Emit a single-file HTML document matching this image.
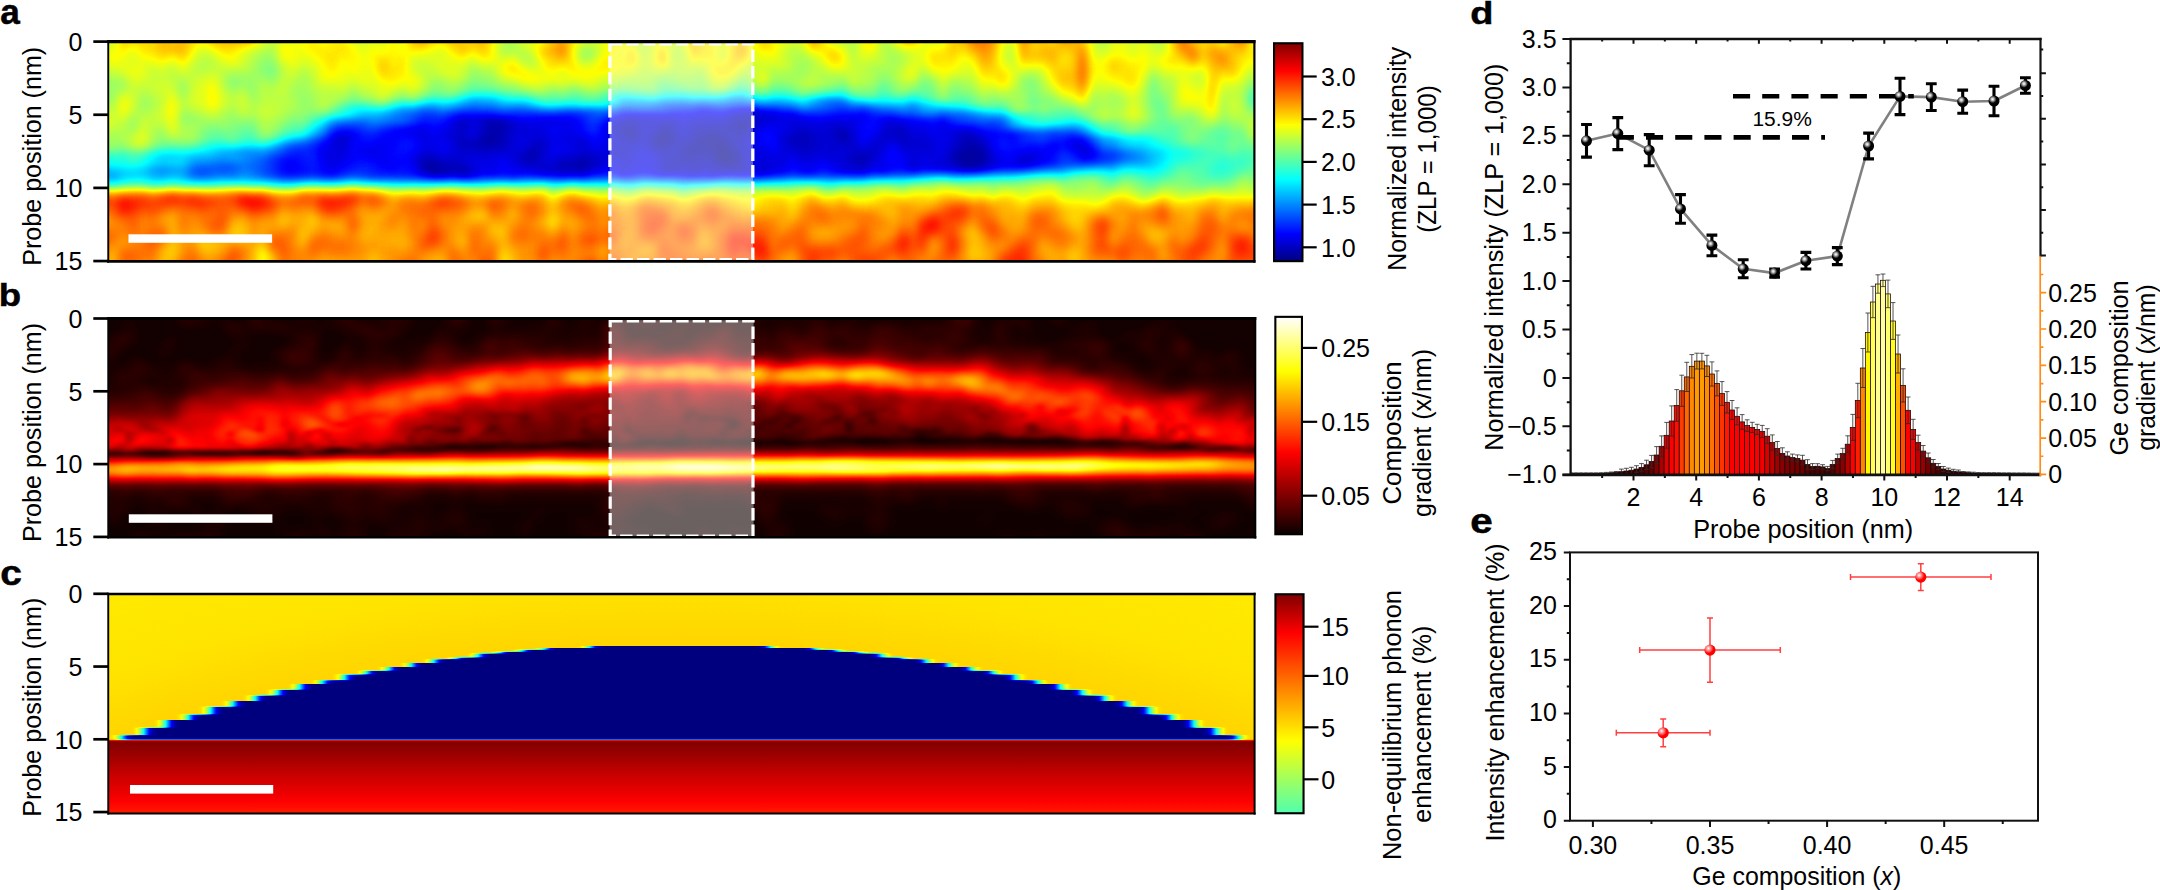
<!DOCTYPE html>
<html lang="en"><head><meta charset="utf-8"><title>Figure</title>
<style>html,body{margin:0;padding:0;background:#fff}svg{display:block}text{font-family:"Liberation Sans", sans-serif;fill:#000}</style></head><body>
<svg width="2160" height="890" viewBox="0 0 2160 890">
<defs>
<filter id="jet" x="0" y="0" width="100%" height="100%" filterUnits="objectBoundingBox" color-interpolation-filters="sRGB"><feComponentTransfer><feFuncR type="table" tableValues="0 0 0 0 .5 1 1 1 .5"/><feFuncG type="table" tableValues="0 0 .5 1 1 1 .5 0 0"/><feFuncB type="table" tableValues=".5 1 1 1 .5 0 0 0 0"/></feComponentTransfer></filter>
<filter id="hot" x="0" y="0" width="100%" height="100%" filterUnits="objectBoundingBox" color-interpolation-filters="sRGB"><feComponentTransfer><feFuncR type="table" tableValues="0.04 .333 .667 1 1 1 1 1 1"/><feFuncG type="table" tableValues="0 0 0 0 .333 .667 1 1 1"/><feFuncB type="table" tableValues="0 0 0 0 0 0 0 .5 1"/></feComponentTransfer></filter>
<filter id="blA" x="-5%" y="-20%" width="110%" height="140%" color-interpolation-filters="sRGB"><feGaussianBlur stdDeviation="5 3.2"/></filter>
<filter id="blB" x="-5%" y="-20%" width="110%" height="140%" color-interpolation-filters="sRGB"><feGaussianBlur stdDeviation="3.2 1.9"/></filter>
<filter id="bl1" x="-5%" y="-50%" width="110%" height="200%" color-interpolation-filters="sRGB"><feGaussianBlur stdDeviation="0.9"/></filter>
<linearGradient id="gJet" x1="0" y1="1" x2="0" y2="0"><stop offset="0" stop-color="#000080"/><stop offset=".125" stop-color="#0000ff"/><stop offset=".375" stop-color="#00ffff"/><stop offset=".625" stop-color="#ffff00"/><stop offset=".875" stop-color="#ff0000"/><stop offset="1" stop-color="#800000"/></linearGradient>
<linearGradient id="gHot" x1="0" y1="1" x2="0" y2="0"><stop offset="0" stop-color="#0a0000"/><stop offset=".375" stop-color="#ff0000"/><stop offset=".75" stop-color="#ffff00"/><stop offset="1" stop-color="#ffffff"/></linearGradient>
<linearGradient id="gJetC" x1="0" y1="1" x2="0" y2="0"><stop offset="0" stop-color="#52ffad"/><stop offset="0.094" stop-color="#80ff80"/><stop offset="0.33" stop-color="#ffff00"/><stop offset="0.822" stop-color="#ff0000"/><stop offset="1.0" stop-color="#800000"/></linearGradient>
<linearGradient id="gCtop" x1="0" y1="0" x2="0" y2="1"><stop offset="0" stop-color="#ffec00"/><stop offset=".45" stop-color="#ffe000"/><stop offset="1" stop-color="#ffd800"/></linearGradient>
<linearGradient id="gCbot" x1="0" y1="0" x2="0" y2="1"><stop offset="0" stop-color="#800000"/><stop offset=".82" stop-color="#fa0000"/><stop offset="1" stop-color="#ff1c00"/></linearGradient>
<radialGradient id="sphK" cx=".37" cy=".34" r=".36"><stop offset="0" stop-color="#fff"/><stop offset=".3" stop-color="#ccc"/><stop offset="1" stop-color="#000"/></radialGradient>
<radialGradient id="sphR" cx=".36" cy=".34" r=".45"><stop offset="0" stop-color="#fff"/><stop offset=".3" stop-color="#ffb0b0"/><stop offset="1" stop-color="#ff0000"/></radialGradient>
<radialGradient id="gCtopV" gradientUnits="userSpaceOnUse" cx="680" cy="2415.8" r="1930"><stop offset=".917" stop-color="#aaaaaa"/><stop offset=".95" stop-color="#a6a6a6"/><stop offset="1" stop-color="#a4a4a4"/></radialGradient>
<linearGradient id="gCbotV" gradientUnits="userSpaceOnUse" x1="0" y1="740.6" x2="0" y2="813"><stop offset="0" stop-color="#ffffff"/><stop offset="1" stop-color="#d9d9d9"/></linearGradient>
<filter id="blC" x="-2%" y="-10%" width="104%" height="120%" color-interpolation-filters="sRGB"><feGaussianBlur stdDeviation="5.5 0.5"/></filter>
<clipPath id="cpA"><rect x="108.2" y="41.6" width="1146.2" height="219.7"/></clipPath>
<clipPath id="cpB"><rect x="108.2" y="318.5" width="1147.8" height="218.6"/></clipPath>
<clipPath id="cpC"><rect x="108.2" y="594.2" width="1146.4" height="219.2"/></clipPath>
<clipPath id="cpD"><rect x="1570.6" y="39" width="470" height="435.8"/></clipPath>
</defs>
<g id="panelA">
<g clip-path="url(#cpA)"><g filter="url(#jet)">
<rect x="100" y="30" width="1165" height="245" fill="#808080"/>
<g filter="url(#blA)"><g transform="translate(78.0,28.5) scale(10.0,5.0)" fill="none" stroke-width="1.06"><path stroke="#020202" d="M64 25h1"/><path stroke="#030303" d="M64 26h1"/><path stroke="#040404" d="M64 24h1"/><path stroke="#060606" d="M58 22h1M64 23h1"/><path stroke="#070707" d="M58 21h1M58 23h1M63 23h1M65 26h1M88 26h1M64 27h1"/><path stroke="#080808" d="M66 20h1M63 22h1M65 25h1M89 25h1M65 27h1M35 28h1"/><path stroke="#090909" d="M66 19h1M55 21h1M64 22h1M62 23h1M61 24h1M63 24h1M89 24h1M88 25h1M89 26h1M89 27h1"/><path stroke="#0a0a0a" d="M41 22h1M62 22h1M62 24h1M61 25h1M90 25h1M90 26h1M35 27h1M50 27h1M88 27h1"/><path stroke="#0b0b0b" d="M41 19h1M41 21h1M63 21h1M66 21h1M76 21h1M40 23h2M61 23h1M45 25h1M63 25h1M89 28h1M35 29h1"/><path stroke="#0c0c0c" d="M41 20h1M54 20h2M58 20h1M62 21h1M40 22h1M55 22h1M76 22h1M89 23h1M58 24h1M65 24h1M78 26h1M90 27h1M36 29h1M38 29h1"/><path stroke="#0d0d0d" d="M42 19h1M65 19h1M42 20h1M65 20h1M54 21h1M59 21h1M64 21h1M59 22h1M88 24h1M90 24h1M60 25h1M62 25h1M45 26h1M50 26h1M60 26h2M63 26h1M34 27h1M36 28h1M50 28h1M88 28h1"/><path stroke="#0e0e0e" d="M66 18h1M42 21h1M61 22h1M72 22h1M57 23h1M59 23h1M45 24h1M60 24h1M48 27h1M59 27h1M61 27h1M78 27h1M38 28h1M65 28h1"/><path stroke="#0f0f0f" d="M38 19h1M59 20h1M62 20h2M40 21h1M72 21h1M42 22h1M57 22h1M88 22h2M38 23h1M42 23h1M65 23h1M88 23h1M40 24h1M87 25h1M35 26h1M62 26h1M87 26h1M49 27h1M66 27h1M34 28h1M37 28h1M48 28h1M59 28h1M64 28h1"/><path stroke="#101010" d="M41 18h1M54 19h2M64 20h1M76 20h1M61 21h1M65 21h1M82 21h1M66 22h1M72 23h1M41 24h1M66 25h1M78 25h1M34 26h1M44 26h1M59 26h1M66 26h1M36 27h2M60 27h1M63 27h1M49 28h1M61 28h1M66 28h1"/><path stroke="#111111" d="M67 17h1M65 18h1M67 18h1M67 19h1M38 20h1M61 20h1M88 21h1M38 22h1M54 22h1M65 22h1M71 22h1M82 22h1M39 23h1M60 23h1M71 23h1M76 23h1M38 24h1M59 24h1M66 24h1M72 24h1M54 25h1M58 25h1M51 26h1M77 26h1M45 27h1M51 27h1M62 27h1"/><path stroke="#121212" d="M66 17h1M55 18h1M40 19h1M58 19h2M81 20h1M57 21h1M81 21h1M73 22h1M46 23h1M55 23h1M66 23h1M73 23h1M90 23h1M39 24h1M42 24h1M46 24h1M54 24h1M57 24h1M77 25h1M79 25h1M48 26h1M38 27h1M44 27h1M58 27h1M58 28h1M90 28h1M37 29h1M50 29h1M61 29h1"/><path stroke="#131313" d="M40 18h1M63 19h2M40 20h1M53 20h1M72 20h1M82 20h1M38 21h1M75 21h1M89 21h1M26 22h1M80 22h1M45 23h1M54 23h1M82 23h1M73 24h1M77 24h1M87 24h1M44 25h1M50 25h1M59 25h1M72 25h1M49 26h1M54 26h1M58 26h1M77 27h1M87 27h1M94 27h1M63 28h1M78 28h1M48 29h1M63 29h1"/><path stroke="#141414" d="M38 18h1M56 18h2M43 19h1M61 19h2M43 20h1M67 20h1M75 20h1M71 21h1M73 21h1M46 22h1M60 22h1M75 22h1M77 22h1M26 23h1M77 23h1M80 23h1M83 23h2M71 24h1M79 24h1M40 25h1M46 25h1M37 26h1M79 26h1M46 28h1M60 28h1M62 28h1M34 29h1M39 29h1M49 29h1"/><path stroke="#151515" d="M42 18h1M59 18h1M53 19h1M56 19h2M56 20h2M56 21h1M80 21h1M39 22h1M56 22h1M81 22h1M84 22h1M50 23h1M75 23h1M50 24h1M53 24h1M75 24h1M83 24h2M100 24h1M38 25h1M53 25h1M73 25h1M36 26h1M52 26h1M94 26h1M46 27h1M83 27h1M91 27h1M47 28h1M51 28h1M68 28h1M83 28h1M58 29h1M65 29h2"/><path stroke="#161616" d="M68 17h1M54 18h1M63 18h1M68 18h1M75 19h1M81 19h1M37 21h1M43 21h1M53 21h1M60 21h1M74 21h1M77 21h1M37 22h1M43 22h1M70 22h1M74 22h1M83 22h1M56 23h1M70 23h1M74 23h1M79 23h1M87 23h1M26 24h1M55 24h1M74 24h1M76 24h1M82 24h1M85 24h1M34 25h2M39 25h1M41 25h1M51 25h1M75 25h1M38 26h1M46 26h1M72 26h1M47 27h1M52 27h1M54 27h1M68 27h1M76 27h1M86 27h1M77 28h1M87 28h1M46 29h2M54 29h1M59 29h1M64 29h1M68 29h1"/><path stroke="#171717" d="M69 17h1M64 18h1M69 18h1M71 18h1M76 19h1M82 19h1M37 20h1M44 20h1M71 20h1M73 20h2M80 20h1M44 21h1M46 21h1M84 21h1M45 22h1M50 22h1M87 22h1M90 22h1M37 23h1M43 23h1M53 23h1M85 23h1M43 24h1M80 24h1M26 25h1M42 25h2M55 25h1M57 25h1M68 25h1M74 25h1M83 25h1M68 26h1M75 26h2M83 26h1M91 26h1M95 26h1M95 27h1M39 28h1M45 28h1M54 28h1M76 28h1M86 28h1M60 29h1M62 29h1M67 29h1"/><path stroke="#181818" d="M65 17h1M39 18h1M58 18h1M62 18h1M68 19h1M71 19h2M45 20h1M60 20h1M77 20h1M45 21h1M67 21h1M70 21h1M83 21h1M25 22h1M53 22h1M100 23h1M44 24h1M70 24h1M78 24h1M37 25h1M52 25h1M71 25h1M76 25h1M84 25h2M100 25h1M25 26h1M40 26h1M43 26h1M55 26h1M70 26h1M73 26h1M86 26h1M69 27h1M79 27h1M85 27h1M67 28h1"/><path stroke="#191919" d="M61 18h1M37 19h1M39 19h1M44 19h1M60 19h1M73 19h2M34 20h1M46 20h1M26 21h1M34 21h1M87 21h1M34 22h1M49 22h1M25 23h1M49 23h1M37 24h1M56 24h1M67 24h1M25 25h1M48 25h2M70 25h1M91 25h1M26 26h1M39 26h1M41 26h1M53 26h1M69 26h1M85 26h1M25 27h1M39 27h1M55 27h1M70 27h1M44 28h1M85 28h1"/><path stroke="#1a1a1a" d="M70 18h1M81 18h1M45 19h2M69 19h1M77 19h1M86 19h1M84 20h1M86 20h1M88 20h1M39 21h1M44 22h1M48 22h1M79 22h1M85 22h1M34 23h1M67 23h1M99 23h1M25 24h1M34 24h2M68 24h1M67 25h1M80 25h1M82 25h1M95 25h1M47 26h1M74 26h1M84 26h1M72 27h1M75 27h1M84 27h1M41 28h1M52 28h1M69 28h1M80 28h1"/><path stroke="#1b1b1b" d="M62 17h1M43 18h1M47 18h1M60 18h1M72 18h1M75 18h1M77 18h1M48 19h2M70 19h1M80 19h1M33 20h1M39 20h1M70 20h1M83 20h1M36 21h1M48 21h2M86 21h1M90 21h1M35 22h2M67 22h1M35 23h1M44 23h1M81 23h1M49 24h1M51 24h2M24 25h1M86 25h1M94 25h1M101 25h1M33 26h1M57 26h1M40 27h2M43 27h1M56 27h1M67 27h1M73 27h1M93 27h1M25 28h1M55 28h1M70 28h1M91 28h1M41 29h1M78 29h1"/><path stroke="#1c1c1c" d="M46 18h1M76 18h1M78 18h1M47 19h1M48 20h2M87 20h1M27 21h1M33 21h1M27 22h1M47 22h1M86 22h1M47 23h2M86 23h1M24 24h1M29 24h1M86 24h1M91 24h1M97 24h1M99 24h1M29 25h1M36 25h1M56 25h1M69 25h1M24 26h1M30 26h1M42 26h1M56 26h1M67 26h1M71 26h1M80 26h1M57 27h1M80 27h1M92 27h1M40 28h1M56 28h2M79 28h1M84 28h1M40 29h1M51 29h1M55 29h1M57 29h1M69 29h1"/><path stroke="#1d1d1d" d="M63 17h1M70 17h2M48 18h1M80 18h1M83 19h2M32 20h1M36 20h1M68 20h1M89 20h1M85 21h1M30 23h1M51 23h2M28 24h1M30 24h1M48 24h1M28 25h1M30 25h1M47 25h1M100 26h1M26 27h1M30 27h1M33 27h1M53 27h1M43 28h1M72 28h2M25 29h1M43 29h1M45 29h1M77 29h1"/><path stroke="#1e1e1e" d="M66 16h2M59 17h1M37 18h1M45 18h1M73 18h1M47 20h1M69 20h1M35 21h1M47 21h1M50 21h1M52 21h1M91 21h1M52 22h1M36 23h1M68 23h1M78 23h1M91 23h1M47 24h1M95 24h1M29 26h1M82 26h1M92 26h2M96 26h1M21 27h1M24 27h1M31 27h1M21 28h1M75 28h1M44 29h1M76 29h1"/><path stroke="#1f1f1f" d="M55 17h1M61 17h1M78 17h1M53 18h1M74 18h1M78 19h1M52 20h1M85 20h1M31 21h2M79 21h1M92 21h2M31 22h1M91 22h1M93 22h1M99 22h1M27 23h1M29 23h1M31 23h1M97 23h1M36 24h1M33 25h1M96 25h2M101 26h1M42 27h1M74 27h1M82 27h1M96 27h1M31 28h1M81 28h1M42 29h1M70 29h1M72 29h2"/><path stroke="#202020" d="M57 17h1M60 17h1M64 17h1M44 18h1M49 18h1M82 18h1M85 19h1M35 20h1M78 20h1M69 21h1M30 22h1M33 22h1M78 22h1M100 22h1M24 23h1M27 24h1M31 24h1M69 24h1M101 24h1M27 25h1M92 25h2M27 26h2M31 26h1M71 27h1M81 27h1M24 28h1M42 28h1M53 28h1M82 28h1M21 29h1M24 29h1M52 29h1M56 29h1M38 30h1"/><path stroke="#212121" d="M54 17h1M76 17h1M34 19h1M30 21h1M68 21h1M78 21h1M51 22h1M28 23h1M93 23h1M81 24h1M96 24h1M31 25h1M21 26h1M32 26h1M97 26h1M20 27h1M32 27h1M20 28h1M30 28h1M33 28h1M92 28h3M20 29h1M53 29h1M36 30h1"/><path stroke="#222222" d="M65 16h1M56 17h1M77 17h1M79 18h1M36 19h1M50 19h1M52 19h1M31 20h1M50 20h1M79 20h1M25 21h1M32 22h1M68 22h2M69 23h1M98 23h1M93 24h2M81 26h1M27 27h1M29 27h1M22 28h1M26 28h1M22 29h1M33 29h1M75 29h1M80 29h1M35 30h1"/><path stroke="#232323" d="M62 16h1M38 17h1M58 17h1M83 18h1M33 24h1M32 25h1M81 25h1M20 26h1M22 27h1M97 27h1M32 28h1M71 28h1M31 29h1M39 30h1"/><path stroke="#242424" d="M86 18h1M35 19h1M79 19h1M87 19h1M28 22h2M92 22h1M32 23h2M95 23h1M32 24h1M92 24h1M98 24h1M99 25h1M74 28h1M30 29h1M32 29h1"/><path stroke="#252525" d="M39 17h1M75 17h1M22 26h1M28 27h1M26 29h1M79 29h1"/><path stroke="#262626" d="M40 17h1M48 17h2M84 18h1M26 20h1M28 21h1M94 23h1M23 28h1M27 28h1M29 28h1M23 29h1M29 29h1M71 29h1"/><path stroke="#272727" d="M63 16h1M41 17h1M50 18h1M90 20h1M51 21h1M98 22h1M92 23h1M96 23h1M23 24h1M21 25h3M23 27h1M83 29h1M37 30h1M61 30h1M63 30h1"/><path stroke="#282828" d="M72 17h1M34 18h1M27 20h1M91 20h1M29 21h1M94 21h1M23 26h1M95 28h1M74 29h1"/><path stroke="#292929" d="M64 16h1M68 16h1M37 17h1M43 17h1M45 17h1M73 17h2M79 17h1M35 18h2M97 22h1M99 26h1M28 28h1M81 29h1M34 30h1M48 30h1M60 30h1"/><path stroke="#2a2a2a" d="M69 16h1M44 17h1M46 17h1M50 17h1M85 18h1M33 19h1M88 19h1M30 20h1M102 26h1M100 27h1M50 30h1M54 30h1M62 30h1"/><path stroke="#2b2b2b" d="M61 16h1M47 17h1M89 19h1M99 21h1M94 22h1M22 24h1M98 25h1M19 27h1M27 29h2M82 29h1M88 29h2M43 30h1"/><path stroke="#2c2c2c" d="M78 16h1M42 17h1M53 17h1M80 17h1M51 20h1M97 21h1M24 22h1M101 23h1M21 24h1M102 25h1M103 26h1M19 28h1M19 29h1M40 30h1M47 30h1"/><path stroke="#2d2d2d" d="M60 16h1M76 16h1M52 18h1M51 19h1M91 19h1M25 20h1M23 23h1M19 26h1M25 30h1M41 30h1M49 30h1M55 30h1M58 30h1"/><path stroke="#2e2e2e" d="M34 17h1M81 17h1M28 20h1M92 20h1M95 21h1M95 22h1M103 25h1M98 26h1M101 27h1M87 29h1M21 30h1M33 30h1M66 30h2"/><path stroke="#2f2f2f" d="M59 16h1M35 17h1M98 21h1M20 25h1M98 27h2M20 30h1M24 30h1M32 30h1M42 30h1M46 30h1M59 30h1M64 30h1M68 30h1"/><path stroke="#303030" d="M70 16h1M87 18h1M90 19h1M30 30h1M65 30h1"/><path stroke="#313131" d="M96 28h1M12 29h1M84 29h1M22 30h1M29 30h1M44 30h1M57 30h1"/><path stroke="#323232" d="M75 16h1M51 17h1M51 18h1M96 21h1M96 22h1M90 29h1M31 30h1M45 30h1M51 30h1"/><path stroke="#333333" d="M71 16h1M77 16h1M36 17h1M33 18h1M27 19h1M32 19h1M92 19h1M29 20h1M102 27h1M14 28h1M18 29h1M85 29h2"/><path stroke="#343434" d="M39 16h1M54 16h1M58 16h1M52 17h1M28 19h1M12 28h1M18 28h1"/><path stroke="#353535" d="M76 15h1M40 16h1M79 16h1M86 17h1M88 18h1M26 19h1M31 19h1M101 22h1M18 27h1M23 30h1M52 30h2M56 30h1"/><path stroke="#363636" d="M41 16h1M82 17h2M100 21h1M22 23h1M15 28h1M97 28h1M26 30h1M69 30h1"/><path stroke="#373737" d="M55 16h1M74 16h1M33 17h1M20 24h1M102 24h1M104 26h1M103 27h1M13 28h1M11 29h1M28 30h1"/><path stroke="#383838" d="M62 15h1M66 15h1M75 15h1M38 16h1M89 18h1M104 25h1M11 28h1M13 29h2M19 30h1"/><path stroke="#393939" d="M60 15h1M44 16h1M57 16h1M87 17h2M19 25h1M18 26h1M14 27h1M15 29h1M70 30h1"/><path stroke="#3a3a3a" d="M59 15h1M43 16h1M30 19h1M21 23h1M103 24h1M17 27h1"/><path stroke="#3b3b3b" d="M56 16h1M73 16h1M80 16h1M32 17h1M32 18h1M91 18h1M93 20h1M23 22h1M15 27h1M17 28h1M98 28h1M91 29h1M75 30h1"/><path stroke="#3c3c3c" d="M61 15h1M65 15h1M42 16h1M81 16h1M92 18h1M29 19h1M72 30h1M77 30h2"/><path stroke="#3d3d3d" d="M58 15h1M34 16h2M83 16h1M90 18h1M17 29h1M27 30h1M73 30h1"/><path stroke="#3e3e3e" d="M67 15h1M31 18h1M25 19h1M99 20h1M105 26h1M13 27h1M16 27h1M16 28h1M76 30h1"/><path stroke="#3f3f3f" d="M74 15h1M37 16h1M45 16h1M84 17h1M24 21h1M17 26h1M92 29h1M12 30h1M18 30h1M71 30h1M74 30h1"/><path stroke="#404040" d="M63 15h1M49 16h1M53 16h1M72 16h1M85 17h1M89 17h1M105 25h1M12 27h1M93 29h1"/><path stroke="#414141" d="M17 25h1"/><path stroke="#424242" d="M39 15h1M64 15h1M28 18h1M97 20h2M18 25h1M16 29h1M11 30h1"/><path stroke="#434343" d="M75 14h1M69 15h1M48 16h1M50 16h2M82 16h1M31 17h1M94 20h1M102 23h1M16 25h1M99 28h1M13 30h1"/><path stroke="#444444" d="M30 18h1M8 28h1"/><path stroke="#454545" d="M40 15h1M57 15h1M70 15h1M77 15h2M19 24h1M106 26h1M11 27h1M104 27h1M15 30h1"/><path stroke="#464646" d="M41 15h1M36 16h1M46 16h1M104 24h1M14 26h1M100 28h1M8 29h1M94 29h1M17 30h1"/><path stroke="#474747" d="M66 14h1M56 15h1M68 15h1M52 16h1M29 18h1M103 23h1M15 25h1M16 26h1M14 30h1M79 30h2"/><path stroke="#484848" d="M76 14h1M73 15h1M84 16h1M27 18h1M95 20h1M102 22h1M20 23h1M106 25h1M9 28h1"/><path stroke="#494949" d="M65 14h1M74 14h1M38 15h1M55 15h1M71 15h1M83 15h1M32 16h2M47 16h1M24 20h1M96 20h1M14 25h1M105 27h1"/><path stroke="#4a4a4a" d="M54 15h1M90 17h1M13 26h1M15 26h1M106 27h1M7 28h1M2 29h1M7 29h1M10 29h1M3 30h1M16 30h1"/><path stroke="#4b4b4b" d="M100 20h1M103 22h1M12 26h1M10 28h1M3 29h1M9 29h1"/><path stroke="#4c4c4c" d="M17 24h1M105 24h1M11 26h1M101 28h1M103 28h1M81 30h2"/><path stroke="#4d4d4d" d="M44 15h1M30 17h1M26 18h1M93 19h1M22 22h1M102 28h1M60 31h1"/><path stroke="#4e4e4e" d="M85 16h2M101 21h1M16 24h1M95 29h1M2 30h1"/><path stroke="#4f4f4f" d="M39 14h1M42 15h2M18 24h1M8 30h1"/><path stroke="#505050" d="M40 14h1M79 15h1M91 17h1M106 24h1M107 26h1M1 29h1M10 30h1"/><path stroke="#515151" d="M35 15h1M23 21h1M13 25h1M107 25h1M7 30h1M83 30h1"/><path stroke="#525252" d="M29 17h1M92 17h1M20 31h1M55 31h1M61 31h2"/><path stroke="#535353" d="M41 14h1M64 14h1M80 15h1M28 17h1M107 27h1M4 29h1M6 29h1M21 31h1M32 31h1M38 31h2M54 31h1"/><path stroke="#545454" d="M54 14h1M37 15h1M87 16h1M25 18h1M8 26h1M8 27h1M2 28h1M0 29h1M96 29h1M35 31h1"/><path stroke="#555555" d="M73 14h1M72 15h1M81 15h1M31 16h1M21 22h1M104 23h1M12 25h1M9 26h1M3 28h1M5 29h1M97 29h2M1 30h1M4 30h1M34 31h1M36 31h1M47 31h1"/><path stroke="#565656" d="M60 14h1M67 14h1M69 14h1M82 15h1M84 15h1M88 16h1M99 19h1M104 22h1M15 24h1M108 25h1M10 26h1M10 27h1M6 28h1M9 30h1M31 31h1M33 31h1M40 31h1M48 31h1"/><path stroke="#575757" d="M55 14h1M59 14h1M70 14h1M34 15h1M93 18h1M14 24h1M11 25h1M9 27h1M0 30h1M50 31h1M63 31h1"/><path stroke="#585858" d="M7 27h1M106 28h1M84 30h1M19 31h1M30 31h1M37 31h1M43 31h1M59 31h1M66 31h1"/><path stroke="#595959" d="M58 14h1M62 14h2M36 15h1M45 15h1M107 24h1M8 25h2M108 26h1M4 28h1M104 28h1M87 30h2M52 31h1M58 31h1M67 31h1"/><path stroke="#5a5a5a" d="M24 19h1M106 23h1M1 28h1M107 28h1M5 30h2M25 31h1M41 31h1M51 31h1"/><path stroke="#5b5b5b" d="M23 20h1M7 26h1M5 28h1M105 28h1M22 31h1M24 31h1M29 31h1M65 31h1"/><path stroke="#5c5c5c" d="M38 14h1M56 14h1M100 19h1M105 22h2M105 23h1M10 25h1M108 27h1M89 30h1M44 31h1M57 31h1M68 31h1"/><path stroke="#5d5d5d" d="M61 14h1M71 14h1M19 23h1M13 24h1M108 24h1M42 31h1M45 31h1M53 31h1M75 31h1"/><path stroke="#5e5e5e" d="M28 16h1M94 19h1M103 29h1M3 31h1M49 31h1M64 31h1"/><path stroke="#5f5f5f" d="M66 13h1M42 14h1M68 14h1M53 15h1M98 19h1M1 26h1M85 30h1M11 31h3M56 31h1M69 31h1"/><path stroke="#606060" d="M83 14h1M85 15h1M27 16h1M27 17h1M1 27h1M0 28h1M90 30h1M17 31h2M26 31h1M28 31h1"/><path stroke="#616161" d="M101 20h1M2 27h1M108 28h1M23 31h1M46 31h1M70 31h1M74 31h1"/><path stroke="#626262" d="M107 23h1M7 25h1M0 26h1M99 29h1M86 30h1M2 31h1"/><path stroke="#636363" d="M77 14h1M29 16h1M89 16h1M102 21h1M109 25h2M0 27h1M6 27h1M120 28h1M107 29h1M91 30h1M7 31h1"/><path stroke="#646464" d="M44 14h1M57 14h1M32 15h1M49 15h1M30 16h1M94 18h1M97 19h1M20 22h1M107 22h1M2 26h1M3 27h1M120 29h1M8 31h1M15 31h1"/><path stroke="#656565" d="M65 13h1M17 23h1M12 24h1M109 26h1M4 27h1M10 31h1M14 31h1M16 31h1"/><path stroke="#666666" d="M43 14h1M72 14h1M80 14h1M48 15h1M110 26h1M106 29h1M92 30h2M71 31h1"/><path stroke="#676767" d="M53 14h1M33 15h1M95 19h1M109 24h1M4 26h1M109 27h1M100 29h1M102 29h1M76 31h2"/><path stroke="#686868" d="M46 15h1M24 18h1M13 23h2M16 23h1M1 25h1M3 26h1M120 27h1M114 28h1M4 31h1M27 31h1M72 31h1M78 31h1"/><path stroke="#696969" d="M39 13h1M60 13h1M86 15h1M95 18h1M103 21h1M108 23h1M110 24h1M0 25h1M111 25h1M5 27h1M114 27h1M108 29h1M0 31h2M73 31h1"/><path stroke="#6a6a6a" d="M40 13h2M59 13h1M76 13h1M47 15h1M50 15h3M99 18h1M22 21h1M6 26h1M101 29h1M120 30h1"/><path stroke="#6b6b6b" d="M58 13h1M35 14h1M81 14h1M87 15h1M26 17h1M23 19h1M96 19h1M111 26h1M113 28h1M105 29h1M114 29h1M9 31h1"/><path stroke="#6c6c6c" d="M54 13h1M37 14h1M78 14h1M82 14h1M26 16h1M18 23h1M114 26h1M116 27h1M104 29h1M113 29h1M103 30h1M107 30h1"/><path stroke="#6d6d6d" d="M45 14h1M117 14h1M88 15h1M90 16h1M98 18h1M21 21h1M4 25h1M112 25h1M116 26h1M110 27h1M115 27h1M118 27h1M109 28h1M115 28h1M94 30h1M6 31h1"/><path stroke="#6e6e6e" d="M70 13h1M75 13h1M93 17h1M108 22h1M9 24h1M11 24h1M118 26h1M120 26h1M113 27h1M118 28h1M5 31h1M60 32h1"/><path stroke="#6f6f6f" d="M62 13h1M80 13h1M36 14h1M79 14h1M84 14h1M97 18h1M101 19h1M15 23h1M109 23h1M111 24h1M111 27h1M119 28h1M98 30h1M82 31h1"/><path stroke="#707070" d="M61 13h1M69 13h1M117 13h1M49 14h1M91 16h2M17 22h1M118 25h1M120 25h1M5 26h1M112 26h1M115 26h1M119 27h1M115 29h1"/><path stroke="#717171" d="M66 12h1M31 15h1M117 15h1M96 18h1M109 22h1M12 23h1M8 24h1M10 24h1M112 24h1M2 25h1M6 25h1M114 25h1M116 25h1M113 26h1M116 28h1M114 30h1M79 31h1"/><path stroke="#727272" d="M42 13h1M22 20h1M109 21h1M16 22h1M3 25h1M113 25h1M112 27h1M119 29h1M106 30h1M113 30h1M81 31h1"/><path stroke="#737373" d="M76 12h1M53 13h1M52 14h1M27 15h1M25 17h1M95 17h1M100 18h1M102 20h2M106 21h1M117 26h1M119 26h1M111 28h2M109 29h1M95 30h1M108 30h1"/><path stroke="#747474" d="M55 13h1M64 13h1M67 13h1M83 13h1M47 14h1M98 17h2M23 18h1M21 20h1M20 21h1M107 21h1M114 21h1M114 22h1M118 29h1M80 31h1"/><path stroke="#757575" d="M80 12h1M38 13h1M71 13h1M74 13h1M50 14h1M109 20h1M16 21h2M114 23h1M1 24h1M113 24h2M118 24h1M120 24h1M5 25h1M117 25h1M119 25h1M117 27h1M112 29h1M107 31h1M120 31h1M55 32h1"/><path stroke="#767676" d="M84 13h1M48 14h1M88 14h1M28 15h1M97 17h1M104 21h1M108 21h1M110 23h1M116 24h1M110 28h1M111 29h1M96 30h2M102 30h1M112 30h1"/><path stroke="#777777" d="M39 12h1M43 13h1M56 13h1M63 13h1M46 14h1M94 17h1M108 19h1M108 20h1M13 21h1M13 22h2M112 23h1M115 25h1M115 30h1M103 31h1M54 32h1"/><path stroke="#787878" d="M69 12h2M117 12h1M34 14h1M89 15h1M107 20h1M114 20h1M113 21h1M19 22h1M113 22h1M113 23h1M0 24h1M117 28h1M105 30h1"/><path stroke="#797979" d="M40 12h1M58 12h1M35 13h1M85 13h1M51 14h1M85 14h1M87 14h1M118 14h1M95 15h1M108 16h1M108 17h1M108 18h1M103 19h1M0 20h1M14 21h1M116 23h1M120 23h1M119 24h1M109 30h1M111 30h1M119 30h1M83 31h1M112 31h1M47 32h1M61 32h1"/><path stroke="#7a7a7a" d="M75 12h1M44 13h1M49 13h1M52 13h1M81 13h1M89 14h1M92 15h1M118 15h1M96 17h1M0 19h1M21 19h1M109 19h1M116 22h1M7 24h1M117 24h1M116 29h1M99 30h1M106 31h1M75 32h1"/><path stroke="#7b7b7b" d="M66 11h1M80 11h1M41 12h1M107 12h1M57 13h1M73 13h1M87 13h1M29 15h1M108 15h1M117 16h1M16 20h2M0 21h1M105 21h1M112 22h1M118 23h2M104 30h1M84 31h1M91 31h1M113 31h2M62 32h1"/><path stroke="#7c7c7c" d="M84 11h1M59 12h1M84 12h1M107 13h1M95 14h1M107 14h1M91 15h1M107 15h1M102 19h1M107 19h1M106 20h1M110 21h1M112 21h1M115 21h2M15 22h1M110 22h1M0 23h1M111 23h1M110 29h1M117 29h1M100 30h1M52 32h1M59 32h1M74 32h1"/><path stroke="#7d7d7d" d="M39 11h1M58 11h1M107 11h1M71 12h1M47 13h1M68 13h1M118 13h1M32 14h1M25 16h1M98 16h1M22 19h1M20 20h1M15 21h1M0 22h1M115 22h1M1 23h1M8 23h1M115 24h1M88 31h1M111 31h1"/><path stroke="#7e7e7e" d="M19 8h1M19 9h1M65 12h1M36 13h1M77 13h1M79 13h1M95 13h1M26 15h1M99 16h1M107 16h1M118 16h1M0 18h1M114 19h1M104 20h1M110 20h1M113 20h1M12 21h1M18 22h1M119 22h1M9 23h1M11 23h1M115 23h1M93 31h1M102 31h1M66 32h1M107 32h1"/><path stroke="#7f7f7f" d="M95 11h1M60 12h1M74 12h1M85 12h1M95 12h1M50 13h1M88 13h1M27 14h1M108 14h1M97 16h1M23 17h1M17 19h1M110 19h1M13 20h1M12 22h1M120 22h1M4 24h1M101 30h1M110 30h1M118 30h1M87 31h1M89 31h1M92 31h1M108 31h1M31 32h1M58 32h1"/><path stroke="#808080" d="M40 11h1M67 12h1M87 12h1M78 13h1M82 13h1M97 15h1M95 16h1M24 17h1M100 17h1M16 19h1M111 19h1M115 20h1M111 21h1M10 23h1M117 23h1M85 31h1M98 31h1M20 32h1M32 32h1M34 32h1M65 32h1M67 32h1M106 32h1"/><path stroke="#818181" d="M80 10h1M107 10h1M15 11h1M59 11h1M85 11h1M117 11h1M38 12h1M54 12h1M81 12h1M37 13h1M90 15h1M96 15h1M107 17h1M21 18h1M107 18h1M111 18h1M15 20h1M116 20h1M1 22h1M118 22h1M117 30h1M90 31h1M109 31h2M115 31h1M21 32h1M40 32h1M50 32h2M70 32h1"/><path stroke="#828282" d="M19 7h1M18 8h1M19 10h1M39 10h1M76 11h1M35 12h1M42 12h1M62 12h1M78 12h2M45 13h1M72 13h1M96 14h1M30 15h1M118 17h1M22 18h1M15 19h1M104 19h1M14 20h1M111 20h1M1 21h1M19 21h1M2 24h2M94 31h1M105 31h1M119 31h1M68 32h2M112 32h1"/><path stroke="#838383" d="M18 7h1M120 9h1M15 10h1M84 10h1M95 10h1M41 11h1M62 11h1M69 11h2M81 11h1M43 12h1M49 12h1M55 12h1M83 12h1M48 13h1M51 13h1M89 13h1M91 14h1M101 18h1M109 18h2M118 18h1M20 19h1M112 20h1M119 21h1M8 22h1M111 22h1M19 32h1M48 32h1M53 32h1M57 32h1"/><path stroke="#848484" d="M120 8h1M18 9h1M35 11h1M94 11h1M10 12h1M17 12h1M36 12h1M73 12h1M77 12h1M22 14h1M97 14h1M22 15h1M93 15h1M0 17h1M10 18h1M114 18h1M118 19h1M1 20h1M12 20h1M105 20h1M118 20h1M118 21h1M99 31h1M39 32h1M63 32h1M71 32h1M77 32h1M82 32h1M111 32h1M60 33h1"/><path stroke="#858585" d="M39 9h1M40 10h1M58 10h1M66 10h1M120 10h1M17 11h1M36 11h1M60 11h1M87 11h1M15 12h1M56 12h1M61 12h1M88 12h1M118 12h1M17 13h1M27 13h1M34 13h1M46 13h1M108 13h1M28 14h1M119 14h1M94 15h1M101 16h1M22 17h1M117 17h1M15 18h1M5 19h1M13 19h1M106 19h1M120 21h1M7 23h1M116 30h1M100 31h1M3 32h1M33 32h1M35 32h1M44 32h1M56 32h1M78 32h1M102 32h2M110 32h1"/><path stroke="#868686" d="M50 5h1M18 6h2M80 9h1M17 10h1M38 11h1M3 12h1M53 12h1M57 12h1M94 12h1M3 13h1M10 13h1M22 13h1M31 14h1M86 14h1M6 15h1M119 15h1M22 16h2M96 16h1M21 17h1M11 18h1M17 18h1M12 19h1M14 19h1M115 19h1M8 21h1M4 23h1M86 31h1M95 31h1M117 31h1M7 32h1M38 32h1M64 32h1M76 32h1M91 32h1M114 32h1M120 32h1"/><path stroke="#878787" d="M43 0h1M76 0h1M72 7h1M72 8h1M72 9h1M16 10h1M41 10h1M62 10h1M94 10h1M2 11h2M10 11h1M16 11h1M61 11h1M2 12h1M68 12h1M72 12h1M2 13h1M94 13h1M96 13h1M3 14h1M17 14h1M33 14h1M90 14h1M23 15h1M98 15h1M101 15h1M10 17h1M15 17h1M114 17h1M10 19h1M116 19h1M5 20h1M18 21h1M3 23h1M104 31h1M106 33h1"/><path stroke="#888888" d="M19 5h1M81 6h1M17 9h1M84 9h1M18 10h1M59 10h1M76 10h1M81 10h1M117 10h1M4 11h1M19 11h1M22 11h1M57 11h1M71 11h1M120 11h1M22 12h1M47 12h1M89 12h1M32 13h1M91 13h1M2 14h1M6 14h1M23 14h1M92 14h1M101 14h1M103 14h1M103 15h1M6 16h1M93 16h1M114 16h1M101 17h1M111 17h1M5 18h1M1 19h1M11 19h1M112 19h1M2 23h1M30 32h1M41 32h1M43 32h1M45 32h1M99 32h1"/><path stroke="#898989" d="M80 2h1M51 5h1M81 5h1M50 6h1M81 7h1M39 8h1M15 9h1M71 9h1M107 9h1M2 10h1M22 10h1M69 10h3M54 11h2M65 11h1M75 11h1M88 11h1M120 12h1M21 13h1M86 13h1M93 13h1M119 13h2M10 14h1M26 14h1M3 15h1M114 15h1M100 16h1M109 17h1M16 18h1M20 18h1M103 18h1M113 19h1M19 20h1M3 22h1M10 22h1M5 24h1M96 31h1M72 32h1M79 32h1M81 32h1M100 32h1M109 32h1M113 32h1"/><path stroke="#8a8a8a" d="M43 1h1M43 3h1M77 3h1M80 3h1M77 4h1M72 6h1M120 7h1M80 8h2M40 9h1M69 9h1M81 9h1M3 10h1M72 10h1M74 10h2M85 10h1M67 11h1M79 11h1M4 12h1M21 12h1M27 12h1M37 12h1M44 12h1M52 12h1M82 12h1M96 12h1M108 12h1M23 13h1M29 14h1M94 14h1M120 14h1M17 15h1M25 15h1M0 16h1M103 16h1M11 17h1M110 17h1M12 18h1M14 18h1M19 19h1M105 19h1M10 20h1M119 20h1M3 21h1M10 21h1M2 22h1M4 22h1M7 22h1M117 22h1M101 31h1M2 32h1M12 32h2M98 32h1M105 32h1M115 32h1"/><path stroke="#8b8b8b" d="M80 1h1M43 2h1M77 2h1M19 4h1M42 4h2M50 4h2M18 5h1M17 8h1M16 9h1M22 9h1M41 9h1M62 9h1M95 9h1M35 10h1M61 10h1M79 10h1M42 11h1M56 11h1M16 12h1M50 12h1M6 13h1M15 13h1M21 14h1M93 14h1M114 14h1M7 15h1M104 15h1M10 16h1M15 16h1M21 16h1M17 17h1M8 20h1M7 21h1M11 21h1M9 22h1M11 22h1M6 24h1M8 32h1M36 32h2M108 32h1M117 32h1M107 33h1"/><path stroke="#8c8c8c" d="M76 1h1M102 3h1M80 4h1M44 5h1M77 5h1M44 6h1M17 7h1M73 7h1M71 8h1M79 8h1M0 9h1M59 9h1M70 9h1M74 9h1M79 9h1M57 10h1M60 10h1M37 11h1M43 11h1M74 11h1M83 11h1M108 11h1M19 12h1M23 12h1M109 12h1M101 13h1M103 13h1M109 13h1M109 14h1M116 14h1M10 15h1M109 15h1M3 16h1M7 16h1M17 16h1M24 16h1M94 16h1M104 16h1M109 16h1M119 16h1M6 17h1M14 17h1M104 18h1M115 18h2M11 20h1M120 20h1M4 21h1M97 31h1M118 31h1M49 32h1M93 32h2M110 33h1"/><path stroke="#8d8d8d" d="M77 0h1M80 0h1M77 1h1M102 2h1M42 3h1M56 4h1M81 4h1M42 5h1M71 5h1M71 6h1M82 6h1M12 7h1M71 7h1M12 8h1M2 9h1M61 9h1M0 10h1M4 10h1M10 10h1M78 10h1M18 11h1M21 11h1M78 11h1M82 11h1M89 11h1M96 11h1M109 11h1M48 12h1M28 13h1M97 13h1M116 13h1M7 14h1M104 14h1M106 14h1M2 15h1M21 15h1M99 15h1M102 15h1M116 15h1M120 15h1M102 16h1M5 17h1M20 17h1M103 17h1M1 18h1M13 18h1M18 19h1M7 20h1M18 20h1M5 21h1M0 32h2M4 32h1M10 32h2M42 32h1M46 32h1M73 32h1M89 32h1M54 33h2M99 33h1M102 33h1"/><path stroke="#8e8e8e" d="M19 3h1M56 3h1M108 3h1M120 3h1M56 5h1M72 5h1M80 5h1M12 6h1M17 6h1M51 6h1M77 6h1M45 7h1M80 7h1M82 7h1M73 8h1M66 9h1M117 9h1M14 10h1M36 10h1M55 10h2M23 11h1M53 11h1M118 11h1M19 13h1M25 13h1M92 13h1M15 14h1M25 14h1M102 14h1M15 15h1M20 15h1M106 15h1M20 16h1M116 16h1M116 17h1M19 18h1M102 18h1M106 18h1M112 18h1M4 20h1M2 21h1M116 31h1M17 32h1M25 32h1M80 32h1M101 32h1M100 33h1"/><path stroke="#8f8f8f" d="M71 4h1M102 4h1M120 4h1M59 5h1M93 5h1M45 6h1M93 6h1M120 6h1M13 7h1M39 7h1M79 7h1M9 9h1M14 9h1M35 9h1M58 9h1M60 9h1M73 9h1M78 9h1M9 10h1M67 10h1M87 10h2M108 10h1M14 11h1M52 11h1M72 11h1M6 12h1M18 12h1M63 12h1M116 12h1M18 13h1M24 13h1M26 13h1M90 13h1M106 13h1M114 13h1M18 14h2M24 14h1M18 15h1M106 16h1M3 17h1M7 17h1M12 17h1M104 17h1M117 18h1M7 19h1M3 20h1M14 32h1M83 32h1M85 32h1M88 32h1M90 32h1M92 32h1M119 32h1M47 33h1M74 33h2"/><path stroke="#909090" d="M105 0h1M105 1h1M76 2h1M108 2h1M18 4h1M44 4h1M59 4h1M43 5h1M60 5h1M59 6h2M80 6h1M77 7h1M0 8h1M9 8h1M11 8h1M13 8h1M16 8h1M22 8h1M34 8h1M40 8h2M59 8h1M67 8h1M69 8h1M78 8h1M84 8h1M3 9h1M11 9h2M20 9h1M56 9h2M67 9h1M75 9h1M94 9h1M23 10h1M38 10h1M54 10h1M73 10h1M96 10h1M109 10h1M49 11h1M64 12h1M119 12h1M7 13h1M102 13h1M20 14h1M0 15h1M16 17h1M6 18h1M8 19h1M18 32h1M22 32h1M24 32h1M84 32h1M61 33h1M91 33h1M101 33h1M111 33h2"/><path stroke="#919191" d="M27 0h1M27 1h1M55 1h1M120 2h1M93 4h1M108 4h1M17 5h1M82 5h1M120 5h1M13 6h1M56 6h1M73 6h1M59 7h1M20 8h1M56 8h1M62 8h1M74 8h1M82 8h1M107 8h1M7 9h1M34 9h1M76 9h1M7 10h1M20 10h2M89 10h1M0 11h1M14 12h1M25 12h1M32 12h1M34 12h1M45 12h2M93 12h1M16 13h1M20 13h1M29 13h1M31 13h1M33 13h1M98 14h1M19 15h1M24 15h1M11 16h1M14 16h1M120 16h1M19 17h1M106 17h1M115 17h1M7 18h1M18 18h1M4 19h1M117 21h1M5 23h1M6 32h1M29 32h1M95 32h1M104 32h1M78 33h1M98 33h1M106 34h1"/><path stroke="#929292" d="M3 0h1M45 0h2M55 0h1M114 0h1M19 2h1M75 2h1M105 2h1M107 2h1M51 3h1M107 3h1M60 4h1M72 4h1M12 5h1M34 7h1M44 7h1M50 7h1M56 7h1M60 7h1M93 7h1M2 8h1M14 8h2M35 8h1M60 8h1M70 8h1M77 8h1M23 9h1M11 10h1M77 10h1M112 10h1M1 11h1M7 11h1M9 11h1M20 11h1M27 11h1M73 11h1M77 11h1M116 11h1M1 12h1M7 12h1M51 12h1M86 12h1M91 12h1M4 13h1M104 13h1M115 13h1M8 14h1M8 15h1M18 16h2M110 16h2M1 17h1M102 17h1M3 18h1M3 19h1M119 19h2M5 22h1M5 32h1M77 33h1"/><path stroke="#939393" d="M3 1h1M28 1h1M75 1h1M102 1h1M108 1h1M114 1h1M3 2h1M28 2h1M42 2h1M55 2h2M59 3h1M81 3h1M105 3h1M107 4h1M11 7h1M78 7h1M7 8h1M61 8h1M38 9h1M77 9h1M1 10h1M8 10h1M6 11h1M11 11h1M34 11h1M47 11h1M63 11h1M112 11h1M5 12h1M20 12h1M24 12h1M28 12h1M101 12h1M103 12h1M106 12h1M114 12h2M1 13h1M14 13h1M115 14h1M5 16h1M18 17h1M119 17h1M117 19h1M9 32h1M23 32h1M26 32h1M116 32h1M52 33h1M66 33h1M94 33h1M105 33h1M109 33h1M115 33h1M117 33h1"/><path stroke="#949494" d="M28 0h1M45 1h2M107 1h1M3 3h1M28 3h1M50 3h1M71 3h1M76 3h1M93 3h1M105 4h1M42 6h1M79 6h1M16 7h1M22 7h1M33 7h1M67 7h1M45 8h1M4 9h1M8 9h1M10 9h1M13 9h1M36 9h1M82 9h1M96 9h1M108 9h1M119 9h1M12 10h1M34 10h1M42 10h1M53 10h1M82 10h1M111 10h1M8 11h1M86 11h1M119 11h1M0 12h1M11 12h1M29 12h1M5 13h1M8 13h1M0 14h1M16 14h1M30 14h1M8 16h1M12 16h1M16 16h1M115 16h1M112 17h1M8 18h1M6 19h1M15 32h1M28 32h1M96 32h1M59 33h1M67 33h1M71 33h1M79 33h1M82 33h1M114 33h1M101 34h1"/><path stroke="#959595" d="M26 0h1M44 0h1M108 0h1M27 2h1M64 4h1M45 5h1M64 5h1M70 5h1M102 5h1M70 6h1M9 7h1M20 7h1M35 7h1M70 7h1M23 8h1M33 8h1M38 8h1M57 8h1M117 8h1M21 9h1M55 9h1M85 9h1M88 9h2M112 9h1M37 10h1M65 10h1M119 10h1M8 12h2M26 12h1M97 12h1M102 12h1M0 13h1M1 14h1M5 14h1M14 14h1M5 15h1M14 15h1M16 15h1M115 15h1M1 16h2M8 17h1M13 17h1M120 17h1M117 20h1M9 21h1M16 32h1M87 32h1M103 33h1"/><path stroke="#969696" d="M38 0h1M47 0h1M54 0h1M107 0h1M44 3h1M72 3h1M75 3h1M101 3h1M70 4h1M107 5h1M16 6h1M34 6h1M39 6h1M83 6h1M14 7h1M69 7h1M74 7h1M84 7h1M3 8h1M66 8h1M68 8h1M93 8h1M95 8h1M119 8h1M48 9h1M109 9h1M52 10h1M118 10h1M5 11h1M44 11h1M46 11h1M50 11h1M64 11h1M68 11h1M93 11h1M106 11h1M111 11h1M90 12h1M11 13h1M1 15h1M11 15h1M4 18h1M105 18h1M113 18h1M119 18h2M2 20h1M6 20h1M58 33h1M65 33h1M70 33h1M102 34h1"/><path stroke="#979797" d="M19 1h1M106 1h1M120 1h1M45 2h1M93 2h1M101 2h1M18 3h1M64 3h1M12 4h1M28 4h1M101 4h1M13 5h1M36 5h1M83 5h1M92 5h1M105 5h1M108 5h1M5 6h1M11 6h1M33 6h1M35 6h1M64 6h1M67 6h1M78 6h1M92 6h1M0 7h1M2 7h1M41 7h1M51 7h1M68 7h1M107 7h1M8 8h1M37 9h1M111 9h1M6 10h1M27 10h1M116 10h1M12 11h1M25 11h1M29 11h1M48 11h1M112 12h1M11 14h2M12 15h1M6 23h1M86 32h1M62 33h1M89 33h1M99 34h1M110 34h1"/><path stroke="#989898" d="M106 0h1M21 1h1M24 1h1M42 1h1M44 1h1M86 1h1M101 1h1M59 2h1M86 2h1M114 2h1M2 3h1M30 3h1M55 3h1M60 3h1M2 4h2M17 4h1M67 4h1M2 5h1M5 5h1M67 5h1M22 6h1M36 6h1M7 7h1M23 7h1M36 7h2M57 7h1M62 7h1M4 8h1M36 8h2M88 8h2M1 9h1M54 9h1M29 10h1M43 10h1M24 11h1M51 11h1M114 11h1M12 12h1M9 13h1M12 13h1M99 14h1M105 14h1M105 15h1M6 21h1M68 33h1M108 33h1M113 33h1M116 33h1M60 34h1M100 34h1"/><path stroke="#999999" d="M9 0h1M24 0h1M75 0h1M86 0h1M20 1h1M29 1h1M85 1h1M2 2h1M21 2h1M29 2h2M46 2h1M64 2h1M71 2h2M85 2h1M106 2h1M57 3h1M67 3h1M103 3h1M45 4h1M57 4h1M76 4h1M82 4h1M92 4h1M16 5h1M35 5h1M57 5h1M101 5h1M2 6h1M57 6h1M68 6h1M84 6h1M107 6h1M5 7h1M38 7h1M40 7h1M83 7h1M21 8h1M6 9h1M33 9h1M68 9h1M87 9h1M93 9h1M5 10h1M13 10h1M83 10h1M93 10h1M26 11h1M28 11h1M101 11h2M115 11h1M31 12h1M104 12h1M112 16h1M97 32h1M51 33h1M53 33h1M69 33h1M98 34h1"/><path stroke="#9a9a9a" d="M21 0h1M29 0h1M97 0h1M101 0h1M113 0h1M118 0h1M26 1h1M58 1h1M104 1h1M118 1h1M20 2h1M24 2h1M44 2h1M57 2h1M81 2h1M84 2h1M104 2h1M32 3h1M45 3h1M52 3h1M70 3h1M84 3h3M30 4h1M36 4h1M52 4h1M84 4h1M103 4h1M28 5h1M73 5h1M79 5h1M84 5h1M43 6h1M102 6h1M4 7h1M6 7h1M15 7h1M61 7h1M88 7h1M92 7h1M119 7h1M6 8h1M76 8h1M96 8h1M29 9h1M46 9h1M63 10h1M86 10h1M106 10h1M32 11h1M45 11h1M91 11h1M103 11h1M30 12h1M111 12h1M30 13h1M112 13h1M110 15h1M105 16h1M118 32h1M64 33h1M81 33h1M90 33h1M93 33h1M95 33h1M78 34h1M107 34h1M18 46h1"/><path stroke="#9b9b9b" d="M22 0h1M30 0h1M48 0h1M58 0h1M62 0h1M69 0h1M78 0h1M84 0h2M87 0h1M30 1h1M38 1h1M54 1h1M56 1h1M84 1h1M52 2h1M58 2h1M67 2h1M103 2h1M21 3h1M27 3h1M29 3h1M32 4h1M22 5h1M54 5h1M78 5h1M37 6h1M69 6h1M42 7h1M117 7h1M5 8h1M10 8h1M28 8h1M75 8h1M94 8h1M108 8h1M112 8h1M28 9h1M45 9h1M53 9h1M110 9h1M116 9h1M26 10h1M28 10h1M48 10h2M90 11h1M33 12h1M105 13h1M4 14h1M100 15h1M111 15h1M9 20h1M6 22h1M56 33h2M72 33h1M76 33h1M85 33h1M104 33h1M120 33h1M77 34h1M94 34h1"/><path stroke="#9c9c9c" d="M12 0h1M20 0h1M39 0h1M42 0h1M72 0h1M102 0h1M22 1h1M47 1h1M62 1h1M64 1h1M69 1h1M72 1h1M1 2h1M18 2h1M32 2h1M51 2h1M92 3h1M104 3h1M106 3h1M5 4h1M83 4h1M34 5h1M4 6h1M14 6h1M20 6h1M23 6h1M28 6h1M74 6h1M88 6h1M101 6h1M105 6h1M21 7h1M28 7h1M26 8h1M29 8h1M50 8h1M58 8h1M5 9h1M26 9h2M42 9h1M47 9h1M83 9h1M118 9h1M24 10h1M68 10h1M101 10h2M110 10h1M92 12h1M112 15h1M2 17h1M4 17h1M105 17h1M27 32h1M50 33h1M54 34h1M101 35h1M18 45h1M18 47h1"/><path stroke="#9d9d9d" d="M23 0h1M66 0h1M81 0h1M0 1h1M2 1h1M9 1h1M57 1h1M97 1h1M0 2h1M50 2h1M118 2h1M12 3h1M58 3h1M117 3h1M21 4h2M54 4h1M78 4h1M106 4h1M11 5h1M103 5h1M6 6h1M9 6h1M54 6h1M3 7h1M26 7h1M64 7h1M89 7h1M44 8h1M46 8h1M55 8h1M83 8h1M110 8h1M25 10h1M51 10h1M30 11h1M97 11h1M98 13h1M9 14h1M112 14h1M13 16h1M9 19h1M80 33h1M83 33h1M88 33h1M92 33h1M67 34h1M109 34h1"/><path stroke="#9e9e9e" d="M19 0h1M25 0h1M49 0h1M104 0h1M120 0h1M52 1h1M59 1h1M63 1h1M78 1h1M81 1h1M93 1h1M22 2h1M54 2h1M63 2h1M70 2h1M1 3h1M20 3h1M22 3h1M24 3h1M29 4h1M35 4h1M85 4h1M104 4h1M117 4h1M21 5h1M33 5h1M39 5h1M52 5h1M104 5h1M21 6h1M41 6h1M8 7h1M29 7h1M102 7h1M1 8h1M24 8h1M48 8h1M51 8h1M54 8h1M109 8h1M24 9h1M86 9h1M102 9h1M106 9h1M33 10h1M46 10h2M50 10h1M64 10h1M13 11h1M33 11h1M110 11h1M110 14h1M2 19h1M44 33h1M63 33h1M84 33h1M96 33h1M55 34h1M66 34h1M71 34h1M79 34h1M111 34h1"/><path stroke="#9f9f9f" d="M0 0h1M17 0h2M63 0h1M65 0h1M1 1h1M23 1h1M66 1h1M103 1h1M113 1h1M26 2h1M60 2h1M62 2h1M69 2h1M119 2h1M54 3h1M78 3h1M13 4h1M27 4h1M41 4h1M3 5h1M32 5h1M53 5h1M68 5h1M76 5h1M106 5h1M7 6h1M15 6h1M53 6h1M62 6h1M108 6h1M46 7h1M54 7h1M101 7h1M42 8h1M53 8h1M85 8h1M102 8h1M116 8h1M52 9h1M63 9h1M65 9h1M101 9h1M114 10h1M111 13h1M9 18h1M31 33h1M119 33h1M47 34h1M105 34h1M112 34h1M117 34h1M102 35h1"/><path stroke="#a0a0a0" d="M57 0h1M64 0h1M115 0h1M18 1h1M25 1h1M49 1h1M65 1h1M67 1h1M87 1h1M119 1h1M78 2h1M92 2h1M117 2h1M41 3h1M16 4h1M86 4h1M4 5h1M23 5h1M29 5h2M41 5h1M49 5h1M69 5h1M117 5h1M3 6h1M29 6h1M38 6h1M117 6h1M119 6h1M24 7h1M53 7h1M66 7h1M76 7h1M108 7h1M27 8h1M87 8h1M101 8h1M111 8h1M49 9h3M32 10h1M31 11h1M104 11h1M110 12h1M110 13h1M111 14h1M4 15h1M4 16h1M113 17h1M2 18h1M34 33h1M40 33h1M48 33h1M61 34h1M91 34h1M115 34h1M119 42h1"/><path stroke="#a1a1a1" d="M2 0h1M11 0h1M36 0h1M59 0h1M70 0h1M32 1h1M39 1h1M70 1h2M97 2h1M0 3h1M63 3h1M114 3h1M119 3h1M20 4h1M49 4h1M55 4h1M79 4h1M20 5h1M31 5h1M37 5h1M74 5h1M26 6h1M31 6h1M63 6h1M106 6h1M10 7h1M27 7h1M63 7h1M105 7h1M63 8h1M86 8h1M92 8h1M106 8h1M25 9h1M44 10h2M90 10h2M103 10h1M13 12h1M105 12h1M99 13h1M9 15h1M97 33h1M75 34h1M106 35h1"/><path stroke="#a2a2a2" d="M52 0h1M119 0h1M12 1h1M12 2h1M23 2h1M25 2h1M65 2h1M36 3h1M46 3h1M69 3h1M11 4h1M24 4h1M31 4h1M53 4h1M75 4h1M6 5h1M14 5h1M27 5h1M63 5h1M88 5h1M27 6h1M40 6h1M49 6h1M52 6h1M61 6h1M76 6h1M104 6h1M31 7h1M95 7h1M106 7h1M110 7h1M112 7h1M116 7h1M118 8h1M43 9h2M115 10h1M13 15h1M9 17h1M39 33h1M73 33h1M74 34h1M116 34h1M67 35h1M99 35h1M18 48h1"/><path stroke="#a3a3a3" d="M1 0h1M9 2h1M49 2h1M5 3h1M25 3h1M31 3h1M62 3h1M118 3h1M25 4h1M63 4h1M69 4h1M74 4h1M15 5h1M24 6h1M89 6h1M43 7h1M86 7h2M64 8h1M32 9h1M30 10h1M97 10h1M13 13h1M9 16h1M32 33h1M87 33h1M52 34h1M65 34h1M114 34h1M71 35h1M100 35h1"/><path stroke="#a4a4a4" d="M13 0h2M53 0h1M96 0h1M48 1h1M92 1h1M31 2h1M23 3h1M26 3h1M49 3h1M74 3h1M79 3h1M23 4h1M119 4h1M26 5h1M62 5h1M119 5h1M0 6h1M32 6h1M1 7h1M75 7h1M96 7h1M109 7h1M25 8h1M31 8h1M52 8h1M65 8h1M105 8h1M31 10h1M104 10h1M13 14h1M86 33h1M68 34h1M103 34h1M94 35h1M98 35h1M18 44h1"/><path stroke="#a5a5a5" d="M7 0h1M71 0h1M93 0h1M11 1h1M31 1h1M60 1h1M38 2h1M66 2h1M74 2h1M17 3h1M35 3h1M53 3h1M65 3h1M1 4h1M4 4h1M58 4h1M62 4h1M7 5h1M24 5h2M85 5h2M8 6h1M46 6h1M86 6h1M98 6h1M103 6h1M116 6h1M49 7h1M52 7h1M55 7h1M85 7h1M94 7h1M104 7h1M32 8h1M47 8h1M49 8h1M31 9h1M64 9h1M92 11h1M43 33h1M45 33h1M59 34h1M70 34h1M82 34h1M93 34h1M95 34h1M66 35h1M78 35h1M110 35h1M119 41h1M42 46h1M42 47h1"/><path stroke="#a6a6a6" d="M31 0h1M67 0h2M103 0h1M109 0h1M7 1h1M50 1h1M100 1h1M41 2h1M11 3h1M6 4h1M34 4h1M68 4h1M109 5h1M109 6h1M25 7h1M32 7h1M98 7h1M91 9h1M104 9h2M105 11h1M98 12h1M100 14h1M113 16h1M33 33h1M58 34h1M85 34h1M104 34h1M47 38h1M47 39h1M119 43h1"/><path stroke="#a7a7a7" d="M60 0h1M53 1h1M115 1h1M7 2h1M11 2h1M47 2h1M53 2h1M113 2h1M82 3h1M15 4h1M26 4h1M33 4h1M37 4h1M39 4h1M65 4h1M88 4h1M65 5h1M98 5h1M25 6h1M30 6h1M65 6h1M87 6h1M48 7h1M65 7h1M43 8h1M104 8h1M90 9h1M92 9h1M97 9h1M103 9h1M114 9h1M99 12h1M38 33h1M41 33h1M46 33h1M64 34h1M89 34h1M96 34h1M60 35h1M77 35h1M67 36h1M71 36h1M101 36h1M43 49h1M43 50h1"/><path stroke="#a8a8a8" d="M4 0h1M35 0h1M56 0h1M61 0h1M100 0h1M96 1h1M39 2h1M7 3h1M95 3h1M97 3h1M112 3h1M7 4h1M95 4h1M109 4h1M55 5h1M61 5h1M85 6h1M112 6h1M47 7h1M58 7h1M105 10h1M113 15h1M49 33h1M53 34h1M69 34h1M72 34h1M80 34h1M83 34h2M97 34h1M108 34h1M54 35h1M79 35h1M109 35h1M99 36h2M99 38h1"/><path stroke="#a9a9a9" d="M50 0h1M73 0h1M51 1h1M68 1h1M74 1h1M117 1h1M36 2h1M87 2h1M112 2h1M6 3h1M83 3h1M0 4h1M14 4h1M73 4h1M112 4h1M9 5h1M1 6h1M10 6h1M55 6h1M92 10h1M35 33h1M118 33h1M81 34h1M113 34h1M47 35h1M68 35h1M111 35h1M99 37h1M42 45h1M43 48h1M3 49h1M3 50h1"/><path stroke="#aaaaaa" d="M37 0h1M92 0h1M14 1h1M36 1h1M109 1h1M111 1h1M5 2h2M79 2h1M100 2h1M111 2h1M4 3h1M13 3h1M46 4h1M1 5h1M38 5h1M40 5h1M112 5h1M116 5h1M66 6h1M99 6h1M110 6h1M99 7h1M118 7h1M91 8h1M97 8h2M30 9h1M115 9h1M113 14h1M20 33h1M51 34h1M76 34h1M90 34h1M92 34h1M102 36h1M9 44h1M89 45h1M99 46h1M17 48h1M42 48h1M17 49h1M70 50h1"/><path stroke="#ababab" d="M6 0h1M8 0h1M98 0h1M111 0h1M4 1h1M35 2h1M96 2h1M16 3h1M39 3h1M88 3h1M109 3h1M0 5h1M46 5h1M75 5h1M87 5h1M75 6h1M95 6h1M103 7h1M99 8h1M103 8h1M99 11h1M21 33h1M42 33h1M62 34h1M61 35h1M65 35h1M105 35h1M94 36h1M47 37h1M71 37h1M100 37h1M99 39h1M15 41h1M12 43h1M89 44h1M9 45h1M18 49h1"/><path stroke="#acacac" d="M82 0h1M6 1h1M17 1h1M35 1h1M112 1h1M4 2h1M68 2h1M109 2h1M33 3h1M68 3h1M61 4h1M8 5h1M89 5h1M95 5h1M99 5h1M47 6h1M96 6h1M90 8h1M113 13h1M56 34h2M107 35h1M112 35h1M66 36h1M98 36h1M23 38h1M23 39h1M47 40h1M89 41h1M22 42h1M89 42h1M9 43h1M18 43h1M89 43h1M99 45h1M3 48h1M36 48h1"/><path stroke="#adadad" d="M32 0h1M74 0h1M13 1h1M9 3h1M37 3h2M96 3h1M87 4h1M98 4h1M114 4h1M58 5h1M30 7h1M91 7h1M99 9h1M99 10h1M98 11h1M30 33h1M55 35h1M69 35h1M93 35h1M114 35h2M117 35h1M47 36h1M68 36h1M100 38h1M15 40h1M16 41h1M22 41h1M42 41h1M12 44h1M42 44h1M89 46h1M29 47h1M43 47h1M17 50h1"/><path stroke="#aeaeae" d="M99 0h1M41 1h1M61 1h1M79 1h1M17 2h1M33 2h1M88 2h1M95 2h1M14 3h2M66 3h1M87 3h1M113 3h1M40 4h1M118 4h1M115 5h1M58 6h1M94 6h1M115 6h1M97 7h1M111 7h1M30 8h1M98 9h1M113 9h1M113 10h1M113 11h1M113 12h1M88 34h1M120 34h1M52 35h1M70 35h1M75 35h1M80 35h1M84 35h1M95 35h1M60 36h1M69 36h1M111 36h1M40 37h1M20 38h1M40 38h1M100 39h1M16 40h1M42 40h1M107 41h1M16 42h1M13 43h1M9 46h1M29 46h1M3 47h1M17 47h1M54 50h1"/><path stroke="#afafaf" d="M88 0h1M112 0h1M5 1h1M8 1h1M99 1h1M10 2h1M14 2h1M61 3h1M8 4h1M38 4h1M96 4h2M99 4h1M10 5h1M115 7h1M113 8h1M115 8h1M19 33h1M37 33h1M63 34h1M119 34h1M103 35h1M116 35h1M54 36h1M110 36h1M81 37h1M20 39h1M41 40h1M89 40h1M9 42h1M12 42h1M15 42h1M42 42h1M107 42h1M42 43h1M13 44h1M8 46h1M19 46h1M19 47h1M36 47h1M99 47h1M36 49h1M54 49h1M70 49h1M52 50h1M69 50h1M77 50h1"/><path stroke="#b0b0b0" d="M51 0h1M10 1h1M37 1h1M88 1h1M13 2h1M48 2h1M40 3h1M47 3h1M9 4h1M115 4h1M96 5h1M91 6h1M98 10h1M100 13h1M86 34h1M59 35h1M81 35h1M85 35h1M91 35h1M96 35h2M80 36h2M93 36h1M114 36h1M39 37h1M67 37h1M94 37h1M111 37h1M39 38h1M16 39h1M22 40h2M100 40h1M119 40h1M41 41h1M62 42h1M38 43h1M119 44h1M8 45h1M90 45h1M3 46h1M43 46h1M90 46h1M8 47h1M30 49h1M76 49h1M30 50h1M76 50h1M80 50h1"/><path stroke="#b1b1b1" d="M83 0h1M117 0h1M33 1h1M73 1h1M8 2h1M37 2h1M61 2h1M99 2h1M115 2h1M8 3h1M10 3h1M34 3h1M100 3h1M111 3h1M47 5h1M118 6h1M114 8h1M3 33h1M31 34h1M44 34h1M73 34h1M87 34h1M64 35h1M72 35h1M83 35h1M92 35h1M104 35h1M65 36h1M109 36h1M43 37h1M98 37h1M101 37h1M114 37h1M71 38h1M99 40h1M9 41h1M38 42h1M22 43h1M62 43h1M3 45h1M87 49h1M18 50h1M38 50h1M53 50h1M87 50h1"/><path stroke="#b2b2b2" d="M5 0h1M79 0h1M99 3h1M10 4h1M66 5h1M91 5h1M48 6h1M97 6h1M90 7h1M113 7h1M36 33h1M50 34h1M74 35h1M61 36h1M70 36h1M78 36h1M92 36h1M106 36h1M20 37h1M66 37h1M68 37h2M43 38h1M81 38h1M111 38h1M9 39h1M15 39h1M29 39h1M9 40h1M29 40h1M28 41h1M100 41h1M108 41h1M18 42h1M108 42h1M32 43h1M90 44h1M99 44h1M29 45h1M17 46h1M9 47h1M29 48h1M42 49h1M45 50h1M49 50h1"/><path stroke="#b3b3b3" d="M15 0h1M82 1h1M95 1h1M15 2h1M40 2h1M82 2h2M115 3h1M116 4h1M97 5h1M48 34h1M82 35h1M79 36h1M23 37h1M60 37h1M80 37h1M92 37h2M2 38h1M9 38h1M29 38h1M94 38h1M98 38h1M2 39h1M22 39h1M41 39h2M107 40h1M29 41h1M62 41h1M74 41h1M28 42h1M32 42h1M14 43h1M17 44h1M56 44h1M96 44h1M12 45h2M17 45h1M43 45h1M56 45h1M36 46h1M97 46h1M100 46h1M90 47h1M97 47h1M8 48h1M30 48h1M70 48h1M76 48h1M45 49h1M47 49h1M52 49h1M31 50h1M46 50h2M78 50h1"/><path stroke="#b4b4b4" d="M16 0h1M90 0h2M95 0h1M98 1h1M16 2h1M73 3h1M98 3h1M47 4h1M66 4h1M118 5h1M46 34h1M53 35h1M58 35h1M113 35h1M84 36h1M103 36h1M54 37h1M70 37h1M110 37h1M22 38h1M25 39h1M46 39h1M49 39h1M70 39h1M25 40h1M0 41h1M32 41h1M38 41h1M31 42h1M100 42h1M31 43h1M90 43h1M100 43h1M8 44h1M14 44h1M38 44h1M100 44h1M97 45h1M100 45h1M35 46h1M24 47h2M35 47h1M45 48h1M81 48h1M31 49h1M105 50h1"/><path stroke="#b5b5b5" d="M10 0h1M41 0h1M15 1h1M83 1h1M89 4h1M113 4h1M94 5h1M110 5h1M1 33h1M7 33h1M39 34h2M43 34h1M76 35h1M40 36h1M43 36h1M52 36h1M55 36h1M59 36h1M77 36h1M105 36h1M115 36h1M28 37h1M30 37h1M16 38h1M21 38h1M46 38h1M48 38h1M70 38h1M92 38h2M104 38h1M114 38h1M1 39h1M81 39h1M93 39h2M18 40h1M26 40h1M28 40h1M32 40h1M49 40h1M93 40h1M18 41h1M31 41h1M118 41h1M13 42h1M29 42h2M16 43h1M54 43h1M108 43h1M32 44h1M57 44h1M62 44h1M52 45h1M96 45h1M108 45h1M71 46h1M0 47h1M30 47h1M71 47h1M89 47h1M100 47h1M19 48h1M25 48h1M47 48h1M54 48h1M97 48h1M103 48h1M49 49h1M53 49h1M69 49h1M81 49h1M36 50h1M97 50h1M101 50h1"/><path stroke="#b6b6b6" d="M33 0h2M91 1h1M73 2h1M91 4h1M90 6h1M113 6h1M34 34h1M31 35h1M39 36h1M72 36h1M75 36h1M83 36h1M95 36h1M103 37h1M28 38h1M30 38h1M38 38h1M110 38h1M18 39h1M32 39h1M38 39h3M89 39h1M104 39h1M111 39h1M1 40h1M20 40h1M38 40h1M55 40h1M120 40h1M12 41h1M23 41h1M47 41h1M55 41h1M75 41h1M120 41h1M0 42h1M41 42h1M54 42h1M90 42h1M118 42h1M17 43h1M30 43h1M96 43h1M3 44h1M29 44h1M43 44h1M52 44h1M85 44h1M108 44h1M57 45h1M0 46h1M24 46h1M30 46h1M27 47h1M45 47h1M55 47h1M70 47h1M0 48h1M9 48h1M24 48h1M35 48h1M12 49h1M26 49h1M48 49h1M77 49h1M80 49h1M97 49h1M101 49h1M103 49h1"/><path stroke="#b7b7b7" d="M116 0h1M16 1h1M40 1h1M114 5h1M0 33h1M2 33h1M12 33h2M51 35h1M31 36h1M112 36h1M22 37h1M29 37h1M59 37h1M102 37h1M104 37h1M49 38h1M55 38h1M19 39h1M21 39h1M24 39h1M26 39h1M28 39h1M43 39h1M48 39h1M55 39h1M98 39h1M110 39h1M0 40h1M70 40h1M74 40h1M81 40h1M106 40h1M11 41h1M26 41h1M30 41h1M73 41h1M74 42h1M29 43h1M85 43h1M107 43h1M22 44h1M30 44h1M114 44h1M19 45h1M30 45h1M36 45h1M98 45h1M114 45h1M13 46h1M28 46h1M55 46h1M98 46h1M108 46h1M26 47h1M26 48h2M31 48h1M55 48h1M71 48h1M87 48h1M101 48h1M6 49h1M38 49h1M46 49h1M21 50h1M48 50h1M81 50h1"/><path stroke="#b8b8b8" d="M34 2h1M91 2h1M98 2h1M91 3h1M94 4h1M113 5h1M62 35h1M89 35h1M28 36h1M91 36h1M97 36h1M104 36h1M9 37h1M21 37h1M48 37h1M52 37h1M55 37h1M65 37h1M83 37h1M109 37h1M1 38h1M8 38h1M54 38h1M30 39h1M71 39h1M92 39h1M106 39h1M11 40h1M19 40h1M30 40h1M37 40h1M46 40h1M62 40h1M75 40h1M94 40h1M108 40h1M110 40h1M37 41h1M49 41h1M80 41h1M93 41h1M99 41h1M110 41h1M11 42h1M14 42h1M37 42h1M55 42h1M103 42h1M120 42h1M15 43h1M28 43h1M99 43h1M31 44h1M54 44h1M97 44h1M35 45h1M91 45h1M25 46h1M120 46h1M28 47h1M81 47h1M120 47h1M6 48h1M12 48h1M23 48h1M44 48h1M48 48h1M99 48h1M44 49h1M55 49h1M71 49h1M105 49h1M113 49h1M11 50h2M26 50h1M42 50h1M55 50h1M71 50h1"/><path stroke="#b9b9b9" d="M100 4h1M114 7h1M100 12h1M14 33h1M32 34h1M45 34h1M118 34h1M43 35h1M46 35h1M108 35h1M30 36h1M64 36h1M116 36h2M61 37h1M15 38h1M42 38h1M60 38h1M66 38h1M69 38h1M80 38h1M116 39h1M31 40h1M73 40h1M76 40h1M104 40h1M109 40h1M54 41h1M103 41h1M4 42h1M10 42h1M17 42h1M75 42h1M80 42h1M110 42h1M0 43h1M4 43h1M10 43h1M56 43h1M63 43h1M0 45h1M14 45h1M55 45h1M85 45h1M12 46h1M27 46h1M34 46h1M52 46h1M91 46h1M13 47h1M23 47h1M31 47h1M34 47h1M47 47h1M76 47h1M103 47h1M13 48h1M49 48h1M52 48h1M57 48h1M84 48h1M113 48h1M0 49h1M8 49h1M11 49h1M29 49h1M35 49h1M107 49h1M22 50h1M44 50h1M107 50h1"/><path stroke="#bababa" d="M34 1h1M48 3h1M90 5h1M23 33h1M25 33h1M28 33h2M33 34h1M49 34h1M39 35h1M57 35h1M86 35h1M90 35h1M20 36h1M82 36h1M85 36h1M96 36h1M107 36h1M113 36h1M72 37h1M19 38h1M32 38h1M41 38h1M52 38h1M59 38h1M83 38h1M103 38h1M109 38h1M8 39h1M11 39h1M54 39h1M76 39h2M107 39h1M109 39h1M2 40h1M17 40h1M24 40h1M111 40h1M116 40h1M118 40h1M25 41h1M81 41h1M88 41h1M106 41h1M63 42h1M73 42h1M11 43h1M33 43h1M37 43h1M55 43h1M114 43h1M120 43h1M10 44h1M91 44h1M28 45h1M31 45h2M38 45h1M71 45h1M119 45h2M2 46h1M26 46h1M31 46h1M45 46h1M56 46h2M70 46h1M96 46h1M114 46h1M2 47h1M44 47h1M84 47h1M91 47h1M101 47h1M2 48h1M7 48h1M16 48h1M69 48h1M100 48h1M107 48h1M7 49h1M13 49h1M22 49h1M25 49h1M27 49h1M0 50h1M27 50h1M96 50h1M104 50h1M114 50h1"/><path stroke="#bbbbbb" d="M40 0h1M94 3h1M116 3h1M111 4h1M48 5h1M4 33h1M56 35h1M73 35h1M120 35h1M2 37h1M31 37h1M38 37h1M46 37h1M82 37h1M18 38h1M24 38h1M36 38h1M67 38h2M82 38h1M37 39h1M52 39h1M114 39h1M119 39h2M21 40h1M54 40h1M77 40h1M80 40h1M1 41h1M17 41h1M109 41h1M49 42h1M99 42h1M57 43h1M92 43h1M0 44h1M28 44h1M44 44h1M55 44h1M63 44h1M120 44h1M44 45h1M88 45h1M44 46h1M88 46h1M1 47h1M12 47h1M39 47h1M49 47h1M57 47h1M98 47h1M102 47h1M113 47h1M22 48h1M46 48h1M90 48h1M105 48h1M2 49h1M9 49h1M23 49h2M57 49h1M78 49h1M84 49h1M2 50h1M6 50h1M39 50h1M103 50h1"/><path stroke="#bcbcbc" d="M90 1h1M114 6h1M5 33h1M22 33h1M40 35h1M48 35h1M63 35h1M119 35h1M46 36h1M48 36h1M76 36h1M75 37h1M79 37h1M91 37h1M97 37h1M105 37h2M115 37h1M11 38h1M26 38h1M76 38h1M89 38h1M101 38h1M106 38h1M17 39h1M36 39h1M75 39h1M12 40h1M43 40h1M48 40h1M10 41h1M63 41h1M76 41h1M90 41h1M104 41h1M26 42h1M33 42h1M96 42h1M3 43h1M8 43h1M43 43h1M49 43h1M33 44h1M36 44h1M45 44h1M49 44h1M98 44h1M10 45h1M22 45h1M24 45h1M45 45h1M49 45h1M54 45h1M62 45h1M47 46h1M49 46h1M7 47h1M16 47h1M22 47h1M48 47h1M52 47h1M54 47h1M88 47h1M1 48h1M39 48h1M58 48h1M102 48h1M19 49h1M37 49h1M39 49h1M100 49h1M118 49h1M14 50h1M24 50h1M35 50h1M37 50h1M79 50h1M100 50h1M106 50h1M108 50h1M113 50h1M118 50h1"/><path stroke="#bdbdbd" d="M89 3h1M90 4h1M111 6h1M8 33h1M10 33h1M24 33h1M41 34h2M22 36h2M74 36h1M42 37h1M49 37h1M78 37h1M84 37h1M25 38h1M37 38h1M72 38h1M77 38h1M97 38h1M0 39h1M3 39h1M34 39h1M45 39h1M50 39h1M64 39h1M73 39h1M80 39h1M83 39h1M34 40h1M39 40h2M52 40h1M88 40h1M98 40h1M103 40h1M4 41h1M70 41h1M94 41h1M111 41h1M47 42h1M88 42h1M93 42h1M114 42h1M5 43h1M21 43h1M41 43h1M45 43h1M52 43h1M97 43h1M103 43h1M16 44h1M92 44h1M2 45h1M27 45h1M1 46h1M22 46h1M39 46h1M113 46h1M6 47h1M108 47h1M28 48h1M91 48h1M106 48h1M120 48h1M16 49h1M96 49h1M106 49h1M114 49h1M19 50h1M74 50h2"/><path stroke="#bebebe" d="M116 1h1M48 4h1M110 4h1M100 5h1M6 33h1M20 34h1M44 35h1M51 36h1M53 36h1M62 36h1M32 37h1M76 37h2M61 38h1M75 38h1M6 39h1M31 39h1M59 39h1M62 39h1M69 39h1M82 39h1M103 39h1M4 40h1M6 40h1M45 40h1M50 40h1M64 40h1M79 40h1M92 40h1M19 41h1M21 41h1M24 41h1M33 41h1M40 41h1M46 41h1M79 41h1M5 42h1M21 42h1M40 42h1M91 43h1M110 43h1M4 44h1M11 44h1M61 44h1M88 44h1M61 45h1M23 46h1M32 46h1M38 46h1M54 46h1M84 46h2M101 46h1M119 46h1M96 47h1M105 47h2M114 47h1M34 48h1M38 48h1M53 48h1M80 48h1M88 48h2M1 49h1M21 49h1M75 49h1M86 49h1M104 49h1M7 50h1M68 50h1M86 50h1"/><path stroke="#bfbfbf" d="M116 2h1M11 33h1M15 33h1M26 33h1M38 34h1M28 35h1M29 36h1M58 36h1M1 37h1M8 37h1M16 37h1M36 37h1M44 37h1M95 37h1M112 37h1M116 37h1M31 38h1M44 38h1M65 38h1M105 38h1M107 38h1M115 38h2M120 38h1M12 39h1M66 39h1M74 39h1M79 39h1M97 39h1M115 39h1M3 40h1M10 40h1M63 40h1M71 40h1M114 40h1M117 40h1M6 41h1M14 41h1M20 41h1M23 42h1M25 42h1M27 42h1M45 42h1M79 42h1M106 42h1M27 43h1M40 43h1M44 43h1M88 43h1M21 44h1M27 44h1M25 45h1M33 45h2M50 45h1M63 45h1M10 46h1M21 46h1M102 46h1M21 47h1M58 47h1M69 47h1M107 47h1M11 48h1M37 48h1M75 48h1M77 48h1M96 48h1M98 48h1M114 48h1M118 48h1M4 49h1M14 49h1M88 49h1M108 49h1M1 50h1M4 50h1M13 50h1M23 50h1M25 50h1"/><path stroke="#c0c0c0" d="M110 0h1M94 2h1M100 11h1M17 33h2M30 34h1M20 35h1M21 36h1M73 36h1M15 37h1M37 37h1M64 37h1M107 37h1M113 37h1M117 37h1M3 38h1M6 38h1M50 38h1M64 38h1M73 38h1M79 38h1M4 39h1M44 39h1M117 39h2M33 40h1M36 40h1M59 40h1M69 40h1M83 40h1M115 40h1M13 41h1M43 41h1M45 41h1M52 41h1M59 41h1M69 41h1M114 41h1M6 42h1M43 42h1M59 42h1M69 42h1M85 42h1M92 42h1M109 42h1M74 43h1M79 43h2M118 43h1M5 44h1M37 44h1M40 44h1M53 44h1M60 44h1M71 44h1M21 45h1M26 45h1M47 45h1M51 45h1M70 45h1M113 45h1M7 46h1M16 46h1M48 46h1M81 46h1M103 46h1M109 46h1M38 47h1M64 47h1M87 47h1M109 47h1M119 47h1M21 48h1M108 48h1M5 49h1M28 49h1M58 49h1M98 49h1M5 50h1M9 50h1M28 50h2M57 50h1M88 50h1M98 50h1"/><path stroke="#c1c1c1" d="M90 2h1M90 3h1M111 5h1M21 34h1M35 34h1M30 35h1M32 35h1M34 35h1M87 35h1M32 36h1M42 36h1M44 36h1M89 36h1M11 37h1M41 37h1M62 37h1M89 37h1M0 38h1M33 38h2M45 38h1M53 38h1M119 38h1M7 39h1M33 39h1M53 39h1M61 39h1M68 39h1M105 39h1M8 40h1M27 41h1M34 41h1M77 41h1M96 41h1M1 42h1M46 42h1M52 42h1M56 42h1M76 42h1M81 42h1M104 42h1M111 42h1M6 43h1M36 43h1M59 43h1M61 43h1M69 43h1M73 43h1M75 43h1M98 43h1M24 44h1M50 44h1M107 44h1M1 45h1M16 45h1M60 45h1M6 46h1M14 46h1M61 46h1M76 46h1M105 46h2M85 47h1M112 47h1M4 48h1M61 48h1M86 48h1M104 48h1M109 48h1M61 49h1M79 49h1M102 49h1M16 50h1M84 50h2"/><path stroke="#c2c2c2" d="M100 6h1M33 35h1M88 35h1M38 36h1M90 36h1M120 36h1M10 37h1M19 37h1M33 37h1M51 37h1M53 37h1M73 37h1M120 37h1M10 38h1M12 38h1M17 38h1M62 38h1M78 38h1M91 38h1M117 38h1M10 39h1M72 39h1M97 40h1M39 41h1M58 41h1M64 41h1M92 41h1M98 41h1M117 41h1M3 42h1M58 42h1M97 42h1M25 43h2M47 43h1M93 43h1M2 44h1M6 44h1M15 44h1M19 44h1M35 44h1M41 44h1M51 44h1M59 44h1M6 45h1M39 45h1M53 45h1M33 46h1M50 46h1M64 46h1M46 47h1M56 47h1M5 48h1M64 48h1M82 48h1M85 48h1M112 48h1M82 49h1M85 49h1M99 49h1M115 49h1M50 50h1M72 50h1M82 50h1M111 50h1M115 50h1"/><path stroke="#c3c3c3" d="M110 3h1M45 35h1M50 35h1M9 36h1M33 36h1M49 36h1M57 36h1M86 36h1M119 36h1M27 37h1M96 37h1M7 38h1M51 39h1M67 39h1M78 39h1M101 39h1M108 39h1M7 40h1M44 40h1M51 40h1M90 40h1M105 40h1M2 41h2M5 41h1M48 41h1M50 41h1M24 42h1M98 42h1M60 43h1M106 43h1M25 44h1M47 44h1M69 44h1M79 44h1M113 44h1M7 45h1M11 45h1M23 45h1M40 45h1M101 45h1M106 45h1M109 45h1M62 46h1M32 47h1M61 47h1M75 47h1M119 48h1M68 49h1M74 49h1M91 49h1M109 49h2M8 50h1M20 50h1M109 50h1"/><path stroke="#c4c4c4" d="M110 1h1M89 2h1M42 35h1M49 35h1M0 37h1M13 37h1M74 37h1M119 37h1M51 38h1M112 38h1M60 39h1M63 39h1M65 39h1M61 40h1M36 41h1M95 41h1M101 41h1M105 41h1M116 41h1M8 42h1M36 42h1M39 42h1M44 42h1M57 42h1M61 42h1M70 42h1M101 42h1M46 43h1M101 43h1M1 44h1M26 44h1M103 44h1M41 45h1M48 45h1M84 45h1M105 45h1M63 46h1M107 46h1M112 46h1M5 47h1M10 47h1M37 47h1M82 47h1M50 49h1M58 50h1M62 50h1M92 50h1M102 50h1"/><path stroke="#c5c5c5" d="M110 2h1M100 7h1M100 10h1M9 33h1M16 33h1M27 33h1M28 34h1M23 35h1M34 36h1M56 36h1M3 37h1M6 37h1M26 37h1M34 37h1M45 37h1M90 37h1M13 38h1M74 38h1M95 38h1M113 38h1M88 39h1M53 40h1M68 40h1M72 40h1M82 40h1M95 40h2M101 40h1M8 41h1M44 41h1M71 41h1M83 41h1M97 41h1M20 42h1M94 42h2M1 43h1M24 43h1M39 43h1M53 43h1M71 43h1M76 43h1M86 43h1M109 43h1M39 44h1M95 44h1M101 44h1M106 44h1M110 44h1M4 45h2M37 45h1M59 45h1M64 45h1M92 45h1M95 45h1M107 45h1M20 46h1M41 46h1M51 46h1M60 46h1M69 46h1M95 46h1M4 47h1M11 47h1M20 47h1M80 47h1M86 47h1M14 48h1M74 48h1M110 48h1M15 49h1M72 49h1M83 49h1M90 49h1M15 50h1M61 50h1M110 50h1M119 50h1"/><path stroke="#c6c6c6" d="M94 1h1M100 8h1M37 34h1M21 35h2M118 35h1M15 36h1M27 36h1M37 36h1M45 36h1M63 36h1M108 36h1M12 37h1M18 37h1M24 37h1M35 37h1M50 37h1M35 38h1M102 38h1M118 38h1M112 39h1M27 40h1M58 40h1M7 41h1M51 41h1M61 41h1M115 41h1M19 42h1M34 42h1M64 42h1M91 42h1M105 42h1M23 43h1M58 43h1M95 43h1M104 43h2M113 43h1M7 44h1M34 44h1M64 44h1M70 44h1M86 44h1M105 44h1M109 44h1M69 45h1M103 45h1M5 46h1M11 46h1M37 46h1M40 46h1M58 46h2M83 46h1M14 47h1M33 47h1M41 47h1M50 47h1M53 47h1M66 47h1M77 47h1M83 47h1M104 47h1M50 48h1M68 48h1M78 48h1M83 48h1M115 48h1M117 48h1M34 49h1M119 49h2M51 50h1M73 50h1M83 50h1"/><path stroke="#c7c7c7" d="M100 9h1M3 34h1M19 34h1M23 34h1M38 35h1M2 36h1M10 36h1M85 37h1M4 38h1M27 38h1M56 38h1M90 38h1M95 39h1M5 40h1M14 40h1M66 40h2M78 40h1M56 41h1M72 41h1M71 42h2M86 42h1M113 42h1M117 42h1M50 43h1M64 43h1M23 44h1M78 44h1M80 44h1M76 45h1M83 45h1M86 45h1M102 45h1M4 46h1M53 46h1M66 46h1M86 46h1M63 47h1M67 47h1M74 47h1M15 48h1M32 48h1M41 48h1M56 48h1M65 48h3M72 48h1M62 49h1M64 49h1M111 49h2M56 50h1M95 50h1"/><path stroke="#c8c8c8" d="M89 0h1M13 36h1M35 36h1M41 36h1M56 37h1M58 37h1M96 38h1M5 39h1M13 39h1M35 39h1M56 39h1M90 39h1M96 39h1M13 40h1M112 40h1M113 41h1M50 42h1M77 42h1M2 43h1M19 43h2M46 44h1M48 44h1M76 44h1M20 45h1M79 45h1M81 45h1M59 47h2M62 47h1M72 47h1M95 47h1M110 47h1M117 47h2M79 48h1M116 48h1M41 49h1M65 49h1M67 49h1M92 49h1M32 50h1M41 50h1M67 50h1M99 50h1"/><path stroke="#c9c9c9" d="M89 1h1M7 34h1M14 34h1M29 35h1M41 35h1M3 36h1M8 36h1M14 36h1M36 36h1M50 36h1M7 37h1M14 37h1M57 37h1M84 38h1M27 39h1M91 39h1M113 39h1M56 40h1M65 40h1M53 41h1M2 42h1M7 42h1M48 42h1M60 42h1M7 43h1M34 43h1M51 43h1M70 43h1M78 43h1M81 43h1M111 43h1M20 44h1M58 44h1M83 44h1M110 45h1M46 46h1M72 46h1M80 46h1M82 46h1M87 46h1M65 47h1M10 48h1M20 48h1M60 48h1M62 48h1M20 49h1M56 49h1M89 49h1M95 49h1M117 49h1M91 50h1"/><path stroke="#cacaca" d="M22 34h1M14 35h1M35 35h1M0 36h1M11 36h1M25 37h1M118 37h1M5 38h1M63 38h1M108 38h1M113 40h1M68 41h1M78 41h1M53 42h1M83 42h1M72 43h1M74 44h2M93 44h1M15 45h1M58 45h1M66 45h1M78 45h1M75 46h1M77 46h1M110 46h1M15 47h1M116 47h1M95 48h1M111 48h1M32 49h1M60 49h1M66 49h1M60 50h1M64 50h1"/><path stroke="#cbcbcb" d="M29 34h1M36 34h1M15 35h1M37 35h1M1 36h1M19 36h1M86 37h1M14 38h1M14 39h1M67 41h1M86 41h1M112 41h1M51 42h1M78 42h1M48 43h1M77 43h1M83 43h1M117 43h1M73 44h1M77 44h1M72 45h1M77 45h1M80 45h1M112 45h1M74 46h1M104 46h1M40 47h1M68 47h1M115 47h1M59 48h1M51 49h1M116 49h1M65 50h1M93 50h1M120 50h1"/><path stroke="#cccccc" d="M94 0h1M0 34h2M13 34h1M3 35h1M118 36h1M17 37h1M63 37h1M108 37h1M58 39h1M87 39h1M35 40h1M87 40h1M57 41h1M91 41h1M72 44h1M81 44h1M84 44h1M104 44h1M46 45h1M15 46h1M67 46h1M117 46h1M111 47h1M63 48h1M10 49h1M112 50h1"/><path stroke="#cdcdcd" d="M15 34h1M13 35h1M6 36h1M16 36h1M57 38h2M88 38h1M60 40h1M115 42h1M35 43h1M94 43h1M117 44h2M79 46h1M51 47h1M33 48h1M92 48h1M73 49h1M63 50h1M66 50h1M117 50h1"/><path stroke="#cecece" d="M12 34h1M7 35h1M27 35h1M7 36h1M12 36h1M26 36h1M87 36h1M86 40h1M91 40h1M60 41h1M82 41h1M102 42h1M102 44h1M74 45h2M104 45h1M117 45h1M65 46h1M115 46h1M79 47h1M40 48h1M34 50h1"/><path stroke="#cfcfcf" d="M2 34h1M9 35h2M19 35h1M88 36h1M5 37h1M86 38h1M86 39h1M66 41h1M87 41h1M112 42h1M102 43h1M66 44h1M78 46h1M92 46h1M111 46h1M116 46h1M78 47h1M51 48h1M63 49h1M93 49h1M10 50h1"/><path stroke="#d0d0d0" d="M6 34h1M10 34h1M0 35h1M57 39h1M57 40h1M65 41h1M85 41h1M102 41h1M68 42h1M111 44h1M82 45h1M87 45h1M115 45h1M40 49h1M59 49h1M40 50h1M59 50h1M90 50h1M116 50h1"/><path stroke="#d1d1d1" d="M5 34h1M8 34h1M8 35h1M36 35h1M24 36h1M87 38h1M102 39h1M35 41h1M115 43h1M112 44h1M115 44h1M73 45h1M93 45h1M92 47h1"/><path stroke="#d2d2d2" d="M25 34h1M1 35h2M6 35h1M88 37h1M67 42h1M116 42h1M84 43h1M112 43h1M111 45h1M118 46h1M73 48h1M93 48h1M89 50h1"/><path stroke="#d3d3d3" d="M27 34h1M11 35h2M18 36h1M4 37h1M87 37h1M102 40h1M35 42h1M94 44h1M65 45h1M67 45h1M68 46h1M73 46h1M73 47h1"/><path stroke="#d4d4d4" d="M11 34h1M24 34h1M26 34h1M84 39h1M84 42h1M87 42h1M66 43h1M118 45h1M93 47h1M33 49h1"/><path stroke="#d5d5d5" d="M4 34h1M9 34h1M25 36h1M66 42h1M68 43h1M94 45h1M116 45h1M93 46h2"/><path stroke="#d6d6d6" d="M18 34h1M26 35h1M5 36h1M85 38h1M65 42h1M65 44h1M82 44h1M87 44h1M33 50h1M94 50h1"/><path stroke="#d7d7d7" d="M17 36h1M84 41h1M82 42h1M67 43h1M87 43h1"/><path stroke="#d8d8d8" d="M5 35h1M24 35h2M84 40h1M65 43h1M67 44h1"/><path stroke="#d9d9d9" d="M68 44h1M68 45h1M94 47h1"/><path stroke="#dadada" d="M17 34h1M16 35h1M18 35h1M82 43h1M116 43h1"/><path stroke="#dbdbdb" d="M16 34h1M116 44h1"/><path stroke="#dcdcdc" d="M4 36h1M85 40h1"/><path stroke="#dddddd" d="M94 48h1M94 49h1"/><path stroke="#dedede" d="M4 35h1"/><path stroke="#dfdfdf" d="M17 35h1M85 39h1"/></g></g>
</g></g>
<rect x="609.6" y="43.6" width="143.4" height="216.2" fill="#fff" fill-opacity=".36"/>
<rect x="609.9" y="43.9" width="142.9" height="215.7" fill="none" stroke="#fff" stroke-width="3.3" stroke-dasharray="12.4 4.1"/>
<rect x="128.5" y="234.3" width="143.6" height="8.5" fill="#fff"/>
<line x1="93.3" y1="41.6" x2="108.3" y2="41.6" stroke="#000" stroke-width="2.7"/>
<text font-size="25" text-anchor="end" x="82.4" y="50.9">0</text>
<line x1="93.3" y1="114.75" x2="108.3" y2="114.75" stroke="#000" stroke-width="2.7"/>
<text font-size="25" text-anchor="end" x="82.4" y="124.05">5</text>
<line x1="93.3" y1="187.9" x2="108.3" y2="187.9" stroke="#000" stroke-width="2.7"/>
<text font-size="25" text-anchor="end" x="82.4" y="197.2">10</text>
<line x1="93.3" y1="261.05" x2="108.3" y2="261.05" stroke="#000" stroke-width="2.7"/>
<text font-size="25" text-anchor="end" x="82.4" y="270.35">15</text>
<line x1="107.3" y1="41.6" x2="1255.5" y2="41.6" stroke="#000" stroke-width="3.2"/>
<line x1="107.3" y1="261.3" x2="1255.5" y2="261.3" stroke="#000" stroke-width="2.7"/>
<line x1="108.25" y1="40.0" x2="108.25" y2="262.65000000000003" stroke="#000" stroke-width="1.9"/>
<line x1="1254.4" y1="40.0" x2="1254.4" y2="262.65000000000003" stroke="#000" stroke-width="2.2"/>
<text font-size="25" text-anchor="middle" textLength="219" lengthAdjust="spacingAndGlyphs" transform="translate(40.6,156.3) rotate(-90)">Probe position (nm)</text>
<text transform="translate(0.3,23.8) scale(1.02,1.0)" font-size="34.5" font-weight="bold" stroke="#000" stroke-width=".5">a</text>
<rect x="1274.05" y="43.25" width="28.4" height="217.9" fill="url(#gJet)" stroke="#000" stroke-width="2.1"/>
<line x1="1303.0" y1="76.5" x2="1316.7" y2="76.5" stroke="#000" stroke-width="2.2"/>
<text font-size="25" x="1321" y="85.7">3.0</text>
<line x1="1303.0" y1="119.2" x2="1316.7" y2="119.2" stroke="#000" stroke-width="2.2"/>
<text font-size="25" x="1321" y="128.4">2.5</text>
<line x1="1303.0" y1="161.9" x2="1316.7" y2="161.9" stroke="#000" stroke-width="2.2"/>
<text font-size="25" x="1321" y="171.1">2.0</text>
<line x1="1303.0" y1="204.6" x2="1316.7" y2="204.6" stroke="#000" stroke-width="2.2"/>
<text font-size="25" x="1321" y="213.8">1.5</text>
<line x1="1303.0" y1="247.3" x2="1316.7" y2="247.3" stroke="#000" stroke-width="2.2"/>
<text font-size="25" x="1321" y="256.5">1.0</text>
<text font-size="25" text-anchor="middle" textLength="224" lengthAdjust="spacingAndGlyphs" transform="translate(1405.5,158.8) rotate(-90)">Normalized intensity</text>
<text font-size="25" text-anchor="middle" textLength="147.5" lengthAdjust="spacingAndGlyphs" transform="translate(1435.5,159.0) rotate(-90)">(ZLP = 1,000)</text>
</g>
<g id="panelB">
<g clip-path="url(#cpB)"><g filter="url(#hot)">
<rect x="100" y="305" width="1170" height="245" fill="#0a0a0a"/>
<g filter="url(#blB)"><g transform="translate(90.0,310.4) scale(6.0,3.0)" fill="none" stroke-width="1.06"><path stroke="#020202" d="M129 43h1M138 43h1"/><path stroke="#030303" d="M130 43h2M139 43h1M92 44h6M104 44h11M128 44h1M131 44h3M138 44h4M93 67h2M100 67h10M116 67h5M134 67h7M143 67h7M152 67h3M158 67h2M167 67h4M173 67h8M184 67h4M7 68h2M14 68h2M23 68h3M34 68h1M64 68h9M76 68h4M92 68h4M99 68h11M116 68h5M134 68h15M151 68h9M167 68h3M172 68h9M185 68h2M192 68h2M6 69h3M13 69h4M23 69h4M33 69h3M64 69h8M75 69h5M92 69h5M99 69h11M116 69h6M134 69h14M151 69h10M168 69h1M173 69h8M184 69h2M192 69h4M6 70h3M13 70h5M23 70h5M33 70h3M67 70h5M75 70h5M93 70h18M117 70h6M134 70h14M151 70h11M173 70h7M183 70h3M192 70h6M0 71h1M5 71h5M13 71h5M23 71h7M33 71h3M40 71h1M67 71h5M75 71h5M94 71h8M103 71h3M108 71h2M117 71h6M125 71h4M134 71h15M150 71h13M164 71h3M174 71h4M183 71h3M192 71h6M0 72h2M4 72h6M13 72h5M23 72h8M33 72h2M67 72h4M74 72h6M94 72h7M103 72h3M117 72h12M134 72h33M184 72h2M191 72h4M196 72h2M0 73h2M3 73h4M13 73h4M23 73h8M47 73h1M67 73h4M74 73h5M94 73h7M104 73h2M117 73h12M133 73h25M159 73h8M190 73h5M196 73h2M0 74h6M22 74h9M47 74h2M67 74h4M74 74h6M95 74h6M104 74h2M111 74h1M117 74h12M133 74h19M154 74h3M160 74h1M163 74h4M189 74h6M196 74h2M0 75h7M22 75h9M47 75h1M58 75h3M67 75h4M74 75h6M95 75h5M104 75h1M117 75h13M132 75h19M163 75h5M187 75h6M197 75h1M0 76h2M3 76h4M22 76h9M47 76h1M56 76h5M67 76h4M73 76h7M91 76h2M94 76h4M104 76h1M117 76h13M131 76h19M163 76h5M187 76h4M197 76h1M0 77h2M4 77h3M22 77h10M55 77h6M65 77h6M73 77h8M90 77h8M104 77h1M117 77h4M122 77h28M163 77h7M187 77h4M197 77h1M0 78h2M4 78h4M23 78h10M37 78h4M55 78h6M65 78h1M68 78h3M74 78h8M90 78h8M103 78h5M118 78h3M123 78h27M163 78h9M188 78h2M197 78h1M0 79h3M4 79h6M23 79h3M29 79h4M37 79h4M46 79h1M54 79h6M69 79h2M74 79h10M85 79h1M91 79h1M94 79h4M101 79h7M119 79h1M123 79h20M145 79h5M158 79h2M163 79h10M188 79h2M197 79h1"/><path stroke="#040404" d="M0 0h3M5 0h5M23 0h3M30 0h4M37 0h4M45 0h2M54 0h5M74 0h6M85 0h1M95 0h3M106 0h2M128 0h6M135 0h8M148 0h2M158 0h2M163 0h13M188 0h3M197 0h1M0 1h3M6 1h5M23 1h3M30 1h4M37 1h3M45 1h2M54 1h5M74 1h1M97 1h1M130 1h4M136 1h6M148 1h2M157 1h3M163 1h14M188 1h3M197 1h1M0 2h5M7 2h7M23 2h3M31 2h2M37 2h3M45 2h2M54 2h5M73 2h1M130 2h3M149 2h1M157 2h3M163 2h14M183 2h2M188 2h5M197 2h1M0 3h5M8 3h6M54 3h4M64 3h2M149 3h1M157 3h3M163 3h3M168 3h9M182 3h4M188 3h7M196 3h2M0 4h5M8 4h6M54 4h4M64 4h1M157 4h3M164 4h1M168 4h9M182 4h4M187 4h11M0 5h5M8 5h6M54 5h4M63 5h1M157 5h3M168 5h8M182 5h16M0 6h5M8 6h7M20 6h2M54 6h3M158 6h3M168 6h5M182 6h16M0 7h4M8 7h14M56 7h1M158 7h4M168 7h4M182 7h16M0 8h3M8 8h5M14 8h9M39 8h2M159 8h3M169 8h3M183 8h15M0 9h3M8 9h4M15 9h8M27 9h5M39 9h3M62 9h1M160 9h1M170 9h1M183 9h15M0 10h2M8 10h4M15 10h8M27 10h5M39 10h3M184 10h14M0 11h2M8 11h4M15 11h8M27 11h5M39 11h3M184 11h14M0 12h1M7 12h4M15 12h8M27 12h4M184 12h14M0 13h1M7 13h4M14 13h9M28 13h2M187 13h2M192 13h6M6 14h5M14 14h8M28 14h1M192 14h6M9 15h2M14 15h6M193 15h1M196 15h2M5 16h1M9 16h2M13 16h2M16 16h2M193 16h1M197 16h1M5 17h1M196 17h2M197 18h1M137 43h1M140 43h1M149 43h1M159 43h1M115 44h2M127 44h1M129 44h2M145 44h1M151 44h1M154 44h8M169 44h1M82 45h1M87 45h1M57 46h2M66 46h1M116 65h5M138 65h3M143 65h9M167 65h5M176 65h1M184 65h8M58 66h1M63 66h10M77 66h7M99 66h11M115 66h6M134 66h7M143 66h11M159 66h1M167 66h5M175 66h6M184 66h8M7 67h2M15 67h1M24 67h1M63 67h10M77 67h7M92 67h1M99 67h1M115 67h1M133 67h1M141 67h2M150 67h2M155 67h1M160 67h1M171 67h2M181 67h1M192 67h1M6 68h1M13 68h1M16 68h1M33 68h1M35 68h1M80 68h1M115 68h1M133 68h1M149 68h1M160 68h1M170 68h1M181 68h1M184 68h1M194 68h2M17 69h1M32 69h1M72 69h1M91 69h1M97 69h2M110 69h1M115 69h1M133 69h1M148 69h3M161 69h1M167 69h1M169 69h1M172 69h1M183 69h1M196 69h1M5 70h1M9 70h1M28 70h1M32 70h1M36 70h1M39 70h2M64 70h3M90 70h3M116 70h1M126 70h3M148 70h3M162 70h1M165 70h3M30 71h1M32 71h1M36 71h1M41 71h1M64 71h1M66 71h1M74 71h1M91 71h3M102 71h1M106 71h2M110 71h1M123 71h1M149 71h1M163 71h1M173 71h1M178 71h1M191 71h1M3 72h1M12 72h1M32 72h1M35 72h1M40 72h1M71 72h1M108 72h3M133 72h1M183 72h1M195 72h1M2 73h1M7 73h3M12 73h1M17 73h1M22 73h1M48 73h1M79 73h1M110 73h2M129 73h1M158 73h1M167 73h1M195 73h1M6 74h1M13 74h1M59 74h2M94 74h1M110 74h1M129 74h1M132 74h1M159 74h1M161 74h2M167 74h1M187 74h2M195 74h1M48 75h1M57 75h1M66 75h1M73 75h1M80 75h1M92 75h1M94 75h1M100 75h1M105 75h1M110 75h2M155 75h1M193 75h1M196 75h1M2 76h1M31 76h1M48 76h1M65 76h2M80 76h1M90 76h1M93 76h1M98 76h2M105 76h1M130 76h1M150 76h1M168 76h1M191 76h1M196 76h1M2 77h2M37 77h4M47 77h1M81 77h1M103 77h1M105 77h3M121 77h1M170 77h1M196 77h1M2 78h2M8 78h1M22 78h1M46 78h2M66 78h2M73 78h1M82 78h1M102 78h1M116 78h2M122 78h1M159 78h1M187 78h1M190 78h1M196 78h1M3 79h1M10 79h1M22 79h1M26 79h2M33 79h1M45 79h1M65 79h1M68 79h1M84 79h1M86 79h1M90 79h1M92 79h2M116 79h1M120 79h1M143 79h2M173 79h2M190 79h1M196 79h1"/><path stroke="#050505" d="M4 0h1M10 0h1M22 0h1M69 0h2M80 0h5M86 0h1M101 0h5M123 0h5M134 0h1M157 0h1M3 1h3M12 1h2M22 1h1M73 1h1M75 1h12M95 1h2M101 1h7M123 1h3M128 1h2M135 1h1M191 1h1M22 2h1M30 2h1M33 2h1M64 2h2M74 2h2M78 2h4M84 2h2M95 2h3M104 2h4M128 2h2M133 2h1M135 2h2M139 2h3M148 2h1M196 2h1M7 3h1M24 3h2M38 3h1M58 3h1M72 3h4M79 3h2M96 3h2M129 3h3M135 3h1M148 3h1M167 3h1M181 3h1M187 3h1M195 3h1M5 4h1M20 4h1M63 4h1M65 4h1M70 4h4M79 4h2M148 4h2M163 4h1M181 4h1M186 4h1M5 5h1M14 5h1M20 5h2M64 5h2M70 5h1M148 5h2M181 5h1M17 6h1M19 6h1M53 6h1M57 6h1M63 6h3M149 6h1M157 6h1M161 6h2M173 6h2M4 7h1M39 7h2M53 7h3M63 7h2M154 7h1M157 7h1M162 7h1M3 8h1M13 8h1M28 8h2M41 8h1M52 8h5M62 8h2M157 8h2M162 8h1M168 8h1M182 8h1M12 9h1M14 9h1M32 9h1M52 9h1M63 9h1M158 9h2M161 9h1M169 9h1M14 10h1M23 10h1M32 10h1M62 10h1M159 10h2M14 11h1M23 11h1M38 11h1M171 11h2M11 12h1M14 12h1M38 12h3M171 12h3M6 13h1M27 13h1M38 13h3M171 13h3M189 13h1M191 13h1M0 14h1M22 14h1M25 14h3M29 14h1M174 14h1M187 14h1M5 15h2M8 15h1M13 15h1M20 15h2M25 15h5M174 15h1M192 15h1M194 15h2M11 16h1M15 16h1M18 16h2M25 16h5M175 16h1M192 16h1M194 16h1M196 16h1M10 17h2M13 17h1M17 17h3M25 17h2M175 17h1M192 17h2M13 18h1M192 18h2M196 18h1M2 20h1M1 21h2M1 22h2M124 43h2M153 43h1M156 43h3M160 43h1M98 44h1M103 44h1M117 44h1M142 44h1M146 44h1M150 44h1M152 44h2M168 44h1M170 44h1M73 45h1M81 45h1M90 45h1M56 46h1M59 46h1M27 47h3M105 64h4M116 64h6M127 64h2M138 64h3M143 64h9M167 64h5M183 64h9M8 65h1M18 65h3M57 65h3M62 65h6M69 65h15M99 65h10M115 65h1M127 65h1M134 65h2M137 65h1M152 65h1M177 65h1M183 65h1M7 66h2M19 66h2M57 66h1M59 66h1M62 66h1M73 66h1M76 66h1M93 66h1M133 66h1M141 66h2M154 66h1M158 66h1M160 66h1M172 66h1M174 66h1M181 66h3M192 66h1M14 67h1M23 67h1M25 67h1M33 67h2M57 67h2M73 67h1M76 67h1M95 67h1M157 67h1M182 67h2M191 67h1M193 67h1M22 68h1M26 68h1M32 68h1M57 68h1M63 68h1M75 68h1M81 68h3M91 68h1M96 68h1M110 68h1M121 68h1M150 68h1M171 68h1M182 68h2M191 68h1M196 68h1M9 69h1M22 69h1M27 69h1M31 69h1M36 69h1M39 69h2M63 69h1M80 69h1M90 69h1M122 69h1M126 69h3M166 69h1M181 69h2M186 69h1M191 69h1M197 69h1M0 70h1M12 70h1M18 70h1M29 70h3M41 70h1M63 70h1M74 70h1M80 70h1M115 70h1M125 70h1M133 70h1M163 70h2M168 70h1M172 70h1M180 70h1M182 70h1M186 70h1M191 70h1M1 71h1M4 71h1M12 71h1M18 71h1M31 71h1M39 71h1M63 71h1M65 71h1M80 71h1M90 71h1M116 71h1M124 71h1M133 71h1M167 71h1M179 71h1M182 71h1M186 71h1M2 72h1M10 72h1M18 72h1M31 72h1M36 72h1M41 72h1M46 72h3M64 72h1M66 72h1M80 72h1M91 72h3M101 72h1M106 72h1M111 72h1M129 72h1M167 72h1M174 72h2M186 72h1M190 72h1M10 73h2M18 73h1M31 73h4M36 73h1M40 73h2M46 73h1M71 73h1M80 73h1M93 73h1M103 73h1M109 73h1M184 73h3M189 73h1M10 74h3M14 74h2M31 74h1M46 74h1M58 74h1M66 74h1M73 74h1M80 74h1M92 74h2M103 74h1M109 74h1M152 74h2M157 74h1M186 74h1M31 75h1M46 75h1M56 75h1M61 75h1M64 75h2M71 75h1M81 75h1M91 75h1M93 75h1M103 75h1M130 75h2M151 75h1M154 75h1M159 75h4M180 75h1M186 75h1M194 75h2M37 76h1M40 76h1M46 76h1M61 76h1M64 76h1M71 76h1M81 76h1M100 76h1M103 76h1M106 76h2M110 76h2M116 76h1M179 76h2M186 76h1M192 76h1M7 77h1M32 77h1M46 77h1M48 77h1M61 77h1M64 77h1M71 77h2M82 77h1M89 77h1M98 77h2M108 77h1M116 77h1M150 77h1M159 77h1M9 78h2M36 78h1M54 78h1M64 78h1M71 78h1M83 78h1M88 78h2M98 78h1M100 78h2M108 78h1M121 78h1M150 78h1M158 78h1M11 79h3M28 79h1M36 79h1M47 79h1M64 79h1M66 79h2M71 79h1M73 79h1M87 79h1M89 79h1M98 79h1M100 79h1M108 79h1M115 79h1M117 79h2M122 79h1M150 79h1M157 79h1M175 79h1M187 79h1"/><path stroke="#060606" d="M3 0h1M12 0h2M29 0h1M36 0h1M59 0h1M65 0h1M98 0h1M115 0h2M147 0h1M176 0h1M196 0h1M11 1h1M40 1h1M47 1h1M65 1h1M69 1h2M98 1h1M100 1h1M115 1h1M126 1h2M134 1h1M142 1h1M150 1h1M196 1h1M5 2h2M21 2h1M47 2h1M70 2h1M72 2h1M100 2h4M123 2h3M134 2h1M137 2h2M150 2h1M177 2h1M179 2h2M182 2h1M193 2h1M5 3h1M20 3h4M32 3h2M37 3h1M39 3h1M46 3h1M70 3h2M81 3h1M84 3h2M95 3h1M104 3h4M132 3h1M136 3h1M139 3h2M150 3h1M166 3h1M177 3h1M179 3h2M7 4h1M14 4h1M21 4h1M38 4h1M58 4h1M74 4h2M96 4h1M113 4h1M165 4h1M179 4h2M7 5h1M19 5h1M69 5h1M71 5h3M79 5h2M160 5h1M162 5h3M180 5h1M5 6h1M7 6h1M15 6h2M18 6h1M39 6h1M66 6h1M69 6h1M79 6h1M148 6h1M163 6h1M181 6h1M22 7h1M41 7h1M62 7h1M65 7h1M149 7h1M163 7h1M172 7h1M27 8h1M30 8h2M42 8h1M64 8h1M149 8h1M154 8h3M23 9h1M26 9h1M42 9h1M53 9h4M61 9h1M156 9h2M162 9h1M171 9h1M2 10h1M26 10h1M38 10h1M42 10h1M44 10h1M51 10h3M63 10h1M158 10h1M170 10h2M183 10h1M7 11h1M26 11h1M32 11h1M44 11h1M50 11h2M159 11h1M173 11h1M1 12h1M23 12h1M26 12h1M31 12h1M41 12h1M44 12h1M11 13h1M25 13h2M30 13h1M184 13h3M190 13h1M5 14h1M11 14h1M13 14h1M38 14h3M171 14h3M188 14h1M0 15h1M7 15h1M11 15h1M38 15h1M173 15h1M175 15h1M0 16h1M6 16h1M12 16h1M20 16h1M30 16h1M174 16h1M195 16h1M0 17h1M4 17h1M12 17h1M14 17h1M27 17h3M174 17h1M176 17h1M194 17h2M0 18h1M4 18h2M11 18h2M18 18h1M25 18h2M175 18h2M194 18h2M0 19h4M12 19h2M176 19h1M192 19h2M196 19h2M1 20h1M193 20h1M1 23h2M128 43h1M148 43h1M150 43h1M152 43h1M118 44h2M121 44h1M134 44h1M144 44h1M166 44h2M80 45h1M86 45h1M91 45h1M181 45h1M55 46h1M60 46h3M195 46h1M197 46h1M6 48h1M10 48h1M12 48h1M138 63h3M143 63h9M167 63h5M183 63h8M8 64h1M17 64h4M57 64h3M62 64h3M70 64h14M98 64h3M103 64h2M115 64h1M122 64h3M126 64h1M152 64h1M7 65h1M68 65h1M98 65h1M109 65h1M121 65h1M125 65h2M128 65h1M136 65h1M141 65h1M153 65h1M159 65h2M172 65h1M175 65h1M178 65h1M180 65h3M192 65h1M18 66h1M24 66h1M34 66h1M53 66h1M74 66h2M92 66h1M94 66h1M121 66h1M126 66h3M173 66h1M6 67h1M9 67h1M13 67h1M16 67h1M19 67h2M22 67h1M26 67h1M32 67h1M35 67h1M52 67h2M62 67h1M74 67h2M84 67h1M91 67h1M121 67h1M126 67h3M156 67h1M188 67h3M194 67h2M9 68h1M12 68h1M17 68h1M31 68h1M36 68h1M52 68h1M56 68h1M58 68h1M73 68h2M84 68h1M90 68h1M98 68h1M126 68h3M161 68h1M166 68h1M187 68h1M5 69h1M12 69h1M18 69h1M30 69h1M37 69h2M56 69h2M74 69h1M81 69h4M162 69h1M165 69h1M170 69h2M22 70h1M37 70h2M57 70h1M72 70h1M83 70h3M89 70h1M123 70h1M181 70h1M2 71h2M10 71h1M19 71h1M22 71h1M37 71h2M46 71h2M84 71h2M89 71h1M111 71h1M115 71h1M129 71h1M180 71h1M190 71h1M11 72h1M22 72h1M37 72h1M39 72h1M49 72h1M63 72h1M65 72h1M84 72h2M90 72h1M102 72h1M107 72h1M116 72h1M176 72h1M182 72h1M35 73h1M37 73h1M49 73h1M59 73h2M63 73h4M73 73h1M81 73h1M91 73h2M101 73h1M106 73h1M108 73h1M112 73h1M116 73h1M132 73h1M182 73h2M187 73h2M7 74h1M9 74h1M16 74h2M21 74h1M32 74h1M36 74h2M40 74h2M49 74h1M57 74h1M61 74h1M63 74h3M71 74h1M81 74h1M91 74h1M106 74h1M108 74h1M112 74h1M116 74h1M158 74h1M180 74h2M185 74h1M10 75h4M37 75h1M40 75h1M63 75h1M90 75h1M106 75h4M112 75h1M116 75h1M156 75h1M168 75h1M179 75h1M10 76h2M38 76h2M55 76h1M72 76h1M82 76h1M89 76h1M108 76h2M151 76h1M155 76h1M159 76h2M162 76h1M169 76h1M193 76h3M10 77h3M36 77h1M41 77h1M88 77h1M100 77h1M109 77h2M158 77h1M160 77h1M179 77h2M186 77h1M191 77h1M11 78h2M33 78h1M41 78h1M45 78h1M48 78h1M72 78h1M85 78h3M99 78h1M115 78h1M156 78h2M160 78h1M172 78h3M41 79h1M60 79h1M72 79h1M88 79h1M99 79h1M121 79h1M156 79h1M160 79h1M176 79h1M191 79h1"/><path stroke="#070707" d="M11 0h1M26 0h1M47 0h1M64 0h1M68 0h1M71 0h1M73 0h1M94 0h1M100 0h1M108 0h1M119 0h2M150 0h1M156 0h1M191 0h1M29 1h1M36 1h1M44 1h1M64 1h1M71 1h1M116 1h1M156 1h1M177 1h1M192 1h1M20 2h1M36 2h1M40 2h1M44 2h1M69 2h1M71 2h1M76 2h1M82 2h2M86 2h1M98 2h1M114 2h3M142 2h1M178 2h1M181 2h1M185 2h1M187 2h1M6 3h1M14 3h1M30 3h2M34 3h1M45 3h1M47 3h1M63 3h1M69 3h1M78 3h1M100 3h4M113 3h2M123 3h2M128 3h1M133 3h2M137 3h2M141 3h1M178 3h1M186 3h1M6 4h1M19 4h1M25 4h1M33 4h2M37 4h1M39 4h1M69 4h1M84 4h1M90 4h1M95 4h1M97 4h1M104 4h1M112 4h1M129 4h1M135 4h2M150 4h1M162 4h1M167 4h1M177 4h2M34 5h1M38 5h2M53 5h1M58 5h1M66 5h1M74 5h2M84 5h1M95 5h2M161 5h1M167 5h1M176 5h1M179 5h1M38 6h1M40 6h1M62 6h1M70 6h3M80 6h1M154 6h1M164 6h1M167 6h1M175 6h1M179 6h2M7 7h1M38 7h1M52 7h1M57 7h1M61 7h1M66 7h1M79 7h1M148 7h1M153 7h1M155 7h1M164 7h1M167 7h1M173 7h2M181 7h1M26 8h1M32 8h1M38 8h1M61 8h1M65 8h1M148 8h1M163 8h1M13 9h1M25 9h1M38 9h1M43 9h1M51 9h1M64 9h1M149 9h1M154 9h2M179 9h1M12 10h1M24 10h2M43 10h1M54 10h2M61 10h1M156 10h2M161 10h1M172 10h1M178 10h2M24 11h2M45 11h1M52 11h2M62 11h1M158 11h1M160 11h1M170 11h1M178 11h2M6 12h1M24 12h2M45 12h1M50 12h3M170 12h1M1 13h1M23 13h2M44 13h2M170 13h1M24 14h1M30 14h1M170 14h1M191 14h1M12 15h1M22 15h1M24 15h1M30 15h1M39 15h2M172 15h1M187 15h1M4 16h1M8 16h1M21 16h1M24 16h1M173 16h1M176 16h1M6 17h1M9 17h1M20 17h1M30 17h1M173 17h1M1 18h3M10 18h1M19 18h1M27 18h3M174 18h1M4 19h1M11 19h1M175 19h1M194 19h2M0 20h1M3 20h1M12 20h1M181 20h2M192 20h1M194 20h1M181 21h2M192 21h3M1 24h2M132 43h1M136 43h1M141 43h1M151 43h1M155 43h1M91 44h1M120 44h1M137 44h1M143 44h1M147 44h1M162 44h1M165 44h1M74 45h1M79 45h1M88 45h2M96 45h1M110 45h1M65 46h1M32 47h1M41 47h1M43 47h1M5 48h1M11 48h1M19 48h1M23 48h1M28 48h2M56 63h4M62 63h2M70 63h15M99 63h1M106 63h2M115 63h14M160 63h1M165 63h2M191 63h1M7 64h1M56 64h1M60 64h1M65 64h2M69 64h1M84 64h1M101 64h2M125 64h1M129 64h1M137 64h1M141 64h2M159 64h2M165 64h2M172 64h1M182 64h1M1 65h1M17 65h1M21 65h1M56 65h1M60 65h1M84 65h1M93 65h1M122 65h3M129 65h1M133 65h1M142 65h1M158 65h1M166 65h1M179 65h1M9 66h1M11 66h1M21 66h1M23 66h1M25 66h1M32 66h2M35 66h1M52 66h1M56 66h1M84 66h1M98 66h1M125 66h1M129 66h1M155 66h1M157 66h1M166 66h1M193 66h1M10 67h3M18 67h1M21 67h1M31 67h1M36 67h1M51 67h1M56 67h1M59 67h1M98 67h1M110 67h1M125 67h1M129 67h1M161 67h1M166 67h1M196 67h1M5 68h1M11 68h1M18 68h4M27 68h1M30 68h1M37 68h4M51 68h1M53 68h1M97 68h1M122 68h1M129 68h1M190 68h1M197 68h1M0 69h1M19 69h1M21 69h1M28 69h2M41 69h1M51 69h2M58 69h1M73 69h1M85 69h1M89 69h1M114 69h1M125 69h1M129 69h1M163 69h2M187 69h1M1 70h1M4 70h1M10 70h1M19 70h1M46 70h1M50 70h3M56 70h1M58 70h1M73 70h1M81 70h2M114 70h1M124 70h1M129 70h1M169 70h1M190 70h1M11 71h1M45 71h1M48 71h5M57 71h1M72 71h2M81 71h3M168 71h1M181 71h1M19 72h1M38 72h1M42 72h1M45 72h1M50 72h2M57 72h1M62 72h1M73 72h1M81 72h3M89 72h1M132 72h1M173 72h1M177 72h5M187 72h1M189 72h1M19 73h1M21 73h1M38 73h2M50 73h1M57 73h2M61 73h2M82 73h4M90 73h1M107 73h1M174 73h2M179 73h3M8 74h1M18 74h1M33 74h1M56 74h1M62 74h1M72 74h1M82 74h1M90 74h1M107 74h1M130 74h2M168 74h1M179 74h1M184 74h1M7 75h1M21 75h1M32 75h1M36 75h1M38 75h2M41 75h1M49 75h1M62 75h1M72 75h1M82 75h1M89 75h1M152 75h2M157 75h2M181 75h1M185 75h1M7 76h1M12 76h2M21 76h1M32 76h1M36 76h1M41 76h1M62 76h2M88 76h1M112 76h1M154 76h1M156 76h1M158 76h1M161 76h1M178 76h1M8 77h2M13 77h1M54 77h1M63 77h1M83 77h1M87 77h1M101 77h2M111 77h1M115 77h1M151 77h1M154 77h3M162 77h1M171 77h1M178 77h1M192 77h2M195 77h1M13 78h1M61 78h1M63 78h1M84 78h1M109 78h1M154 78h2M162 78h1M175 78h1M179 78h2M191 78h1M34 79h1M44 79h1M48 79h1M53 79h1M114 79h1M151 79h2M155 79h1M179 79h2"/><path stroke="#080808" d="M44 0h1M66 0h1M87 0h1M90 0h3M117 0h1M122 0h1M143 0h1M187 0h1M21 1h1M26 1h1M34 1h1M53 1h1M59 1h1M72 1h1M94 1h1M108 1h1M114 1h1M119 1h1M147 1h1M151 1h1M178 1h3M183 1h2M187 1h1M29 2h1M34 2h1M77 2h1M108 2h1M113 2h1M126 2h2M151 2h1M156 2h1M19 3h1M36 3h1M89 3h2M115 3h3M125 3h1M156 3h1M162 3h1M22 4h1M24 4h1M35 4h2M40 4h1M47 4h2M66 4h1M81 4h1M89 4h1M100 4h4M105 4h1M107 4h2M114 4h1M123 4h1M128 4h1M130 4h1M137 4h1M160 4h1M166 4h1M6 5h1M15 5h1M17 5h2M33 5h1M35 5h3M40 5h1M83 5h1M89 5h2M108 5h1M112 5h2M150 5h1M165 5h1M178 5h1M22 6h1M34 6h2M37 6h1M41 6h1M58 6h1M73 6h2M78 6h1M83 6h2M90 6h1M94 6h2M108 6h1M153 6h1M165 6h1M26 7h4M42 7h1M60 7h1M69 7h1M77 7h2M80 7h1M82 7h1M95 7h1M147 7h1M156 7h1M165 7h1M179 7h2M7 8h1M23 8h1M25 8h1M43 8h1M78 8h2M147 8h1M153 8h1M164 8h1M167 8h1M172 8h3M179 8h1M3 9h1M7 9h1M24 9h1M33 9h1M44 9h1M148 9h1M163 9h1M168 9h1M172 9h2M178 9h1M7 10h1M33 10h1M45 10h1M50 10h1M56 10h1M148 10h2M154 10h2M162 10h1M173 10h1M2 11h1M42 11h2M54 11h2M63 11h1M157 11h1M49 12h1M53 12h1M178 12h2M5 13h1M13 13h1M41 13h1M50 13h3M174 13h1M178 13h2M1 14h1M12 14h1M23 14h1M44 14h1M184 14h3M4 15h1M170 15h2M188 15h1M191 15h1M7 16h1M38 16h2M172 16h1M1 17h1M3 17h1M16 17h1M24 17h1M191 17h1M14 18h1M17 18h1M30 18h1M191 18h1M5 19h1M26 19h2M174 19h1M182 19h1M11 20h1M13 20h1M176 20h1M188 20h2M196 20h2M0 21h1M3 21h1M11 21h2M180 21h1M189 21h1M0 22h1M3 22h1M180 22h3M193 22h2M10 23h1M0 24h1M10 24h1M1 25h2M107 37h1M109 43h1M123 43h1M126 43h1M142 43h2M154 43h1M161 43h1M126 44h1M149 44h1M164 44h1M171 44h1M65 45h1M77 45h2M97 45h1M111 45h1M182 45h1M54 46h1M16 47h1M30 47h2M1 48h4M7 48h1M115 62h11M127 62h2M138 62h3M142 62h10M160 62h3M164 62h8M183 62h8M7 63h2M17 63h4M64 63h1M98 63h1M100 63h1M103 63h1M108 63h1M129 63h1M141 63h2M159 63h1M161 63h1M164 63h1M172 63h1M1 64h1M21 64h1M61 64h1M67 64h1M133 64h2M161 64h1M180 64h2M192 64h1M2 65h1M9 65h3M32 65h3M52 65h4M61 65h1M92 65h1M154 65h1M165 65h1M1 66h1M6 66h1M10 66h1M12 66h1M15 66h3M22 66h1M26 66h1M31 66h1M36 66h3M51 66h1M54 66h2M60 66h2M91 66h1M95 66h1M122 66h3M156 66h1M161 66h1M194 66h1M17 67h1M27 67h1M30 67h1M37 67h3M54 67h2M90 67h1M96 67h1M122 67h1M132 67h1M197 67h1M10 68h1M29 68h1M50 68h1M54 68h2M59 68h1M62 68h1M85 68h1M89 68h1M114 68h1M125 68h1M162 68h1M165 68h1M188 68h2M4 69h1M10 69h2M20 69h1M46 69h1M50 69h1M53 69h1M62 69h1M123 69h1M190 69h1M2 70h2M11 70h1M20 70h2M42 70h1M45 70h1M47 70h1M53 70h1M62 70h1M86 70h1M111 70h1M171 70h1M187 70h1M20 71h2M42 71h1M53 71h1M56 71h1M58 71h1M62 71h1M86 71h1M88 71h1M114 71h1M132 71h1M172 71h1M187 71h1M189 71h1M20 72h2M52 72h1M56 72h1M58 72h4M72 72h1M86 72h1M112 72h1M115 72h1M168 72h1M188 72h1M20 73h1M42 73h1M45 73h1M51 73h2M56 73h1M72 73h1M89 73h1M102 73h1M130 73h1M168 73h1M19 74h1M34 74h2M38 74h2M42 74h1M45 74h1M50 74h1M83 74h2M89 74h1M101 74h1M174 74h2M178 74h1M182 74h2M9 75h1M14 75h1M16 75h3M55 75h1M88 75h1M101 75h1M169 75h1M178 75h1M9 76h1M49 76h1M83 76h1M101 76h2M152 76h2M157 76h1M170 76h1M181 76h1M185 76h1M21 77h1M33 77h1M45 77h1M49 77h1M62 77h1M152 77h2M157 77h1M161 77h1M174 77h2M194 77h1M34 78h2M44 78h1M110 78h2M151 78h3M176 78h3M186 78h1M192 78h2M195 78h1M21 79h1M35 79h1M63 79h1M109 79h1M153 79h2M162 79h1M177 79h2M192 79h1"/><path stroke="#090909" d="M27 0h2M34 0h1M53 0h1M67 0h1M72 0h1M93 0h1M99 0h1M114 0h1M118 0h1M146 0h1M151 0h1M160 0h1M177 0h1M179 0h1M192 0h1M20 1h1M66 1h1M68 1h1M87 1h1M90 1h1M99 1h1M117 1h2M120 1h1M122 1h1M152 1h1M160 1h1M193 1h1M14 2h1M19 2h1M26 2h1M53 2h1M66 2h1M90 2h1M99 2h1M117 2h3M152 2h1M162 2h1M186 2h1M194 2h2M26 3h1M29 3h1M35 3h1M40 3h1M44 3h1M48 3h1M53 3h1M66 3h1M82 3h2M98 3h2M108 3h1M112 3h1M118 3h2M126 3h2M142 3h1M151 3h1M160 3h1M18 4h1M32 4h1M46 4h1M53 4h1M59 4h1M78 4h1M83 4h1M116 4h3M124 4h1M131 4h1M134 4h1M138 4h4M156 4h1M161 4h1M16 5h1M22 5h1M25 5h1M41 5h1M48 5h1M59 5h1M62 5h1M78 5h1M81 5h1M94 5h1M97 5h1M100 5h1M104 5h1M107 5h1M111 5h1M114 5h1M128 5h2M135 5h2M153 5h2M156 5h1M166 5h1M177 5h1M6 6h1M25 6h2M33 6h1M36 6h1M52 6h1M59 6h3M68 6h1M75 6h1M81 6h2M96 6h1M100 6h1M113 6h1M147 6h1M150 6h1M155 6h2M166 6h1M178 6h1M5 7h1M25 7h1M30 7h5M37 7h1M68 7h1M70 7h5M83 7h2M90 7h2M94 7h1M166 7h1M175 7h1M178 7h1M4 8h1M24 8h1M33 8h1M57 8h1M60 8h1M66 8h1M77 8h1M80 8h2M91 8h1M95 8h1M165 8h1M178 8h1M180 8h2M45 9h1M65 9h1M78 9h2M147 9h1M153 9h1M164 9h1M174 9h1M182 9h1M13 10h1M64 10h1M147 10h1M169 10h1M174 10h1M6 11h1M12 11h1M33 11h1M49 11h1M61 11h1M156 11h1M161 11h1M183 11h1M12 12h2M32 12h1M43 12h1M54 12h1M160 12h1M174 12h1M12 13h1M31 13h1M49 13h1M53 13h1M45 14h1M50 14h3M175 14h1M178 14h2M189 14h1M1 15h1M23 15h1M176 15h1M179 15h1M184 15h1M1 16h1M22 16h1M40 16h1M171 16h1M187 16h1M191 16h1M2 17h1M15 17h1M21 17h1M31 17h1M172 17h1M177 17h1M6 18h1M20 18h1M24 18h1M31 18h1M177 18h1M182 18h1M10 19h1M25 19h1M28 19h3M181 19h1M188 19h2M191 19h1M4 20h1M175 20h1M180 20h1M191 20h1M195 20h1M13 21h1M183 21h1M188 21h1M10 22h4M189 22h1M191 22h2M0 23h1M3 23h1M9 23h1M11 23h1M194 23h1M3 24h1M9 24h1M11 24h1M0 25h1M107 38h1M106 39h1M138 42h1M99 44h1M163 44h1M60 45h1M66 45h1M69 45h1M72 45h1M83 45h1M109 45h1M63 46h1M181 46h1M190 46h1M14 47h2M33 47h1M40 47h1M42 47h1M44 47h1M20 48h1M56 62h4M62 62h2M70 62h15M99 62h1M126 62h1M141 62h1M159 62h1M163 62h1M172 62h1M38 63h2M60 63h1M69 63h1M101 63h2M104 63h2M137 63h1M152 63h1M162 63h1M182 63h1M0 64h1M2 64h1M6 64h1M9 64h1M37 64h2M55 64h1M68 64h1M109 64h1M135 64h2M153 64h1M158 64h1M164 64h1M176 64h1M179 64h1M0 65h1M6 65h1M12 65h1M25 65h1M31 65h1M35 65h5M91 65h1M94 65h1M130 65h1M132 65h1M157 65h1M161 65h1M173 65h2M193 65h1M197 65h1M0 66h1M2 66h1M13 66h2M27 66h1M30 66h1M39 66h1M110 66h1M130 66h1M132 66h1M165 66h1M195 66h3M0 67h2M5 67h1M40 67h1M50 67h1M60 67h2M97 67h1M114 67h1M123 67h2M130 67h1M162 67h1M165 67h1M0 68h1M28 68h1M41 68h1M123 68h2M132 68h1M163 68h2M1 69h3M42 69h1M45 69h1M54 69h2M59 69h1M111 69h1M124 69h1M132 69h1M188 69h2M49 70h1M59 70h1M88 70h1M132 70h1M170 70h1M189 70h1M44 71h1M59 71h1M87 71h1M112 71h1M169 71h1M188 71h1M43 72h2M53 72h1M87 72h2M113 72h2M130 72h1M53 73h1M86 73h1M88 73h1M113 73h1M115 73h1M131 73h1M173 73h1M176 73h3M20 74h1M51 74h2M55 74h1M85 74h1M88 74h1M102 74h1M113 74h1M176 74h1M8 75h1M15 75h1M33 75h1M35 75h1M42 75h1M45 75h1M50 75h2M83 75h1M102 75h1M174 75h2M177 75h1M182 75h1M184 75h1M8 76h1M17 76h2M33 76h1M42 76h1M45 76h1M50 76h1M54 76h1M87 76h1M115 76h1M174 76h4M35 77h1M42 77h1M84 77h3M112 77h1M172 77h2M176 77h2M181 77h1M185 77h1M21 78h1M42 78h1M49 78h1M53 78h1M62 78h1M114 78h1M161 78h1M194 78h1M18 79h1M43 79h1M61 79h1M110 79h2M113 79h1M161 79h1M186 79h1M193 79h1M195 79h1"/><path stroke="#0a0a0a" d="M21 0h1M35 0h1M41 0h1M88 0h2M121 0h1M144 0h2M152 0h1M155 0h1M178 0h1M180 0h1M19 1h1M35 1h1M89 1h1M91 1h1M113 1h1M162 1h1M181 1h2M18 2h1M35 2h1M48 2h1M59 2h1M63 2h1M68 2h1M89 2h1M94 2h1M112 2h1M120 2h1M122 2h1M160 2h1M18 3h1M59 3h1M76 3h1M122 3h1M152 3h1M15 4h1M17 4h1M23 4h1M26 4h1M30 4h2M45 4h1M85 4h1M94 4h1M98 4h2M106 4h1M111 4h1M115 4h1M119 4h1M125 4h1M127 4h1M153 4h1M26 5h1M32 5h1M47 5h1M52 5h1M68 5h1M82 5h1M99 5h1M101 5h3M109 5h1M117 5h2M123 5h1M137 5h1M147 5h1M155 5h1M27 6h1M32 6h1M42 6h1M48 6h1M77 6h1M89 6h1M91 6h1M109 6h1M112 6h1M176 6h1M6 7h1M23 7h1M35 7h2M43 7h1M58 7h2M67 7h1M75 7h2M81 7h1M93 7h1M100 7h1M108 7h1M150 7h1M44 8h1M51 8h1M68 8h1M76 8h1M82 8h3M90 8h1M93 8h2M150 8h1M166 8h1M60 9h1M76 9h2M80 9h2M165 9h1M180 9h1M3 10h1M77 10h3M153 10h1M163 10h1M177 10h1M13 11h1M154 11h2M174 11h1M177 11h1M2 12h1M5 12h1M62 12h1M159 12h1M161 12h1M4 14h1M49 14h1M53 14h1M190 14h1M44 15h2M51 15h2M178 15h1M185 15h2M3 16h1M23 16h1M31 16h1M170 16h1M177 16h4M184 16h1M188 16h1M8 17h1M38 17h2M178 17h3M187 17h2M9 18h1M180 18h2M187 18h2M14 19h1M18 19h2M31 19h1M177 19h1M180 19h1M183 19h1M190 19h1M5 20h1M10 20h1M183 20h1M190 20h1M10 21h1M176 21h1M187 21h1M190 21h2M195 21h1M197 21h1M9 22h1M183 22h1M188 22h1M190 22h1M12 23h2M180 23h3M13 24h2M195 24h1M3 25h1M10 25h1M13 25h1M197 25h1M0 26h4M104 43h1M127 43h1M144 43h1M122 44h1M125 44h1M135 44h2M148 44h1M173 44h2M67 45h2M85 45h1M95 45h1M98 45h1M116 45h2M64 46h1M182 46h1M189 46h1M10 47h1M13 47h1M0 48h1M9 48h1M22 48h1M27 48h1M38 48h1M141 61h6M150 61h2M159 61h8M168 61h4M183 61h8M7 62h2M17 62h4M38 62h2M64 62h1M85 62h1M98 62h1M100 62h1M107 62h1M129 62h1M182 62h1M191 62h1M1 63h1M6 63h1M9 63h1M16 63h1M21 63h1M37 63h1M55 63h1M61 63h1M65 63h3M85 63h1M133 63h2M163 63h1M180 63h2M192 63h1M197 63h1M3 64h1M10 64h2M16 64h1M30 64h7M39 64h1M53 64h2M92 64h2M97 64h1M130 64h1M132 64h1M162 64h1M175 64h1M177 64h2M197 64h1M3 65h1M16 65h1M22 65h1M24 65h1M26 65h2M30 65h1M51 65h1M95 65h1M97 65h1M155 65h1M164 65h1M196 65h1M3 66h1M5 66h1M50 66h1M90 66h1M96 66h2M114 66h1M131 66h1M164 66h1M2 67h1M28 67h2M85 67h1M89 67h1M131 67h1M163 67h2M1 68h4M45 68h2M60 68h2M111 68h1M130 68h1M47 69h1M49 69h1M86 69h1M88 69h1M130 69h1M43 70h2M48 70h1M54 70h2M87 70h1M130 70h1M188 70h1M43 71h1M54 71h2M60 71h2M113 71h1M130 71h1M54 72h2M131 72h1M172 72h1M43 73h2M54 73h2M87 73h1M114 73h1M43 74h2M53 74h2M86 74h2M115 74h1M169 74h1M173 74h1M177 74h1M19 75h2M34 75h1M43 75h1M52 75h1M54 75h1M84 75h2M87 75h1M113 75h1M115 75h1M173 75h1M176 75h1M183 75h1M14 76h1M35 76h1M51 76h1M84 76h1M86 76h1M171 76h1M173 76h1M184 76h1M17 77h2M34 77h1M43 77h2M50 77h2M53 77h1M114 77h1M18 78h1M43 78h1M52 78h1M112 78h1M181 78h1M185 78h1M14 79h1M19 79h2M42 79h1M49 79h1M51 79h2M62 79h1M112 79h1M181 79h1M194 79h1"/><path stroke="#0b0b0b" d="M48 0h1M153 0h1M162 0h1M14 1h1M18 1h1M28 1h1M41 1h1M48 1h1M63 1h1M67 1h1M88 1h1M92 1h2M121 1h1M143 1h1M153 1h1M155 1h1M185 1h1M87 2h1M91 2h1M147 2h1M153 2h1M155 2h1M17 3h1M52 3h1M68 3h1M77 3h1M86 3h1M94 3h1M153 3h1M155 3h1M161 3h1M16 4h1M29 4h1M41 4h1M49 4h1M52 4h1M62 4h1M68 4h1M76 4h1M82 4h1M91 4h1M109 4h1M126 4h1M132 4h2M142 4h1M151 4h2M154 4h2M24 5h1M29 5h3M49 5h1M60 5h2M91 5h1M98 5h1M110 5h1M116 5h1M119 5h1M124 5h1M127 5h1M138 5h1M28 6h4M67 6h1M76 6h1M93 6h1M97 6h1M99 6h1M101 6h1M107 6h1M110 6h2M114 6h1M118 6h1M128 6h2M136 6h2M177 6h1M24 7h1M51 7h1M92 7h1M96 7h1M99 7h1M109 7h1M113 7h1M177 7h1M34 8h1M37 8h1M59 8h1M69 8h1M72 8h3M92 8h1M99 8h2M146 8h1M175 8h1M177 8h1M34 9h1M50 9h1M57 9h1M82 9h3M95 9h1M99 9h1M150 9h1M166 9h2M175 9h1M177 9h1M6 10h1M34 10h1M46 10h1M49 10h1M76 10h1M80 10h1M150 10h1M164 10h1M180 10h1M3 11h1M46 11h1M48 11h1M64 11h1M147 11h2M153 11h1M162 11h1M33 12h1M42 12h1M46 12h1M48 12h1M55 12h1M63 12h1M157 12h2M177 12h1M2 13h1M4 13h1M43 13h1M46 13h1M48 13h1M54 13h1M160 13h2M175 13h1M177 13h1M31 14h1M41 14h1M161 14h1M176 14h2M31 15h1M53 15h1M161 15h1M177 15h1M180 15h1M183 15h1M2 16h1M52 16h1M183 16h1M186 16h1M7 17h1M22 17h2M181 17h3M21 18h1M173 18h1M178 18h2M183 18h1M189 18h2M6 19h1M20 19h1M24 19h1M32 19h1M179 19h1M187 19h1M14 20h1M26 20h4M174 20h1M187 20h1M4 21h1M9 21h1M14 21h1M179 21h1M196 21h1M14 22h1M179 22h1M187 22h1M195 22h1M8 23h1M14 23h1M179 23h1M189 23h5M195 23h1M12 24h1M196 24h1M6 25h1M11 25h2M14 25h1M196 25h1M4 26h2M1 27h1M126 39h1M105 41h1M99 43h1M115 43h1M122 43h1M135 43h1M102 44h1M61 45h1M64 45h1M70 45h2M76 45h1M92 45h1M99 45h1M108 45h1M168 45h1M53 46h1M67 46h1M196 46h1M9 47h1M17 47h1M18 48h1M24 48h1M112 61h1M115 61h14M138 61h3M147 61h1M149 61h1M167 61h1M172 61h1M182 61h1M16 62h1M29 62h2M69 62h1M102 62h2M106 62h1M133 62h1M137 62h1M152 62h1M180 62h2M197 62h1M0 63h1M2 63h2M10 63h1M29 63h3M36 63h1M68 63h1M97 63h1M130 63h1M132 63h1M158 63h1M179 63h1M4 64h2M12 64h1M28 64h2M52 64h1M85 64h1M94 64h1M114 64h1M131 64h1M154 64h1M157 64h1M163 64h1M173 64h1M193 64h1M196 64h1M4 65h2M15 65h1M23 65h1M28 65h2M50 65h1M85 65h1M96 65h1M110 65h1M114 65h1M131 65h1M156 65h1M162 65h2M194 65h2M4 66h1M28 66h2M40 66h1M85 66h1M162 66h2M3 67h2M41 67h1M45 67h2M49 67h1M42 68h1M47 68h1M49 68h1M131 68h1M43 69h2M48 69h1M60 69h2M113 69h1M60 70h2M112 70h2M131 71h1M170 71h2M169 72h1M169 73h1M114 74h1M44 75h1M53 75h1M86 75h1M114 75h1M170 75h1M16 76h1M19 76h2M34 76h1M43 76h2M52 76h2M85 76h1M113 76h2M172 76h1M182 76h1M14 77h1M19 77h2M52 77h1M113 77h1M184 77h1M14 78h1M17 78h1M19 78h2M50 78h2M113 78h1M17 79h1M50 79h1M183 79h3"/><path stroke="#0c0c0c" d="M18 0h3M43 0h1M63 0h1M109 0h1M113 0h1M154 0h1M181 0h1M184 0h1M193 0h1M27 1h1M43 1h1M52 1h1M112 1h1M154 1h1M161 1h1M186 1h1M195 1h1M17 2h1M41 2h1M43 2h1M52 2h1M67 2h1M88 2h1M121 2h1M161 2h1M15 3h1M41 3h1M49 3h1M51 3h1M88 3h1M91 3h1M109 3h1M111 3h1M120 3h1M147 3h1M154 3h1M44 4h1M51 4h1M110 4h1M122 4h1M147 4h1M23 5h1M27 5h2M42 5h1M46 5h1M51 5h1M67 5h1M76 5h2M115 5h1M130 5h1M134 5h1M139 5h3M152 5h1M23 6h2M43 6h1M47 6h1M49 6h1M51 6h1M92 6h1M98 6h1M102 6h2M117 6h1M119 6h1M127 6h1M152 6h1M44 7h1M48 7h1M89 7h1M101 7h1M112 7h1M146 7h1M152 7h1M176 7h1M5 8h2M35 8h1M45 8h1M58 8h1M67 8h1M70 8h2M75 8h1M98 8h1M108 8h1M113 8h1M152 8h1M176 8h1M4 9h1M6 9h1M37 9h1M46 9h1M49 9h1M73 9h1M91 9h1M94 9h1M98 9h1M146 9h1M176 9h1M181 9h1M48 10h1M60 10h1M81 10h1M95 10h1M98 10h2M146 10h1M165 10h1M168 10h1M175 10h1M5 11h1M34 11h1M56 11h1M76 11h4M146 11h1M149 11h2M163 11h1M169 11h1M180 11h1M3 12h2M61 12h1M156 12h1M162 12h1M183 12h1M32 13h1M37 13h1M162 13h3M183 13h1M2 14h1M37 14h1M43 14h1M46 14h1M48 14h1M160 14h1M162 14h3M180 14h1M183 14h1M2 15h2M37 15h1M162 15h3M189 15h2M37 16h1M44 16h1M181 16h2M185 16h1M171 17h1M184 17h1M186 17h1M189 17h2M8 18h1M22 18h2M32 18h1M9 19h1M17 19h1M21 19h1M33 19h1M178 19h1M6 20h1M9 20h1M30 20h1M177 20h1M179 20h1M5 21h1M175 21h1M4 22h1M8 22h1M184 22h1M186 22h1M196 22h2M7 23h1M183 23h1M188 23h1M197 23h1M4 24h1M6 24h3M15 24h1M181 24h1M194 24h1M197 24h1M4 25h2M9 25h1M15 25h1M195 25h1M12 26h2M197 26h1M0 27h1M2 27h3M111 39h1M110 40h1M98 43h1M101 43h1M110 43h1M114 43h1M145 43h1M162 43h1M124 44h1M172 44h1M75 45h1M84 45h1M112 45h1M162 45h2M180 45h1M180 46h1M11 47h2M26 47h1M195 47h1M8 48h1M30 48h1M39 48h1M56 61h4M63 61h1M70 61h16M99 61h1M148 61h1M158 61h1M180 61h2M197 61h1M3 62h2M6 62h1M9 62h1M21 62h1M37 62h1M40 62h1M45 62h1M55 62h1M60 62h2M97 62h1M101 62h1M104 62h2M108 62h1M112 62h1M114 62h1M134 62h1M158 62h1M179 62h1M196 62h1M4 63h2M11 63h1M28 63h1M32 63h2M35 63h1M40 63h1M45 63h2M54 63h1M109 63h1M114 63h1M131 63h1M135 63h2M153 63h1M173 63h1M196 63h1M26 64h2M40 64h1M45 64h2M51 64h1M91 64h1M95 64h2M155 64h1M174 64h1M13 65h2M40 65h1M45 65h2M49 65h1M90 65h1M41 66h1M45 66h3M49 66h1M89 66h1M42 67h1M44 67h1M47 67h1M111 67h1M43 68h2M48 68h1M86 68h1M88 68h1M113 68h1M87 69h1M131 69h1M131 70h1M172 73h1M15 76h1M183 76h1M182 77h1M184 78h1M182 79h1"/><path stroke="#0d0d0d" d="M14 0h1M52 0h1M60 0h1M161 0h1M182 0h2M186 0h1M17 1h1M109 1h1M146 1h1M194 1h1M27 2h2M49 2h1M51 2h1M92 2h2M109 2h1M111 2h1M143 2h1M154 2h1M16 3h1M28 3h1M43 3h1M50 3h1M67 3h1M121 3h1M27 4h2M42 4h1M50 4h1M60 4h1M67 4h1M77 4h1M88 4h1M120 4h1M44 5h2M50 5h1M85 5h1M93 5h1M126 5h1M142 5h1M151 5h1M104 6h1M123 6h1M135 6h1M138 6h1M146 6h1M49 7h1M97 7h2M107 7h1M110 7h2M114 7h1M118 7h1M129 7h1M137 7h1M36 8h1M48 8h3M96 8h1M109 8h1M5 9h1M35 9h1M48 9h1M59 9h1M68 9h1M72 9h1M74 9h2M90 9h1M92 9h2M96 9h1M100 9h1M152 9h1M4 10h1M37 10h1M47 10h1M75 10h1M82 10h3M96 10h2M151 10h2M166 10h1M176 10h1M182 10h1M4 11h1M37 11h1M47 11h1M80 11h1M95 11h4M151 11h2M164 11h1M175 11h2M37 12h1M47 12h1M146 12h1M154 12h2M163 12h2M169 12h1M175 12h2M180 12h1M3 13h1M42 13h1M47 13h1M55 13h1M63 13h1M176 13h1M180 13h1M3 14h1M54 14h1M169 14h1M41 15h1M43 15h1M46 15h1M48 15h3M43 16h1M45 16h1M51 16h1M53 16h1M161 16h1M189 16h2M37 17h1M40 17h1M52 17h1M7 18h1M15 18h2M37 18h2M184 18h1M186 18h1M22 19h2M34 19h1M19 20h2M25 20h1M31 20h4M178 20h1M6 21h1M8 21h1M177 21h1M184 21h1M186 21h1M6 22h2M185 22h1M4 23h1M6 23h1M15 23h1M187 23h1M196 23h1M5 24h1M179 24h2M193 24h1M7 25h1M6 26h1M10 26h2M14 26h1M196 26h1M5 27h1M12 27h2M1 28h1M102 36h1M117 37h1M130 37h1M116 38h1M126 38h1M98 42h1M139 42h1M97 43h1M108 43h1M133 43h1M147 43h1M80 44h1M123 44h1M100 45h1M115 45h1M129 45h1M167 45h1M169 45h1M26 48h1M159 60h7M169 60h4M182 60h8M7 61h2M16 61h5M29 61h1M37 61h4M62 61h1M69 61h1M98 61h1M100 61h1M111 61h1M113 61h2M129 61h1M133 61h1M137 61h1M152 61h1M179 61h1M191 61h1M0 62h3M5 62h1M28 62h1M31 62h1M36 62h1M46 62h1M65 62h4M111 62h1M113 62h1M130 62h1M132 62h1M173 62h1M12 63h1M27 63h1M34 63h1M44 63h1M53 63h1M92 63h2M96 63h1M112 63h2M157 63h1M175 63h2M178 63h1M15 64h1M22 64h1M24 64h2M44 64h1M47 64h1M50 64h1M110 64h1M156 64h1M194 64h2M44 65h1M47 65h2M42 66h1M44 66h1M48 66h1M111 66h1M43 67h1M48 67h1M113 67h1M112 69h1M170 72h2M170 74h1M172 74h1M171 75h2M16 77h1M183 77h1M182 78h2"/><path stroke="#0e0e0e" d="M42 0h1M110 0h3M185 0h1M195 0h1M42 1h1M49 1h1M51 1h1M111 1h1M50 2h1M27 3h1M42 3h1M62 3h1M87 3h1M92 3h2M110 3h1M143 3h1M43 4h1M61 4h1M92 4h2M43 5h1M92 5h1M105 5h2M122 5h1M125 5h1M133 5h1M44 6h3M50 6h1M85 6h1M115 6h2M139 6h3M151 6h1M45 7h1M47 7h1M50 7h1M102 7h2M117 7h1M119 7h1M127 7h2M136 7h1M138 7h1M141 7h1M151 7h1M46 8h2M89 8h1M97 8h1M101 8h1M107 8h1M112 8h1M137 8h5M151 8h1M47 9h1M58 9h1M66 9h1M69 9h1M71 9h1M97 9h1M113 9h1M139 9h2M151 9h1M5 10h1M35 10h1M57 10h1M65 10h1M73 10h2M124 10h1M167 10h1M60 11h1M75 11h1M81 11h1M124 11h1M165 11h1M34 12h1M64 12h1M79 12h1M96 12h1M145 12h1M147 12h1M150 12h4M33 13h1M62 13h1M159 13h1M165 13h1M169 13h1M32 14h1M47 14h1M165 14h1M47 15h1M160 15h1M165 15h1M169 15h1M181 15h2M46 16h1M162 16h1M165 16h1M32 17h1M43 17h1M170 17h1M185 17h1M36 18h1M172 18h1M7 19h2M35 19h3M173 19h1M184 19h1M186 19h1M7 20h2M18 20h1M21 20h1M24 20h1M35 20h1M184 20h1M186 20h1M7 21h1M15 21h1M27 21h2M178 21h1M185 21h1M5 22h1M15 22h1M176 22h1M5 23h1M184 23h1M182 24h1M188 24h5M8 25h1M194 25h1M7 26h1M195 26h1M197 27h1M0 28h1M2 28h3M126 40h1M91 42h1M134 43h1M146 43h1M81 44h1M62 45h1M94 45h1M101 45h1M107 45h1M118 45h1M161 45h1M183 45h1M20 47h1M194 47h1M21 48h1M25 48h1M138 60h9M150 60h2M158 60h1M180 60h2M190 60h1M3 61h2M9 61h1M30 61h1M45 61h2M64 61h1M101 61h2M107 61h1M134 61h1M173 61h1M196 61h1M10 62h3M15 62h1M32 62h2M35 62h1M44 62h1M96 62h1M131 62h1M135 62h1M153 62h1M157 62h1M174 62h2M192 62h1M15 63h1M47 63h1M52 63h1M94 63h2M111 63h1M154 63h1M174 63h1M177 63h1M193 63h1M195 63h1M13 64h1M23 64h1M41 64h1M48 64h2M90 64h1M112 64h2M41 65h1M43 65h1M89 65h1M111 65h1M113 65h1M43 66h1M113 66h1M88 67h1M87 68h1M112 68h1M170 73h2M171 74h1M15 77h1M15 78h2M15 79h2"/><path stroke="#0f0f0f" d="M17 0h1M49 0h1M51 0h1M194 0h1M50 1h1M110 1h1M144 1h2M15 2h2M42 2h1M110 2h1M60 3h1M86 4h1M121 4h1M143 4h1M88 5h1M120 5h1M131 5h2M143 5h1M146 5h1M124 6h1M126 6h1M130 6h1M134 6h1M142 6h1M46 7h1M85 7h1M135 7h1M139 7h2M142 7h1M145 7h1M85 8h1M110 8h2M36 9h1M70 9h1M85 9h1M108 9h2M124 9h1M138 9h1M141 9h1M59 10h1M94 10h1M123 10h1M125 10h1M139 10h1M181 10h1M35 11h1M73 11h2M82 11h3M99 11h1M123 11h1M125 11h1M145 11h1M75 12h2M80 12h1M97 12h1M124 12h1M144 12h1M165 12h1M64 13h1M156 13h1M42 14h1M54 15h1M166 15h1M32 16h1M41 16h1M47 16h3M163 16h2M166 16h4M36 17h1M44 17h2M53 17h1M166 17h2M33 18h1M39 18h1M166 18h2M185 18h1M15 19h2M15 20h1M17 20h1M22 20h2M36 20h1M185 20h1M20 21h2M29 21h2M33 21h2M174 21h1M178 22h1M185 23h2M187 24h1M15 26h1M6 27h1M11 27h1M14 27h1M196 27h1M138 40h1M90 41h1M98 41h1M139 41h1M125 42h1M100 43h1M103 43h1M79 44h1M82 44h1M100 44h2M59 45h1M93 45h1M102 45h2M113 45h2M122 45h1M128 45h1M130 45h1M21 47h1M111 60h3M115 60h14M147 60h1M149 60h1M166 60h1M168 60h1M173 60h1M175 60h1M179 60h1M197 60h1M5 61h2M15 61h1M21 61h1M28 61h1M31 61h1M36 61h1M41 61h1M55 61h1M68 61h1M86 61h1M97 61h1M103 61h1M106 61h1M132 61h1M157 61h1M174 61h2M13 62h1M34 62h1M41 62h1M47 62h1M54 62h1M86 62h1M95 62h1M109 62h2M136 62h1M176 62h1M178 62h1M195 62h1M13 63h1M22 63h1M26 63h1M41 63h1M86 63h1M91 63h1M110 63h1M155 63h2M194 63h1M14 64h1M43 64h1M111 64h1M42 65h1M112 65h1M86 66h3M112 66h1M86 67h2M112 67h1"/><path stroke="#101010" d="M50 0h1M62 0h1M60 1h1M62 2h1M122 6h1M143 6h1M145 6h1M116 7h1M123 7h1M102 8h1M114 8h1M118 8h1M123 8h1M126 8h4M136 8h1M142 8h1M145 8h1M67 9h1M89 9h1M101 9h1M107 9h1M112 9h1M123 9h1M125 9h1M137 9h1M142 9h1M145 9h1M36 10h1M58 10h1M72 10h1M85 10h1M100 10h1M109 10h1M138 10h1M145 10h1M166 11h1M168 11h1M35 12h1M56 12h1M60 12h1M74 12h1M77 12h2M95 12h1M98 12h1M125 12h1M148 12h2M34 13h1M61 13h1M145 13h1M157 13h2M36 14h1M55 14h1M63 14h1M166 14h1M181 14h1M32 15h1M36 15h1M167 15h2M36 16h1M50 16h1M160 16h1M46 17h1M165 17h1M168 17h2M35 18h1M171 18h1M38 19h1M166 19h2M185 19h1M16 20h1M37 20h1M16 21h1M19 21h1M26 21h1M32 21h1M35 21h1M16 22h1M20 22h1M175 22h1M177 22h1M16 23h1M178 23h1M16 24h1M180 25h1M193 25h1M9 26h1M7 27h1M5 28h1M12 28h2M0 29h2M124 36h1M115 42h1M134 42h1M137 42h1M142 42h1M116 43h1M90 44h1M63 45h1M104 45h3M121 45h1M131 45h2M164 45h1M74 46h1M194 46h1M196 47h1M72 60h8M82 60h4M114 60h1M133 60h2M137 60h1M148 60h1M152 60h1M167 60h1M174 60h1M0 61h1M2 61h1M10 61h1M12 61h3M32 61h1M35 61h1M42 61h1M44 61h1M60 61h2M65 61h3M96 61h1M104 61h2M108 61h1M110 61h1M130 61h1M135 61h2M176 61h1M178 61h1M195 61h1M14 62h1M27 62h1M42 62h2M53 62h1M92 62h3M154 62h1M156 62h1M177 62h1M14 63h1M25 63h1M42 63h2M48 63h2M51 63h1M42 64h1M86 64h1M86 65h3"/><path stroke="#111111" d="M61 0h1M16 1h1M62 1h1M60 2h1M146 2h1M61 3h1M87 4h1M121 5h1M144 5h1M120 6h1M125 6h1M133 6h1M144 6h1M115 7h1M124 7h1M126 7h1M130 7h1M134 7h1M143 7h1M103 8h1M117 8h1M119 8h1M124 8h1M135 8h1M110 9h2M126 9h4M136 9h1M68 10h2M71 10h1M90 10h2M93 10h1M108 10h1M112 10h2M126 10h1M140 10h1M142 10h1M36 11h1M59 11h1M126 11h1M144 11h1M167 11h1M182 11h1M36 12h1M81 12h1M84 12h1M166 12h1M35 13h2M144 13h1M146 13h1M154 13h2M166 13h1M33 14h1M62 14h1M159 14h1M168 14h1M182 14h1M42 15h1M42 16h1M54 16h1M41 17h2M48 17h1M51 17h1M34 18h1M43 18h1M52 18h1M165 18h1M168 18h1M173 20h1M22 21h2M36 21h1M21 22h1M183 24h1M186 24h1M179 25h1M181 25h1M189 25h4M8 26h1M194 26h1M195 27h1M14 28h1M197 28h1M2 29h1M113 37h1M107 39h1M82 40h1M137 40h1M140 40h1M138 41h1M93 43h1M102 43h1M113 43h1M119 45h1M123 45h1M166 45h1M170 45h1M41 46h1M52 46h1M73 46h1M75 46h1M18 47h2M180 59h1M182 59h5M37 60h5M56 60h3M70 60h2M80 60h1M99 60h3M110 60h1M129 60h1M157 60h1M176 60h1M191 60h1M196 60h1M1 61h1M11 61h1M33 61h2M43 61h1M47 61h1M95 61h1M109 61h1M131 61h1M153 61h1M177 61h1M192 61h1M22 62h1M155 62h1M193 62h2M23 63h2M50 63h1M90 63h1M87 64h3"/><path stroke="#121212" d="M15 1h1M144 2h1M146 3h1M144 4h1M146 4h1M145 5h1M88 6h1M106 6h1M122 7h1M144 7h1M125 8h1M130 8h1M143 8h2M114 9h1M135 9h1M143 9h1M70 10h1M89 10h1M92 10h1M127 10h3M137 10h1M141 10h1M143 10h2M57 11h1M65 11h1M72 11h1M85 11h1M94 11h1M109 11h1M113 11h1M127 11h2M139 11h1M143 11h1M181 11h1M73 12h1M82 12h2M123 12h1M126 12h1M143 12h1M168 12h1M151 13h3M168 13h1M181 13h2M35 14h1M64 14h1M167 14h1M33 17h1M35 17h1M47 17h1M49 17h1M164 17h1M40 18h1M42 18h1M44 18h2M170 18h1M172 19h1M17 21h2M24 21h2M31 21h1M19 22h1M27 22h1M176 23h2M178 24h1M184 24h2M16 25h1M188 25h1M10 27h1M15 27h1M6 28h1M11 28h1M196 28h1M3 29h2M103 36h1M106 36h1M60 40h1M89 40h1M137 41h1M143 42h1M150 42h2M92 43h1M105 43h1M111 43h1M121 43h1M78 44h1M120 45h1M133 45h1M155 45h2M160 45h1M179 46h1M183 46h1M188 46h1M31 48h1M33 48h1M37 48h1M164 59h2M170 59h5M181 59h1M187 59h3M3 60h2M7 60h3M13 60h8M29 60h2M42 60h1M45 60h2M59 60h1M63 60h1M69 60h1M81 60h1M98 60h1M102 60h1M135 60h2M178 60h1M94 61h1M154 61h1M156 61h1M26 62h1M48 62h1M52 62h1M91 62h1M87 63h3"/><path stroke="#131313" d="M16 0h1M61 1h1M61 2h1M145 2h1M144 3h1M105 6h1M121 6h1M131 6h2M104 7h1M120 7h1M125 7h1M133 7h1M115 8h2M122 8h1M134 8h1M102 9h1M134 9h1M144 9h1M66 10h1M107 10h1M110 10h2M114 10h1M135 10h2M58 11h1M68 11h2M71 11h1M100 11h1M108 11h1M110 11h1M112 11h1M138 11h1M140 11h1M142 11h1M99 12h1M109 12h2M113 12h1M127 12h1M167 12h1M181 12h2M60 13h1M75 13h1M79 13h2M96 13h1M147 13h1M150 13h1M167 13h1M34 14h1M61 14h1M35 15h1M55 15h1M35 16h1M50 17h1M161 17h3M41 18h1M53 18h1M169 18h1M42 19h1M168 19h1M37 21h1M17 22h1M28 22h2M33 22h2M17 23h1M19 23h1M193 26h1M8 27h1M7 28h1M5 29h1M13 29h1M0 30h2M99 36h1M105 36h1M114 36h1M106 37h1M141 40h1M110 41h1M116 42h1M144 42h1M107 43h1M83 44h1M85 44h1M124 45h1M138 45h7M154 45h1M157 45h3M165 45h1M68 46h1M72 46h1M22 47h1M39 47h1M197 47h1M32 48h1M158 59h6M169 59h1M175 59h1M179 59h1M190 59h1M36 60h1M62 60h1M64 60h1M68 60h1M86 60h1M96 60h2M103 60h1M106 60h2M132 60h1M153 60h1M177 60h1M195 60h1M27 61h1M54 61h1M93 61h1M155 61h1M193 61h2M25 62h1M49 62h1M87 62h1"/><path stroke="#141414" d="M15 0h1M145 4h1M86 5h1M88 7h1M118 9h1M122 9h1M130 9h1M67 10h1M101 10h1M122 10h1M134 10h1M70 11h1M111 11h1M114 11h1M122 11h1M141 11h1M59 12h1M65 12h1M68 12h1M72 12h1M85 12h1M111 12h2M114 12h1M128 12h1M56 13h1M74 13h1M76 13h1M84 13h1M109 13h2M124 13h2M143 13h1M156 14h1M33 15h1M63 15h1M159 15h1M33 16h1M34 17h1M54 17h1M46 18h1M51 18h1M39 19h1M165 19h1M171 19h1M18 22h1M22 22h1M35 22h1M20 23h1M17 24h1M182 25h1M187 25h1M192 26h1M9 27h1M194 27h1M195 28h1M12 29h1M197 29h1M99 42h1M117 42h1M128 42h1M140 42h1M84 43h1M94 43h1M96 43h1M106 43h1M112 43h1M117 43h1M84 44h1M175 44h1M134 45h1M145 45h1M150 45h1M177 45h1M71 46h1M76 46h1M49 47h1M138 59h9M150 59h2M176 59h1M197 59h1M2 60h1M5 60h2M12 60h1M21 60h1M28 60h1M31 60h1M35 60h1M43 60h2M47 60h1M55 60h1M65 60h3M95 60h1M104 60h2M108 60h2M130 60h1M156 60h1M192 60h1M22 61h1M48 61h1M87 61h1M92 61h1M23 62h2M50 62h2M88 62h3"/><path stroke="#151515" d="M145 3h1M87 5h1M106 7h1M121 7h1M131 7h2M120 8h1M133 8h1M103 9h1M115 9h1M117 9h1M119 9h1M133 9h1M129 11h1M135 11h1M137 11h1M69 12h1M94 12h1M108 12h1M139 12h1M142 12h1M65 13h1M68 13h1M77 13h2M81 13h3M95 13h1M97 13h1M126 13h1M149 13h1M144 14h2M34 15h1M62 15h1M34 16h1M160 17h1M47 18h3M43 19h1M169 19h2M38 20h1M172 20h1M173 21h1M23 22h1M26 22h1M30 22h1M36 22h1M174 22h1M18 23h1M21 23h1M186 25h1M16 26h1M189 26h3M6 29h1M11 29h1M196 29h1M2 30h1M126 37h1M89 39h1M141 41h1M93 42h1M124 42h1M127 42h1M129 42h1M141 42h1M91 43h1M163 43h1M86 44h1M125 45h1M127 45h1M149 45h1M151 45h1M153 45h1M178 45h2M40 46h1M69 46h2M178 46h1M13 48h1M17 48h1M120 59h9M134 59h1M137 59h1M147 59h1M149 59h1M157 59h1M166 59h1M178 59h1M191 59h1M0 60h2M10 60h2M32 60h3M60 60h2M131 60h1M154 60h2M194 60h1M53 61h1"/><path stroke="#161616" d="M88 8h1M106 8h1M121 8h1M131 8h2M116 9h1M130 10h1M133 10h1M93 11h1M107 11h1M134 11h1M136 11h1M57 12h2M70 12h2M138 12h1M140 12h1M108 13h1M111 13h4M127 13h2M148 13h1M60 14h1M65 14h1M152 14h4M157 14h2M61 15h1M64 15h1M55 16h1M50 18h1M164 18h1M41 19h1M44 19h2M52 19h1M166 20h2M24 22h1M32 22h1M175 23h1M18 24h1M177 24h1M17 25h1M185 25h1M8 28h1M10 28h1M7 29h1M14 29h1M197 30h1M0 31h1M104 36h1M112 37h1M106 38h1M116 39h1M135 39h1M105 40h1M135 40h1M115 41h1M94 42h1M97 42h1M103 42h1M109 42h1M130 42h1M148 42h2M87 43h1M137 45h1M152 45h1M171 45h1M176 45h1M177 46h1M25 47h1M34 48h1M111 59h9M133 59h1M135 59h2M148 59h1M152 59h1M167 59h2M177 59h1M196 59h1M94 60h1M193 60h1M23 61h4M49 61h1M52 61h1M91 61h1"/><path stroke="#171717" d="M86 6h1M104 8h1M88 9h1M106 9h1M120 9h2M131 9h2M102 10h1M115 10h1M66 11h2M89 11h3M115 11h1M100 12h1M122 12h1M134 12h2M137 12h1M141 12h1M59 13h1M69 13h1M73 13h1M98 13h1M123 13h1M138 13h1M68 14h1M109 14h1M146 14h1M151 14h1M159 16h1M40 19h1M42 20h1M168 20h1M171 20h1M25 22h1M37 22h1M22 23h1M27 23h2M19 24h1M178 25h1M183 25h1M179 26h2M188 26h1M193 27h1M15 28h1M194 28h1M195 29h1M3 30h3M1 31h1M117 36h1M67 39h1M61 40h1M140 41h1M149 41h1M95 42h1M104 42h1M126 42h1M136 42h1M86 43h1M95 43h1M126 45h1M135 45h1M146 45h1M148 45h1M82 46h1M191 46h1M8 47h1M100 59h1M110 59h1M48 60h1M87 60h1M50 61h2M88 61h3"/><path stroke="#181818" d="M105 7h1M106 10h1M118 10h2M121 10h1M92 11h1M133 11h1M67 12h1M107 12h1M115 12h1M129 12h1M136 12h1M67 13h1M70 13h2M137 13h1M142 13h1M56 14h1M67 14h1M137 14h2M143 14h1M150 14h1M54 18h1M172 21h1M29 23h1M33 23h2M20 24h1M176 24h1M18 25h1M184 25h1M181 26h1M189 27h1M192 27h1M9 28h1M6 30h1M12 30h2M196 30h1M130 34h1M99 35h1M122 37h1M139 40h1M83 42h1M92 42h1M96 42h1M102 42h1M105 42h1M114 42h1M131 42h1M133 42h1M145 42h1M118 43h1M136 45h1M147 45h1M175 45h1M83 46h1M40 48h1M77 59h2M83 59h3M99 59h1M101 59h1M129 59h1M156 59h1M192 59h1M195 59h1M22 60h1M27 60h1M54 60h1M93 60h1"/><path stroke="#191919" d="M87 6h1M104 9h1M88 10h1M116 10h2M120 10h1M131 10h2M101 11h1M106 11h1M121 11h1M66 12h1M66 13h1M72 13h1M85 13h1M94 13h1M115 13h1M136 13h1M139 13h1M69 14h1M75 14h1M79 14h1M108 14h1M110 14h1M60 15h1M156 15h1M62 16h1M163 18h1M46 19h1M48 19h2M51 19h1M53 19h1M169 20h2M31 22h1M23 23h1M35 23h1M21 24h1M17 26h1M187 26h1M190 27h1M8 29h1M10 29h1M7 30h1M195 30h1M2 31h1M197 31h1M0 32h1M108 38h1M98 40h1M106 40h1M118 41h1M106 42h1M118 42h1M132 42h1M69 44h1M87 44h1M84 46h4M90 46h2M97 46h2M23 47h1M48 47h1M181 58h5M56 59h3M71 59h6M79 59h1M82 59h1M96 59h1M102 59h1M132 59h1M153 59h3M194 59h1M23 60h1M49 60h1M53 60h1"/><path stroke="#1a1a1a" d="M86 7h1M86 8h1M105 8h1M103 10h1M130 11h1M93 12h1M133 12h1M57 13h2M99 13h1M107 13h1M134 13h2M59 14h1M66 14h1M74 14h1M76 14h1M80 14h1M83 14h2M147 14h1M56 15h1M137 15h2M152 15h2M158 15h1M61 16h1M63 16h1M55 17h1M47 19h1M50 19h1M41 20h1M43 20h1M165 20h1M38 21h1M171 21h1M173 22h1M24 23h1M26 23h1M36 23h1M16 27h1M188 27h1M193 28h1M194 29h1M11 30h1M196 31h1M115 35h1M72 36h1M99 37h1M66 40h1M109 41h1M112 42h2M123 42h1M135 42h1M85 43h1M120 43h1M56 44h1M77 44h1M58 45h1M51 46h1M77 46h1M81 46h1M92 46h1M94 46h3M99 46h1M101 46h5M111 46h4M184 46h1M187 46h1M45 47h1M50 47h1M56 47h1M179 58h2M186 58h1M188 58h2M2 59h3M7 59h3M13 59h8M36 59h8M45 59h2M63 59h1M70 59h1M86 59h1M95 59h1M97 59h2M103 59h7M193 59h1M24 60h3M92 60h1"/><path stroke="#1b1b1b" d="M87 7h1M86 9h1M105 9h1M86 10h1M116 11h1M132 11h1M129 13h1M140 13h2M70 14h1M81 14h2M111 14h1M113 14h3M125 14h1M136 14h1M139 14h1M142 14h1M149 14h1M65 15h1M67 15h2M144 15h1M154 15h2M157 15h1M159 17h1M160 18h3M164 19h1M39 20h1M44 20h2M25 23h1M174 23h1M186 26h1M191 27h1M189 28h1M9 29h1M8 30h1M10 30h1M3 31h1M12 31h1M195 31h1M100 34h1M101 35h1M117 35h1M128 35h1M101 36h1M107 36h1M130 36h1M82 37h1M112 38h1M56 39h1M59 40h1M114 41h1M117 41h1M126 41h1M100 42h2M107 42h1M110 42h2M90 43h1M174 45h1M184 45h1M89 46h1M93 46h1M100 46h1M106 46h3M110 46h1M115 46h2M176 46h1M34 47h1M54 47h2M187 47h1M193 47h1M161 58h5M170 58h6M187 58h1M190 58h1M197 58h1M1 59h1M5 59h2M12 59h1M29 59h2M35 59h1M44 59h1M47 59h1M59 59h1M62 59h1M64 59h1M69 59h1M80 59h1M130 59h1M50 60h3M88 60h4"/><path stroke="#1c1c1c" d="M87 8h1M104 10h2M86 11h1M88 11h1M119 11h2M131 11h1M106 12h1M116 12h1M121 12h1M122 13h1M77 14h2M112 14h1M126 14h3M145 15h1M151 15h1M56 16h1M172 22h1M30 23h1M22 24h1M27 24h2M19 25h1M177 25h1M18 26h1M182 26h1M4 31h4M1 32h1M100 35h1M116 35h1M118 36h1M127 36h1M105 37h1M111 38h1M108 39h1M109 40h1M111 40h4M118 40h1M136 40h1M95 41h1M106 41h1M113 41h1M150 41h1M83 43h1M119 43h1M89 44h1M172 45h2M80 46h1M88 46h1M109 46h1M117 46h1M24 47h1M57 47h1M35 48h2M48 48h1M158 58h3M169 58h1M0 59h1M10 59h1M21 59h1M28 59h1M31 59h1M34 59h1M55 59h1M65 59h4M81 59h1M94 59h1M131 59h1"/><path stroke="#1d1d1d" d="M87 9h1M102 11h1M117 11h2M89 12h2M101 12h1M130 12h1M100 13h1M116 13h1M57 14h1M73 14h1M124 14h1M135 14h1M148 14h1M66 15h1M60 16h1M64 16h1M40 20h1M49 20h1M52 20h1M42 21h1M170 21h1M37 23h1M29 24h1M175 24h1M178 26h1M188 28h1M190 28h1M192 28h1M9 30h1M14 30h1M194 30h1M13 31h1M197 32h1M0 33h1M123 37h1M113 38h2M101 39h1M113 39h2M101 40h1M107 40h2M115 40h1M117 40h1M94 41h1M107 41h1M112 41h1M116 41h1M119 41h1M108 42h1M122 46h2M132 46h3M138 46h5M53 47h1M64 47h1M157 58h1M176 58h1M178 58h1M191 58h1M11 59h1M32 59h2M48 59h1M60 59h2"/><path stroke="#1e1e1e" d="M87 10h1M105 11h1M86 12h1M91 12h2M132 12h1M93 13h1M133 13h1M58 14h1M71 14h1M95 14h2M107 14h1M140 14h1M59 15h1M69 15h1M108 15h1M136 15h1M139 15h1M143 15h1M146 15h1M152 16h2M156 16h1M158 16h1M56 17h1M46 20h1M48 20h1M168 21h2M171 22h1M32 23h1M23 24h2M26 24h1M20 25h1M185 26h1M187 27h1M193 29h1M8 31h1M194 31h1M2 32h1M99 34h1M114 37h1M89 38h1M101 38h1M112 39h1M115 39h1M95 40h1M100 40h1M91 41h1M93 41h1M96 41h1M99 41h3M104 41h1M108 41h1M111 41h1M146 42h1M152 42h1M82 43h1M78 46h1M124 46h1M131 46h1M143 46h3M154 46h4M185 46h2M4 47h1M51 47h2M47 48h1M166 58h1M177 58h1M196 58h1M87 59h1"/><path stroke="#1f1f1f" d="M103 11h1M119 12h2M72 14h1M94 14h1M116 14h1M134 14h1M141 14h1M109 15h1M142 15h1M150 15h1M154 16h1M61 17h1M55 18h1M54 19h1M47 20h1M50 20h2M41 21h1M45 21h1M167 21h1M25 24h1M33 24h2M21 25h1M176 25h1M17 27h1M15 29h1M189 29h1M11 31h1M7 32h1M12 32h1M195 32h1M129 34h1M101 37h2M102 38h1M115 38h1M100 39h1M105 39h1M110 39h1M94 40h1M99 40h1M116 40h1M119 40h1M68 41h1M92 41h1M97 41h1M102 41h2M136 41h1M84 42h1M119 42h1M88 43h1M164 43h1M79 46h1M121 46h1M125 46h1M129 46h2M137 46h1M150 46h2M153 46h1M158 46h6M58 47h1M63 47h1M186 47h1M149 58h3M167 58h2M192 58h1M22 59h1M27 59h1M49 59h1M54 59h1M93 59h1"/><path stroke="#202020" d="M87 11h1M104 11h1M117 12h2M131 12h1M106 13h1M85 14h1M123 14h1M57 15h1M70 15h1M115 15h1M155 16h1M157 16h1M62 17h1M159 18h1M43 21h2M166 21h1M38 22h1M35 24h1M183 26h2M191 28h1M188 29h1M3 32h1M6 32h1M8 32h1M194 32h1M196 32h1M1 33h1M129 35h1M108 37h1M98 39h2M102 39h1M109 39h1M118 39h1M54 40h1M90 40h2M93 40h1M96 40h2M102 40h1M104 40h1M83 41h1M127 41h1M134 41h1M144 41h1M151 41h1M82 42h1M87 42h1M90 42h1M122 42h1M68 44h1M88 44h1M50 46h1M118 46h1M128 46h1M135 46h1M146 46h1M149 46h1M152 46h1M170 46h1M3 47h1M65 47h1M134 58h15M156 58h1M193 58h3M23 59h2M50 59h1"/><path stroke="#212121" d="M88 12h1M105 12h1M121 13h1M130 13h1M97 14h1M129 14h1M58 15h1M59 16h1M137 16h1M60 17h1M163 19h1M53 20h1M39 21h1M46 21h1M31 23h1M173 23h1M36 24h1M22 25h1M26 25h4M19 26h1M18 27h1M180 27h1M16 28h1M9 31h2M4 32h2M13 32h1M194 33h1M106 34h1M115 34h1M102 35h1M106 35h1M115 36h1M110 37h2M116 37h1M99 38h2M105 38h1M109 38h2M91 39h1M95 39h1M97 39h1M117 39h1M119 39h1M92 40h1M103 40h1M82 41h1M89 41h1M128 41h1M130 41h1M135 41h1M142 41h2M85 42h2M147 42h1M161 42h1M89 43h1M67 44h1M76 44h1M42 46h1M126 46h2M136 46h1M148 46h1M169 46h1M175 46h1M38 47h1M47 47h1M11 49h1M13 49h1M125 58h4M133 58h1M152 58h1M155 58h1M25 59h2M51 59h3M88 59h1M92 59h1"/><path stroke="#222222" d="M102 12h1M86 13h1M101 13h1M117 13h1M119 13h2M132 13h1M75 15h1M114 15h1M116 15h1M135 15h1M140 15h2M57 16h1M65 16h1M67 16h1M138 16h1M151 16h1M158 17h1M164 20h1M47 21h1M172 23h1M174 24h1M23 25h1M179 27h1M181 27h1M187 28h1M190 29h1M192 29h1M188 30h1M193 30h1M100 33h1M0 34h1M107 34h1M107 35h1M114 35h1M148 35h1M111 36h1M113 36h1M103 37h2M115 37h1M98 38h1M103 38h1M117 38h3M93 39h2M96 39h1M103 39h1M141 39h1M127 40h2M84 41h1M86 41h2M129 41h1M131 41h1M168 43h1M57 44h1M66 44h1M119 46h2M147 46h1M164 46h1M171 46h1M46 47h1M62 47h1M10 49h1M12 49h1M14 49h1M121 58h4M154 58h1M89 59h3"/><path stroke="#232323" d="M87 12h1M89 13h1M92 13h1M118 13h1M93 14h1M133 14h1M76 15h1M79 15h1M83 15h1M110 15h1M147 15h1M58 16h1M66 16h1M153 17h2M56 18h1M40 21h1M48 21h1M165 21h1M42 22h1M45 22h1M170 22h1M30 24h1M37 24h1M24 25h2M175 25h1M177 26h1M186 27h1M14 31h1M110 31h1M11 32h1M2 33h1M7 33h1M12 33h1M132 33h1M197 33h1M103 35h1M105 35h1M110 35h1M124 35h1M108 36h1M110 36h1M100 37h1M109 37h1M118 37h1M94 38h4M130 38h1M90 39h1M92 39h1M104 39h1M121 39h1M128 39h2M129 40h1M85 41h1M125 41h1M132 41h1M145 41h1M74 42h1M155 42h1M81 43h1M169 43h2M65 44h1M73 44h2M54 45h1M59 47h1M16 48h1M110 58h5M129 58h1M153 58h1"/><path stroke="#242424" d="M103 12h2M90 13h2M131 13h1M98 14h1M117 14h1M122 14h1M71 15h1M74 15h1M80 15h1M82 15h1M149 15h1M68 16h1M136 16h1M144 16h2M57 17h1M59 17h1M63 17h1M152 17h1M155 17h1M160 19h1M162 19h1M49 21h1M46 22h1M38 23h1M171 23h1M191 29h1M9 32h1M3 33h4M8 33h1M106 33h1M195 33h1M105 34h1M110 34h2M108 35h1M111 35h1M100 36h1M109 36h1M112 36h1M125 36h1M89 37h1M93 37h1M98 37h1M91 38h1M93 38h1M104 38h1M129 38h1M55 39h1M127 39h1M130 39h1M140 39h1M58 40h1M86 40h2M121 40h1M130 40h2M144 40h1M120 41h1M124 41h1M133 41h1M73 42h1M77 42h1M121 42h1M74 43h1M75 44h1M165 46h1M168 46h1M60 47h2M100 58h2M115 58h1M120 58h1"/><path stroke="#252525" d="M77 15h1M81 15h1M84 15h1M107 15h1M111 15h1M113 15h1M134 15h1M148 15h1M139 16h1M156 17h2M55 19h1M161 19h1M41 22h1M20 26h1M26 26h1M178 27h1M187 29h1M189 30h1M109 31h1M193 31h1M13 33h1M107 33h1M110 33h2M1 34h1M102 34h1M108 34h2M67 35h1M104 35h1M109 35h1M118 35h1M125 35h1M130 35h1M89 36h1M116 36h1M123 36h1M94 37h1M96 37h2M119 37h1M92 38h1M122 38h1M128 38h1M131 39h2M139 39h1M78 40h1M85 40h1M125 40h1M132 40h2M145 40h1M77 41h2M156 41h1M75 42h1M78 42h1M120 42h1M53 43h1M64 43h1M73 43h1M75 43h1M77 43h2M72 44h1M182 44h1M49 46h1M166 46h2M66 47h1M41 48h1M96 58h1M99 58h1M105 58h2M109 58h1M116 58h2M132 58h1"/><path stroke="#262626" d="M105 13h1M99 14h2M106 14h1M118 14h1M72 15h1M78 15h1M112 15h1M69 16h1M141 16h3M58 17h1M159 19h1M50 21h1M47 22h1M169 22h1M32 24h1M27 26h2M176 26h1M19 27h1M17 28h1M10 32h1M11 33h1M88 33h1M105 33h1M124 33h1M103 34h1M194 34h1M92 36h2M91 37h2M95 37h1M124 37h2M129 37h1M78 38h1M125 38h1M127 38h1M131 38h1M66 39h1M78 39h1M82 39h1M87 39h1M124 39h2M133 39h1M157 39h1M77 40h1M83 40h2M120 40h1M124 40h1M134 40h1M74 41h1M88 41h1M121 41h1M76 42h1M81 42h1M63 43h1M69 43h1M76 43h1M80 43h1M64 44h1M70 44h1M174 46h1M37 47h1M46 48h1M197 57h1M84 58h1M97 58h1M102 58h1M104 58h1M107 58h2M118 58h2M130 58h1"/><path stroke="#272727" d="M87 13h2M102 13h1M119 14h1M130 14h1M132 14h1M73 15h1M126 15h3M140 16h1M150 16h1M57 18h1M60 18h1M158 18h1M51 21h2M39 22h1M43 22h2M168 22h1M34 25h1M25 26h1M29 26h1M182 27h1M185 27h1M111 31h1M188 31h1M110 32h2M9 33h1M109 33h1M196 33h1M101 34h1M104 34h1M83 35h1M93 35h1M112 35h1M82 36h1M98 36h1M119 36h1M78 37h1M128 37h1M90 38h1M120 38h2M124 38h1M61 39h1M77 39h1M86 39h1M120 39h1M138 39h1M144 39h1M88 40h1M142 40h2M65 41h1M73 41h1M75 41h2M123 41h1M88 42h2M79 43h1M63 44h1M71 44h1M39 46h1M172 46h1M192 46h1M69 47h3M90 47h2M94 47h3M14 48h1M183 57h3M189 57h2M7 58h3M18 58h3M83 58h1M85 58h1M95 58h1M98 58h1M103 58h1M131 58h1"/><path stroke="#282828" d="M92 14h1M120 14h2M131 14h1M117 15h1M125 15h1M70 16h1M115 16h1M64 17h1M151 17h1M59 18h1M61 18h1M54 20h1M40 22h1M38 24h1M173 24h1M33 25h1M35 25h1M174 25h1M21 26h4M18 28h1M15 30h1M187 30h1M192 30h1M98 32h1M106 32h2M193 32h1M99 33h1M108 33h1M114 33h2M128 33h1M2 34h1M5 34h3M12 34h2M114 34h1M0 35h1M92 35h1M78 36h1M91 36h1M94 36h1M96 36h2M79 37h1M120 37h1M79 38h1M87 38h1M132 38h1M135 38h1M73 39h1M79 39h1M88 39h1M123 39h1M134 39h1M137 39h1M67 40h1M73 40h1M79 40h1M123 40h1M157 40h1M79 41h1M81 41h1M157 41h1M72 42h1M79 42h1M176 44h1M57 45h1M67 47h2M72 47h1M82 47h1M87 47h1M92 47h2M49 48h1M9 49h1M15 49h1M180 57h3M186 57h1M188 57h1M1 58h4M10 58h1M13 58h4M56 58h2M72 58h7"/><path stroke="#292929" d="M86 14h1M101 14h1M133 15h1M116 16h1M135 16h1M146 16h1M58 18h1M153 18h2M163 20h1M48 22h1M46 23h1M31 24h1M177 27h1M186 28h1M190 30h1M14 32h1M93 32h1M122 32h1M10 33h1M93 33h1M3 34h2M8 34h1M92 34h2M124 34h1M134 34h1M71 35h1M84 35h1M91 35h1M113 35h1M95 36h1M129 36h1M72 38h1M77 38h1M82 38h1M86 38h1M123 38h1M133 38h1M72 39h1M85 39h1M142 39h2M145 39h1M156 39h1M74 40h1M76 40h1M146 40h1M122 41h1M146 41h1M158 41h1M80 42h1M160 42h1M72 43h1M60 44h2M173 46h1M83 47h4M89 47h1M97 47h1M179 57h1M187 57h1M191 57h1M0 58h1M6 58h1M12 58h1M17 58h1M36 58h5M46 58h2M58 58h2M71 58h1M79 58h1M86 58h1M94 58h1"/><path stroke="#2a2a2a" d="M104 13h1M90 14h2M94 15h1M124 15h1M56 19h1M39 23h1M45 23h1M172 24h1M30 25h1M36 25h1M175 26h1M16 29h1M93 31h1M187 31h1M109 32h1M123 32h2M128 32h1M92 33h1M102 33h3M193 33h1M9 34h2M94 34h1M112 34h1M116 34h1M128 34h1M197 34h1M68 35h1M70 35h1M72 35h1M78 35h1M89 35h1M94 35h1M98 35h1M79 36h1M120 36h1M126 36h1M77 37h1M87 37h1M90 37h1M131 37h1M73 38h1M88 38h1M139 38h1M141 38h1M144 38h1M68 40h1M75 40h1M70 42h2M55 45h1M48 46h1M193 46h1M73 47h1M88 47h1M98 47h1M192 47h1M173 57h3M196 57h1M5 58h1M11 58h1M21 58h1M28 58h2M35 58h1M41 58h3M45 58h1M62 58h2M82 58h1"/><path stroke="#2b2b2b" d="M103 13h1M71 16h1M114 16h1M62 18h1M155 18h1M157 18h1M158 19h1M53 21h1M164 21h1M167 22h1M41 23h2M170 23h1M171 24h1M37 25h1M26 27h2M183 27h2M191 30h1M107 31h1M189 31h1M94 32h1M100 32h1M105 32h1M108 32h1M94 33h1M11 34h1M91 34h1M125 34h1M1 35h1M95 35h3M119 35h1M61 36h1M77 36h1M72 37h1M86 37h1M88 37h1M127 37h1M67 38h1M134 38h1M140 38h1M142 38h2M74 39h1M83 39h2M136 39h1M72 40h1M81 40h1M122 40h1M67 41h1M72 41h1M80 41h1M69 42h1M70 43h2M167 43h1M53 44h1M59 44h1M185 45h1M81 47h1M99 47h1M188 47h1M15 48h1M170 57h3M178 57h1M192 57h1M30 58h1M34 58h1M44 58h1M48 58h1M55 58h1M60 58h2M64 58h2M70 58h1"/><path stroke="#2c2c2c" d="M89 14h1M85 15h1M95 15h1M118 15h1M129 15h1M65 17h1M152 18h1M156 18h1M49 22h1M47 23h1M20 27h1M25 27h1M28 27h1M176 27h1M19 28h1M93 30h1M107 30h1M106 31h1M92 32h1M98 33h1M112 33h1M95 34h1M195 34h1M77 35h1M123 35h1M87 36h1M149 36h1M121 37h1M132 37h1M71 38h1M80 38h1M85 38h1M71 39h1M76 39h1M80 39h2M122 39h1M80 40h1M156 40h1M65 42h1M67 42h2M153 42h1M62 44h1M181 44h1M51 45h1M2 47h1M80 47h1M100 47h2M111 47h6M176 57h2M193 57h3M22 58h4M27 58h1M31 58h3M49 58h1M66 58h1M80 58h1M87 58h1M93 58h1"/><path stroke="#2d2d2d" d="M105 14h1M93 15h1M106 15h1M123 15h1M132 15h1M108 16h1M147 16h1M149 16h1M66 17h1M137 17h1M57 19h1M160 20h1M40 23h1M39 24h1M38 25h1M24 27h1M186 29h1M87 31h1M92 31h1M82 32h1M87 32h2M104 32h1M115 32h1M14 33h1M91 33h1M95 33h1M101 33h1M123 33h1M131 33h1M147 33h1M96 34h1M98 34h1M113 34h1M123 34h1M79 35h1M120 35h1M67 36h1M88 36h1M90 36h1M128 36h1M131 36h1M142 36h1M73 37h1M133 37h1M141 37h3M74 38h1M76 38h1M81 38h1M138 38h1M145 38h1M75 39h1M146 39h1M66 41h1M71 41h1M148 41h1M68 43h1M58 44h1M50 45h1M56 45h1M5 47h1M7 47h1M102 47h3M107 47h2M110 47h1M185 47h1M42 48h1M45 48h1M164 57h1M169 57h1M26 58h1M50 58h1M67 58h1M69 58h1M81 58h1M88 58h1"/><path stroke="#2e2e2e" d="M96 15h1M119 15h1M109 16h1M134 16h1M67 17h1M144 17h1M55 20h1M159 20h1M162 20h1M166 22h1M44 23h1M173 25h1M23 27h1M29 27h1M180 28h1M98 30h1M108 30h1M94 31h1M98 31h1M108 31h1M122 31h1M192 31h1M86 32h1M91 32h1M99 32h1M103 32h1M187 32h2M86 33h1M122 33h1M77 34h2M97 34h1M193 34h1M2 35h1M5 35h2M12 35h2M73 35h1M87 35h2M0 36h1M71 36h1M86 36h1M122 36h1M67 37h1M71 37h1M80 37h1M144 37h1M71 40h1M147 40h1M149 40h1M60 41h1M70 41h1M66 42h1M66 43h2M45 45h1M52 45h1M35 47h1M74 47h1M79 47h1M105 47h2M109 47h1M117 47h1M122 47h2M176 47h2M55 48h1M161 57h3M165 57h1M51 58h2M54 58h1M68 58h1"/><path stroke="#2f2f2f" d="M87 14h1M102 14h1M72 16h1M75 16h2M148 16h1M138 17h1M141 17h1M145 17h1M58 19h2M161 20h1M50 22h1M43 23h1M169 23h1M32 25h1M30 26h1M34 26h1M174 26h1M22 27h1M178 28h2M181 28h1M17 29h1M93 29h1M98 29h1M106 29h1M92 30h1M106 30h1M186 30h1M105 31h1M129 31h1M190 31h1M102 32h1M112 32h1M129 32h1M87 33h1M129 33h1M66 34h1M87 34h2M90 34h1M7 35h1M9 35h1M90 35h1M142 35h1M73 36h1M121 36h1M132 36h1M141 36h1M143 36h1M76 37h1M85 37h1M134 37h1M139 37h2M66 38h1M75 38h1M156 38h1M68 39h1M150 40h1M69 41h1M147 41h1M60 42h1M162 42h1M55 44h1M121 47h1M132 47h1M178 47h1M43 48h1M56 48h1M158 57h3M168 57h1M53 58h1M89 58h2M92 58h1"/><path stroke="#303030" d="M88 14h1M130 15h2M117 16h1M136 17h1M140 17h1M142 17h2M63 18h1M60 19h1M154 19h1M40 24h2M31 25h1M39 25h1M35 26h1M21 27h1M98 28h1M177 28h1M185 28h1M18 29h1M107 29h1M87 30h1M110 30h1M128 30h1M15 31h1M81 31h1M83 31h1M91 31h1M104 31h1M115 31h1M127 31h1M186 31h1M95 32h1M114 32h1M130 32h1M90 33h1M96 33h1M130 33h1M133 33h1M79 34h1M89 34h1M122 34h1M196 34h1M3 35h2M8 35h1M11 35h1M122 35h1M131 35h1M197 35h1M80 36h1M61 37h1M66 37h1M74 37h1M81 37h1M68 38h1M83 38h2M136 38h2M57 39h1M59 39h2M70 39h1M57 40h1M70 40h1M148 40h1M59 41h1M61 41h1M61 42h1M156 42h1M159 42h1M46 45h1M53 45h1M46 46h2M78 47h1M124 47h1M131 47h1M133 47h2M139 47h7M44 48h1M8 49h1M157 57h1M166 57h2M91 58h1"/><path stroke="#313131" d="M91 15h2M97 15h1M120 15h1M122 15h1M74 16h1M79 16h2M83 16h1M68 17h1M139 17h1M150 17h1M151 18h1M153 19h1M51 22h1M165 22h1M48 23h1M46 24h1M172 25h1M33 26h1M175 27h1M20 28h1M105 29h1M94 30h1M105 30h1M109 30h1M129 30h1M86 31h1M99 31h1M103 31h1M112 31h2M128 31h1M81 32h1M90 32h1M121 32h1M186 32h1M77 33h1M81 33h1M97 33h1M113 33h1M125 33h1M117 34h1M120 34h1M131 34h1M10 35h1M69 35h1M85 35h2M121 35h1M141 35h1M143 35h1M194 35h1M133 36h1M144 36h1M68 37h1M145 37h1M70 38h1M69 40h1M172 40h1M60 43h2M65 43h1M186 45h1M75 47h1M130 47h1M135 47h1M137 47h2M146 47h1M150 47h2M153 47h5M170 47h1M175 47h1M191 47h1M34 49h1M145 57h5"/><path stroke="#323232" d="M104 14h1M73 16h1M77 16h1M110 16h1M113 16h1M133 16h1M69 17h1M157 19h1M158 20h1M54 21h1M52 22h1M168 23h1M170 24h1M171 25h1M36 26h1M26 28h2M182 28h1M19 29h1M92 29h1M91 30h1M97 30h1M104 30h1M111 30h1M121 31h1M123 31h1M130 31h1M191 31h1M80 32h1M89 32h1M101 32h1M189 32h1M78 33h1M80 33h1M89 33h1M116 33h1M121 33h1M14 34h1M80 34h1M118 34h2M121 34h1M142 34h1M150 34h1M66 35h1M80 35h1M126 35h1M132 35h1M149 35h1M66 36h1M76 36h1M85 36h1M75 37h1M135 37h1M138 37h1M146 38h1M157 38h1M69 39h1M59 42h1M154 42h1M165 43h1M40 44h1M36 45h1M187 45h1M36 46h1M36 47h1M76 47h2M118 47h1M120 47h1M125 47h1M129 47h1M136 47h1M148 47h2M152 47h1M158 47h3M162 47h1M33 49h1M141 57h4M156 57h1"/><path stroke="#333333" d="M103 14h1M90 15h1M100 15h1M121 15h1M78 16h1M81 16h2M107 16h1M155 19h1M163 21h1M45 24h1M40 25h1M38 26h1M23 28h1M25 28h1M28 28h1M94 29h1M97 29h1M104 29h1M108 29h1M128 29h1M16 30h1M127 30h1M82 31h1M88 31h1M97 31h1M124 31h1M97 32h1M116 32h1M131 32h1M192 32h1M79 33h1M82 33h1M72 34h1M76 34h1M81 34h1M85 34h2M76 35h1M127 35h1M1 36h1M74 36h1M81 36h1M139 36h2M83 37h2M69 38h1M58 39h1M147 39h3M58 41h1M58 42h1M56 43h2M188 45h1M45 46h1M119 47h1M128 47h1M147 47h1M161 47h1M169 47h1M171 47h1M179 47h1M189 47h2M138 57h1M140 57h1M150 57h1M155 57h1"/><path stroke="#343434" d="M86 15h1M84 16h1M70 17h1M56 20h1M42 24h1M37 26h1M39 26h1M173 26h1M30 27h1M22 28h1M24 28h1M93 28h1M176 28h1M86 30h1M99 30h1M103 30h1M121 30h1M90 31h1M95 31h1M100 31h1M131 31h1M133 31h1M79 32h1M96 32h1M132 32h1M76 33h1M117 33h1M187 33h1M82 34h1M132 34h1M143 34h1M59 35h1M81 35h2M65 36h1M84 36h1M134 36h1M138 36h1M70 37h1M61 38h1M148 38h2M53 42h1M57 42h1M58 43h2M166 43h1M126 47h2M163 47h1M174 47h1M184 47h1M54 48h1M134 57h4M139 57h1"/><path stroke="#353535" d="M98 15h1M101 15h1M135 17h1M61 19h1M156 19h1M41 25h1M21 28h1M29 28h1M94 28h1M97 28h1M184 28h1M20 29h1M91 29h1M85 30h1M133 30h1M85 31h1M102 31h1M132 31h1M77 32h2M113 32h1M133 32h1M190 32h1M120 33h1M134 33h1M188 33h1M62 34h1M73 34h1M147 34h1M65 35h1M133 35h1M144 35h1M2 36h1M60 36h1M68 36h1M75 36h1M83 36h1M0 37h1M69 37h1M136 37h2M150 39h1M151 40h1M158 40h1M33 41h1M57 41h1M56 42h1M32 45h1M35 46h1M1 47h1M6 47h1M180 47h4M16 49h1M127 57h2M151 57h1M154 57h1"/><path stroke="#363636" d="M99 15h1M105 15h1M111 16h2M127 16h1M71 17h1M146 17h1M64 18h1M152 19h1M57 20h2M164 22h1M49 23h1M47 24h1M31 26h1M34 27h1M174 27h1M183 28h1M87 29h1M99 29h1M109 29h1M185 29h1M84 30h1M112 30h1M134 30h1M80 31h1M89 31h1M15 32h1M76 32h1M83 32h1M125 32h1M119 33h1M142 33h1M186 33h1M126 34h1M141 34h1M138 35h3M193 35h1M7 36h3M13 36h1M197 36h1M65 37h1M148 37h2M147 38h1M151 39h1M172 39h1M152 41h1M39 42h1M157 42h1M171 43h1M33 44h1M178 44h2M49 45h1M189 45h1M34 46h1M43 46h1M172 47h2M50 48h1M7 49h1M124 57h3M133 57h1M152 57h1"/><path stroke="#373737" d="M118 16h1M126 16h1M132 16h1M115 17h2M59 20h1M160 21h1M162 21h1M53 22h1M32 26h1M40 26h1M172 26h1M35 27h1M98 27h1M92 28h1M121 29h1M127 29h1M129 29h1M133 29h1M83 30h1M130 30h1M78 31h2M84 31h1M96 31h1M116 31h1M139 31h1M117 32h1M185 32h1M118 33h1M143 33h1M192 33h1M127 34h1M138 34h1M74 35h1M195 35h1M3 36h1M6 36h1M10 36h1M12 36h1M64 36h1M145 36h1M59 38h2M150 38h1M9 39h1M64 42h1M163 42h1M55 43h1M54 44h1M177 44h1M38 46h1M164 47h1M168 47h1M57 48h1M0 49h1M122 57h2M129 57h1M153 57h1"/><path stroke="#383838" d="M159 21h1M161 21h1M167 23h1M44 24h1M170 25h1M171 26h1M106 28h2M21 29h3M103 29h1M110 29h1M17 30h3M90 30h1M95 30h1M102 30h1M126 30h1M131 30h2M101 31h1M125 31h1M142 31h2M85 32h1M120 32h1M127 32h1M191 32h1M126 33h2M75 34h1M83 34h1M133 34h1M139 34h1M144 34h1M14 35h1M64 35h1M75 35h1M134 35h1M155 35h1M5 36h1M70 36h1M135 36h1M8 37h1M146 37h1M58 38h1M10 40h1M65 40h1M56 41h1M159 41h1M55 42h1M158 42h1M171 42h1M62 43h1M180 44h1M0 47h1M165 47h1M1 49h1M121 57h1"/><path stroke="#393939" d="M89 15h1M125 16h1M128 16h1M134 17h1M149 17h1M65 18h1M62 19h1M154 20h1M55 21h1M43 24h1M169 24h1M33 27h1M36 27h1M173 27h1M108 28h1M175 28h1M86 29h1M134 29h1M177 29h2M20 30h1M88 30h1M100 30h1M122 30h1M185 30h1M77 31h1M134 31h1M185 31h1M119 32h1M139 32h1M147 32h1M72 33h1M75 33h1M83 33h1M85 33h1M139 33h1M185 33h1M69 34h1M74 34h1M140 34h1M192 34h1M69 36h1M137 36h1M148 36h1M150 37h1M65 38h1M151 38h1M159 40h1M160 41h2M176 43h1M183 44h1M166 47h2M53 48h1M2 49h2M22 49h1M197 56h1"/><path stroke="#3a3a3a" d="M87 15h1M102 15h1M106 16h1M72 17h1M114 17h1M147 17h1M66 18h1M153 20h1M157 20h1M50 23h1M31 27h1M37 27h2M30 28h1M99 28h1M105 28h1M24 29h1M79 30h2M82 30h1M96 30h1M120 30h1M114 31h1M120 31h1M126 31h1M141 31h1M84 32h1M118 32h1M142 32h2M138 33h1M144 33h3M189 33h1M68 34h1M84 34h1M145 34h1M148 34h1M145 35h1M150 35h1M196 35h1M11 36h1M147 37h1M197 37h1M62 38h1M62 39h1M65 39h1M152 40h1M6 41h1M36 41h1M177 43h1M37 46h1M51 48h2M4 49h1M21 49h1M32 49h1M113 57h2M130 57h1M132 57h1"/><path stroke="#3b3b3b" d="M119 16h1M124 16h1M150 18h1M41 26h1M97 27h1M91 28h1M128 28h1M25 29h3M83 29h1M90 29h1M95 29h1M111 29h1M120 29h1M21 30h1M78 30h1M81 30h1M89 30h1M123 30h1M16 31h1M76 31h1M117 31h1M138 31h1M126 32h1M145 32h1M15 33h1M84 33h1M141 33h1M148 33h1M65 34h1M188 34h1M60 35h3M137 35h1M192 35h1M4 36h1M136 36h1M150 36h1M60 37h1M62 37h1M64 37h1M151 37h1M57 38h1M196 38h1M56 40h1M62 40h1M154 40h1M180 40h1M62 41h1M172 41h1M54 42h1M62 42h1M179 43h1M193 45h1M31 46h1M5 49h2M35 49h1M110 57h3M115 57h1M120 57h1"/><path stroke="#3c3c3c" d="M88 15h1M104 15h1M94 16h1M131 16h1M148 17h1M141 18h1M144 18h1M151 19h1M60 20h1M155 20h1M163 22h1M42 25h1M46 25h1M32 27h1M39 27h1M172 27h1M104 28h1M84 29h2M96 29h1M119 29h1M132 29h1M176 29h1M179 29h1M22 30h2M101 30h1M116 30h1M119 30h1M124 30h2M135 30h1M119 31h1M140 31h1M75 32h1M138 32h1M144 32h1M146 32h1M150 33h1M63 34h1M71 34h1M137 34h1M146 34h1M187 34h1M151 36h1M1 37h1M9 37h1M59 37h1M0 38h1M8 38h1M178 39h1M153 40h1M54 41h2M153 41h1M155 41h1M63 42h1M173 42h2M6 43h1M185 44h1M23 49h1M189 56h2M196 56h1M95 57h2M100 57h1M109 57h1M116 57h1M131 57h1"/><path stroke="#3d3d3d" d="M85 16h1M91 16h1M93 16h1M129 16h1M140 18h1M142 18h2M145 18h1M158 21h1M166 23h1M48 24h1M45 25h1M170 26h1M93 27h2M34 28h2M95 28h1M103 28h1M109 28h1M127 28h1M28 29h1M88 29h1M100 29h1M102 29h1M112 29h1M180 29h2M134 32h1M63 33h1M74 33h1M140 33h1M190 33h1M64 34h1M67 34h1M70 34h1M149 34h1M63 35h1M147 35h1M62 36h2M146 36h2M3 37h1M10 37h1M58 37h1M152 39h1M182 39h1M155 40h1M154 41h1M54 43h1M50 44h1M8 46h1M63 48h1M17 49h1M184 56h2M188 56h1M0 57h4M97 57h1M99 57h1M101 57h1M108 57h1M117 57h1M119 57h1"/><path stroke="#3e3e3e" d="M103 15h1M95 16h1M123 16h1M133 17h1M67 18h1M137 18h3M156 20h1M54 22h1M51 23h1M171 27h1M31 28h1M33 28h1M36 28h1M86 28h2M96 28h1M120 28h1M174 28h1M29 29h1M116 29h1M122 29h1M126 29h1M130 29h2M184 29h1M77 30h1M113 30h1M117 30h1M139 30h1M19 31h3M118 31h1M141 32h1M148 32h1M73 33h1M137 33h1M149 33h1M135 35h1M146 35h1M151 35h1M192 36h1M57 37h1M54 39h1M11 40h1M53 40h1M53 41h1M6 42h1M52 44h1M4 46h1M33 46h1M64 48h1M183 56h1M186 56h2M191 56h1M195 56h1M20 57h1M98 57h1M118 57h1"/><path stroke="#3f3f3f" d="M92 16h1M130 16h1M73 17h1M75 17h2M117 17h1M63 19h1M162 22h1M52 23h1M168 24h1M40 27h1M32 28h1M90 28h1M119 28h1M173 28h1M30 29h1M80 29h1M82 29h1M89 29h1M123 29h1M125 29h1M182 29h1M115 30h1M118 30h1M22 31h1M135 31h1M72 32h1M137 32h1M140 32h1M191 33h1M186 34h1M136 35h1M194 36h1M13 37h1M63 37h1M9 38h1M193 39h1M5 40h1M55 40h1M64 41h1M193 41h1M178 42h1M13 43h1M172 43h1M51 44h1M184 44h1M58 48h1M65 48h3M20 49h1M181 56h2M192 56h1M194 56h1M7 57h4M13 57h3M19 57h1M37 57h7M48 57h1M94 57h1M102 57h1M105 57h3"/><path stroke="#404040" d="M96 16h1M58 21h1M161 22h1M95 27h1M99 27h1M37 28h1M133 28h1M79 29h1M124 29h1M140 30h1M144 30h1M17 31h2M144 31h2M185 34h1M14 36h1M152 36h1M6 37h2M12 37h1M152 37h1M56 38h1M152 38h1M53 39h1M160 40h1M12 41h1M63 41h1M164 42h1M172 42h1M33 43h1M49 44h1M62 48h1M68 48h1M18 49h1M180 56h1M193 56h1M4 57h1M18 57h1M36 57h1M44 57h4M49 57h2M56 57h1M84 57h1M104 57h1"/><path stroke="#414141" d="M90 16h1M120 16h1M74 17h1M77 17h1M79 17h1M109 17h1M56 21h2M160 22h1M165 23h1M92 27h1M106 27h1M38 28h1M85 28h1M121 28h1M123 28h1M129 28h1M172 28h1M31 29h1M36 29h1M81 29h1M101 29h1M118 29h1M175 29h1M183 29h1M24 30h1M136 30h1M138 30h1M23 31h1M75 31h1M136 31h2M16 32h1M65 33h2M15 34h1M57 34h1M188 35h1M57 36h1M59 36h1M193 36h1M2 37h1M56 37h1M64 38h1M4 39h1M8 39h1M197 43h1M197 44h1M48 45h1M190 45h1M32 46h1M69 48h1M19 49h1M179 56h1M6 57h1M11 57h2M21 57h1M57 57h1M83 57h1M85 57h1M103 57h1"/><path stroke="#424242" d="M105 16h1M122 16h1M78 17h1M108 17h1M68 18h2M136 18h1M152 20h1M59 21h1M164 23h1M49 24h1M44 25h1M169 25h1M96 27h1M105 27h1M107 27h1M84 28h1M88 28h1M102 28h1M122 28h1M35 29h1M78 29h1M117 29h1M135 29h1M76 30h1M74 32h1M136 32h1M62 33h1M64 33h1M68 33h1M136 33h1M136 34h1M189 34h1M58 35h1M152 35h1M58 36h1M195 36h2M11 37h1M10 38h1M63 38h1M52 40h1M63 40h2M163 41h1M33 42h1M6 44h1M5 45h1M9 46h1M44 46h1M70 48h1M178 56h1M5 57h1M16 57h1M23 57h2M35 57h1M51 57h1M55 57h1M58 57h2"/><path stroke="#434343" d="M121 16h1M80 17h1M113 17h1M70 18h1M61 20h1M159 22h1M43 25h1M47 25h1M98 26h1M41 27h1M108 27h1M170 27h1M83 28h1M89 28h1M100 28h1M110 28h1M124 28h1M126 28h1M132 28h1M32 29h3M177 30h1M146 31h1M20 32h2M73 32h1M135 32h1M69 33h1M71 33h1M184 33h1M135 34h1M190 34h1M5 37h1M55 38h1M63 39h1M9 40h1M178 43h1M186 44h1M31 45h1M7 46h1M59 48h1M71 48h1M82 48h3M24 49h1M174 56h1M17 57h1M22 57h1M25 57h1M52 57h1M60 57h3M78 57h1M86 57h1M93 57h1"/><path stroke="#444444" d="M97 16h1M83 17h1M71 18h1M146 18h1M157 21h1M42 26h1M91 27h1M103 27h2M112 28h1M118 28h1M134 28h1M37 29h1M139 29h1M25 30h1M137 30h1M178 30h1M184 30h1M147 31h1M149 31h1M19 32h1M22 32h1M149 32h1M184 32h1M56 34h1M61 34h1M151 34h1M57 35h1M187 35h1M1 38h1M53 38h2M52 39h1M64 39h1M153 39h2M193 40h1M52 41h1M197 42h1M47 45h1M12 46h1M61 48h1M72 48h1M85 48h1M31 49h1M172 56h2M175 56h1M26 57h3M53 57h2M75 57h3M79 57h1M82 57h1"/><path stroke="#454545" d="M86 16h1M101 16h1M149 18h1M64 19h1M150 19h1M153 21h2M55 22h1M53 23h1M163 23h1M167 24h1M111 28h1M125 28h1M113 29h1M26 30h1M36 30h1M114 30h1M72 31h1M184 31h1M17 32h2M68 32h1M16 33h1M135 33h1M184 34h1M56 36h1M4 37h1M172 38h1M197 38h1M10 39h1M158 39h1M4 40h1M163 40h1M162 41h1M164 41h1M178 41h1M29 46h1M60 48h1M80 48h2M86 48h2M194 48h1M170 56h2M177 56h1M34 57h1M63 57h1M72 57h3M87 57h3"/><path stroke="#464646" d="M81 17h1M84 17h1M132 17h1M46 26h1M90 27h1M123 27h1M39 28h1M101 28h1M117 28h1M171 28h1M77 29h1M173 29h1M35 30h1M141 30h1M176 30h1M23 32h1M64 32h2M67 33h1M70 33h1M58 34h1M15 35h1M196 37h1M155 39h1M52 42h1M168 42h1M173 43h1M13 44h1M30 45h1M44 45h1M5 46h1M10 46h1M30 46h1M73 48h1M79 48h1M88 48h2M95 48h1M122 48h1M193 48h1M195 48h1M197 48h1M169 56h1M176 56h1M29 57h1M64 57h1M80 57h1M90 57h1M92 57h1"/><path stroke="#474747" d="M82 17h1M110 17h1M135 18h1M155 21h1M50 24h1M45 26h1M97 26h1M86 27h2M119 27h2M124 27h1M127 27h2M130 28h2M140 29h1M174 29h1M27 30h1M30 30h2M142 30h2M145 30h1M24 31h1M73 31h2M148 31h1M69 32h1M191 34h1M14 37h1M55 37h1M52 38h1M0 39h1M180 41h1M183 42h1M183 43h1M197 45h1M25 46h1M90 48h2M93 48h2M96 48h1M121 48h1M123 48h1M192 48h1M196 48h1M65 57h1M71 57h1M81 57h1M91 57h1"/><path stroke="#484848" d="M89 16h1M100 16h1M118 17h1M65 19h1M151 20h1M161 23h2M89 27h1M102 27h1M122 27h1M125 27h1M79 28h2M82 28h1M136 29h1M138 29h1M28 30h2M34 30h1M75 30h1M71 32h1M2 38h1M13 38h1M159 39h1M163 39h1M162 40h1M168 41h1M169 42h1M52 43h1M45 44h1M48 44h1M33 45h1M35 45h1M92 48h1M124 48h1M130 48h2M168 56h1M30 57h1M33 57h1M66 57h1"/><path stroke="#494949" d="M87 16h1M98 16h1M107 17h1M72 18h1M62 20h1M156 21h1M160 23h1M88 27h1M126 27h1M81 28h1M116 28h1M38 29h1M172 29h1M32 30h1M146 30h1M68 31h1M63 32h1M17 33h1M20 33h1M60 34h1M152 34h1M153 35h1M186 35h1M153 36h1M54 37h1M191 37h1M7 38h1M11 38h2M41 38h1M153 38h2M195 38h1M1 39h1M8 40h1M51 40h1M51 41h1M35 43h1M23 44h1M37 45h1M78 48h1M116 48h1M129 48h1M132 48h2M191 48h1M25 49h1M167 56h1M31 57h2M70 57h1"/><path stroke="#4a4a4a" d="M102 16h1M104 16h1M112 17h1M147 18h2M60 21h1M94 26h2M169 26h1M109 27h1M121 27h1M113 28h1M115 29h1M137 29h1M33 30h1M37 30h1M179 30h1M183 30h1M64 31h1M69 31h1M62 32h1M67 32h1M70 32h1M18 33h2M21 33h1M61 33h1M16 34h1M56 35h1M189 35h2M188 36h1M192 37h1M6 38h1M170 42h1M174 43h1M184 43h1M11 46h1M28 46h1M74 48h1M97 48h1M115 48h1M117 48h1M120 48h1M125 48h1M134 48h2M177 48h2M166 56h1"/><path stroke="#4b4b4b" d="M99 16h1M106 17h1M126 17h1M66 19h1M143 19h1M158 22h1M54 23h1M48 25h1M168 25h1M96 26h1M85 27h1M100 27h1M40 28h1M170 28h1M76 29h1M175 30h1M182 30h1M35 31h1M66 32h1M22 33h2M185 35h1M15 36h1M55 36h1M53 37h1M153 37h1M195 37h1M3 38h1M42 38h1M51 39h1M181 39h1M161 40h1M164 40h1M167 42h1M179 42h1M50 43h1M192 45h1M3 46h1M98 48h3M107 48h2M113 48h2M128 48h1M136 48h2M176 48h1M179 48h1M26 49h1M30 49h1M161 56h1M165 56h1M67 57h1M69 57h1"/><path stroke="#4c4c4c" d="M88 16h1M125 17h1M127 17h1M115 18h1M134 18h1M58 22h1M51 24h1M166 24h1M99 26h1M42 27h1M84 27h1M117 27h2M129 27h1M78 28h1M69 30h1M73 30h2M181 30h1M25 31h1M36 31h1M65 31h1M71 31h1M150 32h1M151 33h1M59 34h1M172 36h1M187 36h1M154 37h1M194 37h1M4 38h1M155 38h1M158 38h2M2 39h1M160 39h1M162 39h1M51 42h1M165 42h1M51 43h1M43 44h1M34 45h1M38 45h1M43 45h1M75 48h3M101 48h1M106 48h1M109 48h4M119 48h1M126 48h2M138 48h4M175 48h1M190 48h1M27 49h1M36 49h1M158 56h3M162 56h3M68 57h1"/><path stroke="#4d4d4d" d="M111 17h1M114 18h1M139 19h1M142 19h1M144 19h1M159 23h1M43 26h2M93 26h1M101 27h1M112 27h1M41 28h1M135 28h1M114 29h1M72 30h1M173 30h1M180 30h1M70 31h1M177 31h2M24 32h1M20 34h1M184 35h1M191 35h1M191 36h1M52 37h1M193 37h1M5 38h1M14 38h1M193 38h1M0 40h2M37 40h2M7 41h1M23 41h1M167 41h1M169 41h1M175 43h1M191 45h1M102 48h1M105 48h1M118 48h1M142 48h4M150 48h7M180 48h1M28 49h2M157 56h1"/><path stroke="#4e4e4e" d="M103 16h1M91 17h1M124 17h1M131 17h1M138 19h1M140 19h2M63 20h1M56 22h2M163 24h1M68 30h1M63 31h1M67 31h1M17 34h3M154 36h1M15 37h1M157 37h1M172 37h1M16 38h1M163 38h1M11 39h1M197 41h1M42 44h1M44 44h1M193 44h1M11 45h1M6 46h1M103 48h2M146 48h1M149 48h1M157 48h3M174 48h1M181 48h1M189 48h1M156 56h1"/><path stroke="#4f4f4f" d="M119 17h1M116 18h1M137 19h1M145 19h1M152 21h1M59 22h1M52 24h1M164 24h1M49 25h1M47 26h1M103 26h1M124 26h2M46 27h1M116 27h1M144 29h2M26 31h1M31 31h1M34 31h1M62 31h1M183 31h1M153 34h1M16 35h1M54 36h1M159 37h1M15 38h1M32 38h1M51 38h1M194 38h1M16 39h1M161 39h1M2 40h1M165 41h1M7 42h1M193 42h1M35 44h2M46 44h2M4 45h1M10 45h1M24 45h1M29 45h1M147 48h2M160 48h2M170 48h1"/><path stroke="#505050" d="M85 17h1M128 17h1M76 18h1M150 20h1M160 24h3M165 24h1M90 26h1M106 26h2M110 27h1M113 27h1M133 27h1M169 27h1M141 29h1M70 30h1M147 30h1M172 30h1M174 30h1M30 31h1M37 31h1M154 35h1M16 37h1M7 39h1M164 39h1M178 40h1M1 41h1M50 42h1M166 42h1M182 43h1M185 43h1M41 44h1M0 46h2M162 48h1M171 48h1M173 48h1M182 48h1M155 56h1"/><path stroke="#515151" d="M90 17h1M73 18h1M75 18h1M133 18h1M157 22h1M92 26h1M102 26h1M105 26h1M123 26h1M45 27h1M83 27h1M111 27h1M132 27h1M39 29h1M69 29h1M75 29h1M143 29h1M171 29h1M38 30h1M71 30h1M32 31h1M66 31h1M176 31h1M61 32h1M178 32h1M183 32h1M24 33h1M60 33h1M178 33h1M162 34h1M16 36h1M190 36h1M17 38h1M3 39h1M15 39h1M3 40h1M179 41h1M183 41h1M180 42h1M34 43h1M39 45h1M2 46h1M169 48h1M188 48h1M3 50h2"/><path stroke="#525252" d="M92 17h1M94 17h1M105 17h1M123 17h1M77 18h1M67 19h1M69 19h1M149 19h1M153 22h1M55 23h1M91 26h1M104 26h1M108 26h1M77 28h1M115 28h1M136 28h1M73 29h1M142 29h1M27 31h1M29 31h1M33 31h1M183 33h1M21 34h1M161 34h1M17 35h2M55 35h1M53 36h1M186 36h1M189 36h1M17 37h1M155 37h1M158 37h1M160 38h1M6 39h1M12 39h2M197 39h1M7 40h1M28 40h1M0 41h1M2 41h2M49 43h1M9 45h1M12 45h1M163 48h1M172 48h1M2 50h1M154 56h1"/><path stroke="#535353" d="M93 17h1M74 18h1M78 18h1M70 19h1M64 20h1M61 21h1M154 22h2M159 24h1M167 25h1M89 26h1M130 27h1M137 28h1M139 28h2M148 30h1M28 31h1M25 32h1M22 34h1M183 34h1M19 35h3M17 36h1M19 37h1M188 37h1M18 38h1M162 38h1M178 38h1M5 39h1M14 39h1M17 39h1M6 40h1M16 40h1M33 40h1M168 40h1M50 41h1M166 41h1M171 41h1M35 42h1M44 43h1M180 43h1M40 45h1M27 46h1M183 48h1M37 49h1M1 50h1M148 56h2"/><path stroke="#545454" d="M95 17h2M129 17h2M79 18h1M68 19h1M156 22h1M53 24h1M122 26h1M126 26h1M80 27h1M114 28h1M138 28h1M74 29h1M150 31h1M35 32h2M23 34h1M18 36h3M52 36h1M155 36h1M159 36h1M18 37h1M20 37h1M156 37h1M19 38h1M28 39h1M4 41h1M170 41h1M1 42h2M44 42h1M43 43h1M31 44h1M42 45h1M24 46h1M184 48h1M187 48h1M197 55h1M147 56h1"/><path stroke="#555555" d="M71 19h1M146 19h1M50 25h1M43 27h1M81 27h1M131 27h1M42 28h1M68 29h1M72 29h1M179 31h1M182 31h1M59 33h1M152 33h1M44 36h1M51 37h1M187 37h1M192 38h1M18 39h1M194 39h1M196 39h1M15 40h1M169 40h1M197 40h1M8 41h1M44 41h1M45 43h1M11 44h2M34 44h1M39 44h1M1 45h1M194 45h1M164 48h1M185 48h2M38 49h2M0 50h1M146 56h1M150 56h1M153 56h1"/><path stroke="#565656" d="M120 17h1M122 17h1M151 21h1M158 23h1M98 25h1M162 25h1M100 26h1M120 26h1M127 26h1M168 26h1M44 27h1M79 27h1M134 27h1M169 28h1M70 29h1M62 30h3M67 30h1M173 31h1M151 32h1M158 32h1M177 32h1M57 33h2M24 34h1M154 34h1M184 36h2M160 37h1M20 38h1M19 39h1M50 40h1M10 41h2M3 42h1M1 43h2M37 44h2M8 45h1M28 45h1M168 48h1M40 49h1M5 50h1M136 56h3M141 56h5"/><path stroke="#575757" d="M121 17h1M113 18h1M117 18h1M136 19h1M65 20h1M163 25h1M87 26h2M101 26h1M121 26h1M128 26h1M76 28h1M170 29h1M61 31h1M172 31h1M26 32h1M32 32h1M34 32h1M37 32h1M183 35h1M158 36h1M43 37h1M163 37h1M161 38h1M164 38h1M17 40h1M44 40h1M16 41h1M173 41h1M0 42h1M34 42h1M43 42h1M45 42h1M193 43h1M1 44h1M32 44h1M187 44h1M6 45h1M41 45h1M13 46h1M165 48h1M196 55h1M134 56h2M140 56h1M151 56h2"/><path stroke="#585858" d="M80 18h1M109 18h1M60 22h1M161 25h1M166 25h1M48 26h1M86 26h1M117 26h1M119 26h1M82 27h1M115 27h1M40 29h1M71 29h1M146 29h1M65 30h1M175 31h1M31 32h1M54 35h1M179 36h1M32 37h1M195 39h1M12 40h1M5 41h1M9 41h1M45 41h1M175 42h1M11 43h2M39 43h2M42 43h1M48 43h1M2 45h1M166 48h2M41 49h1M45 49h2M8 50h1M0 56h2M133 56h1M139 56h1"/><path stroke="#595959" d="M97 17h1M97 25h1M160 25h1M109 26h1M113 26h1M114 27h1M46 28h1M144 28h1M38 31h1M180 31h2M30 32h1M33 32h1M25 33h1M179 35h1M189 37h1M50 39h1M19 40h1M45 40h1M165 40h1M167 40h1M39 41h1M43 41h1M11 42h1M13 42h1M49 42h1M46 43h1M2 44h1M10 44h1M195 44h2M13 45h1M23 46h1M44 49h1M49 49h1M194 49h1M6 50h1M9 50h1M195 55h1M2 56h1"/><path stroke="#5a5a5a" d="M86 17h1M89 17h1M84 18h1M62 21h1M54 24h1M95 25h1M159 25h1M112 26h1M116 26h1M129 26h1M47 27h1M78 27h1M69 28h1M41 29h1M32 33h1M56 33h1M153 33h1M55 34h1M21 36h1M160 36h1M28 37h1M45 39h1M180 39h1M14 40h1M18 40h1M170 40h1M17 41h1M19 41h1M10 42h1M12 42h1M36 42h1M46 42h1M0 43h1M7 43h1M19 43h1M31 43h1M41 43h1M47 43h1M5 44h1M30 44h1M195 45h1M22 46h1M42 49h2M47 49h1M50 49h1M195 49h1M197 49h1M7 50h1M189 55h2M3 56h1"/><path stroke="#5b5b5b" d="M104 17h1M81 18h1M83 18h1M108 18h1M147 19h2M56 23h1M58 23h1M51 25h1M96 25h1M164 25h1M118 26h1M45 28h1M66 30h1M149 30h1M171 30h1M27 32h1M29 32h1M60 32h1M176 32h1M182 32h1M55 33h1M177 33h1M163 34h1M177 34h2M24 35h1M53 35h1M159 35h1M21 37h1M162 37h1M186 37h1M190 37h1M188 38h1M191 38h1M20 39h1M44 39h1M168 39h1M13 40h1M4 42h1M19 42h1M42 42h1M176 42h1M3 43h1M188 43h1M0 44h1M194 44h1M7 45h1M20 45h1M23 45h1M26 46h1M48 49h1M51 49h1M193 49h1M196 49h1M188 55h1M191 55h1M194 55h1M108 56h7M127 56h2"/><path stroke="#5c5c5c" d="M132 18h1M72 19h1M150 21h1M152 22h1M57 23h1M157 23h1M158 24h1M165 25h1M49 26h1M85 26h1M162 26h1M43 28h1M73 28h1M75 28h1M141 28h1M143 28h1M174 31h1M179 32h1M161 33h1M155 34h1M179 34h1M22 35h2M158 35h1M177 35h1M32 36h1M157 36h1M183 36h1M161 37h1M179 37h1M28 38h1M26 39h1M173 39h1M173 40h1M179 40h1M15 41h1M38 41h1M46 41h1M16 42h2M40 42h1M10 43h1M187 43h1M20 44h1M0 45h1M196 45h1M20 46h2M52 49h1M192 49h1M10 50h1M192 55h2M107 56h1M125 56h2M129 56h1"/><path stroke="#5d5d5d" d="M87 17h1M101 17h1M143 20h1M94 25h1M99 25h1M125 25h1M84 26h1M168 27h1M42 29h1M39 30h1M28 32h1M154 33h1M25 34h1M32 35h1M48 35h1M52 35h1M161 35h1M28 36h1M51 36h1M180 36h1M45 38h1M50 38h1M187 38h1M169 39h1M27 40h1M43 40h1M46 40h1M18 41h1M49 41h1M5 42h1M41 42h1M47 42h2M20 43h1M36 43h1M38 43h1M189 43h1M19 44h1M188 44h1M192 44h1M3 45h1M21 45h1M53 49h1M184 55h2M187 55h1M4 56h1M7 56h2M100 56h2M105 56h2M115 56h1M122 56h3M132 56h1"/><path stroke="#5e5e5e" d="M82 18h1M106 18h1M135 19h1M66 20h1M59 23h1M156 23h1M55 24h1M52 25h1M167 26h1M77 27h1M44 28h1M142 28h1M145 28h1M169 29h1M38 32h1M26 33h1M31 33h1M35 33h1M179 33h1M182 33h1M25 35h1M46 35h1M178 35h1M156 36h1M183 37h2M181 38h1M190 38h1M32 39h2M46 39h1M165 39h1M192 39h1M171 40h1M182 40h1M196 40h1M34 41h1M23 42h1M17 43h1M4 44h1M19 45h1M22 45h1M19 46h1M191 49h1M11 50h1M183 55h1M186 55h1M9 56h2M116 56h1M121 56h1M130 56h1"/><path stroke="#5f5f5f" d="M102 17h1M125 18h1M138 20h2M142 20h1M63 21h1M110 26h1M161 26h1M163 26h1M68 28h1M70 28h1M72 28h1M74 28h1M147 29h2M150 30h1M151 31h1M59 32h1M33 33h2M36 33h2M158 33h1M163 33h1M158 34h1M162 35h1M180 35h1M24 36h2M185 37h1M21 38h1M44 38h1M189 38h1M167 39h1M188 39h1M191 39h1M166 40h1M47 41h1M174 41h1M8 42h1M18 42h1M182 42h1M189 42h1M30 43h1M32 43h1M181 43h1M196 43h1M27 45h1M54 49h1M12 50h1M182 55h1M13 56h3M96 56h2M99 56h1M102 56h1M104 56h1M131 56h1"/><path stroke="#606060" d="M88 17h1M110 18h1M140 20h1M149 20h1M153 23h2M90 25h1M93 25h1M102 25h1M124 25h1M158 25h1M111 26h1M114 26h1M135 27h1M67 29h1M61 30h1M154 32h1M173 32h1M30 33h1M32 34h1M47 35h1M160 35h1M161 36h1M178 36h1M164 37h1M178 37h1M180 37h1M173 38h1M20 40h1M34 40h1M49 40h1M183 40h1M40 41h1M42 41h1M175 41h1M9 42h1M188 42h1M18 43h1M186 43h1M9 44h1M17 44h1M17 45h1M17 46h2M181 55h1M5 56h2M11 56h2M19 56h2M98 56h1M103 56h1M117 56h1M120 56h1"/><path stroke="#616161" d="M98 17h1M103 17h1M105 18h1M118 18h1M76 19h1M137 20h1M155 23h1M103 25h1M115 26h1M137 27h1M71 28h1M43 29h1M170 30h1M58 32h1M152 32h1M172 32h1M181 32h1M27 33h1M29 33h1M164 33h1M182 34h1M45 35h1M156 35h2M163 36h1M39 37h1M45 37h1M50 37h1M40 38h1M46 38h1M179 38h1M183 38h1M170 39h1M190 39h1M47 40h1M188 40h1M48 41h1M20 42h1M4 43h2M16 43h1M37 43h1M195 43h1M3 44h1M21 44h1M55 49h1M190 49h1M180 55h1M18 56h1M95 56h1"/><path stroke="#626262" d="M100 17h1M107 18h1M124 18h1M126 18h1M75 19h1M77 19h1M69 20h2M141 20h1M144 20h1M64 21h1M50 26h1M138 27h1M57 32h1M180 32h1M176 33h1M26 34h1M54 34h1M180 34h1M45 36h1M162 36h1M167 36h1M177 36h1M167 37h1M168 38h1M182 38h1M184 38h1M43 39h1M189 39h1M174 40h1M189 40h1M192 40h1M195 40h1M13 41h2M20 41h1M41 41h1M188 41h2M31 42h1M192 43h1M18 44h1M29 44h1M189 44h1M18 45h1M56 49h1M18 50h1M179 55h1M118 56h2"/><path stroke="#636363" d="M112 18h1M61 22h1M60 23h1M157 24h1M53 25h1M89 25h1M91 25h1M123 25h1M130 26h1M48 27h1M76 27h1M136 27h1M62 29h1M28 33h1M38 33h1M157 34h1M26 35h1M22 36h2M26 36h1M38 36h1M25 37h1M44 37h1M33 38h1M167 38h1M186 38h1M47 39h1M166 39h1M174 39h1M183 39h1M187 39h1M48 40h1M190 40h2M176 41h1M15 42h1M32 42h1M38 42h1M177 42h1M190 42h1M9 43h1M190 43h1M14 46h1M57 49h1M13 50h1M178 55h1M21 56h1"/><path stroke="#646464" d="M73 19h1M78 19h1M134 19h1M151 22h1M92 25h1M106 25h1M83 26h1M160 26h1M166 26h1M140 27h1M168 28h1M63 29h1M169 30h1M60 31h1M180 33h1M31 34h1M33 34h1M156 34h1M159 34h1M167 35h1M168 36h1M26 37h1M168 37h1M165 38h1M169 38h1M180 38h1M34 39h1M179 39h1M24 40h1M32 40h1M194 40h1M32 41h1M184 42h1M187 42h1M192 42h1M8 43h1M23 43h1M194 43h1M7 44h2M16 44h1M22 44h1M191 44h1M16 46h1M17 50h1M19 50h1M16 56h1M24 56h1M94 56h1"/><path stroke="#656565" d="M85 18h1M91 18h1M114 19h1M71 20h1M145 20h1M101 25h1M105 25h1M107 25h1M126 25h1M159 26h1M164 26h1M139 27h1M162 27h1M47 28h1M44 29h3M42 30h1M39 31h1M169 31h2M157 33h1M181 33h1M53 34h1M28 35h1M182 35h1M46 37h1M166 38h1M174 38h1M21 39h1M49 39h1M171 39h1M184 39h1M42 40h1M35 41h1M190 41h1M192 41h1M196 41h1M191 42h1M191 43h1M190 44h1M16 45h1M26 45h1M58 49h1M189 49h1M173 55h2M17 56h1M22 56h2M25 56h1"/><path stroke="#666666" d="M99 17h1M90 18h1M74 19h1M67 20h1M104 25h1M113 25h1M80 26h1M132 26h2M144 27h1M161 27h1M40 30h1M43 30h1M56 32h1M175 32h1M27 34h1M34 34h1M36 34h1M27 35h1M37 35h1M168 35h1M27 36h1M46 36h1M24 37h1M166 37h1M43 38h1M185 38h1M27 39h1M40 40h1M175 40h1M182 41h1M191 41h1M196 42h1M28 44h1M25 45h1M15 46h1M63 49h1M20 50h1M172 55h1M175 55h1M177 55h1M26 56h1"/><path stroke="#676767" d="M123 18h1M127 18h1M68 20h1M100 25h1M122 25h1M165 26h1M163 27h1M64 29h1M151 30h1M171 31h1M155 33h1M28 34h3M37 34h1M52 34h1M167 34h1M181 34h1M33 35h1M38 35h1M43 35h1M51 35h1M172 35h1M39 36h1M22 37h1M27 37h1M33 37h1M181 37h1M170 38h1M48 39h1M39 40h1M187 40h1M187 41h1M30 42h1M21 43h2M29 43h1M14 45h1M59 49h1M64 49h1M171 55h1M27 56h1"/><path stroke="#686868" d="M131 18h1M79 19h1M146 20h1M65 21h1M56 24h1M156 24h1M108 25h1M51 26h1M79 26h1M49 27h1M73 27h1M75 27h1M167 27h1M168 29h1M41 30h1M153 32h1M163 32h1M162 33h1M35 34h1M38 34h1M43 34h1M176 34h1M31 35h1M49 35h1M181 35h1M33 36h1M43 36h1M50 36h1M181 36h2M169 37h1M173 37h1M26 38h1M34 38h1M47 38h1M49 38h1M25 39h1M41 40h1M195 41h1M14 42h1M37 42h1M195 42h1M65 49h1M14 50h1M21 50h1M170 55h1M176 55h1M28 56h1M38 56h6M61 56h2M72 56h1M75 56h2"/><path stroke="#696969" d="M94 18h1M111 18h1M119 18h1M115 19h1M150 22h1M152 23h1M54 25h1M157 25h1M78 26h1M81 26h1M141 27h1M143 27h1M65 29h2M59 31h1M169 32h1M43 33h1M156 33h1M160 34h1M168 34h1M34 35h1M31 36h1M166 36h1M23 37h1M40 37h1M165 37h1M182 37h1M25 38h1M31 41h1M62 49h1M66 49h1M16 50h1M169 55h1M37 56h1M44 56h1M60 56h1M73 56h2M77 56h2M93 56h1"/><path stroke="#6a6a6a" d="M92 18h1M95 18h1M136 20h1M62 22h1M88 25h1M52 26h1M77 26h1M131 26h1M158 26h1M69 27h1M74 27h1M142 27h1M146 28h1M149 29h1M43 31h1M167 33h1M36 35h1M44 35h1M34 36h1M164 36h1M31 37h1M34 37h1M22 38h1M31 38h1M42 39h1M175 39h1M186 39h1M21 40h1M176 40h1M181 40h1M37 41h1M194 41h1M186 42h1M15 43h1M14 44h1M83 49h2M188 49h1M15 50h1M22 50h1M168 55h1M45 56h2M56 56h4M63 56h1M71 56h1M79 56h1M84 56h1"/><path stroke="#6b6b6b" d="M104 18h1M148 20h1M57 24h1M114 25h1M116 25h1M121 25h1M68 27h1M70 27h1M168 30h1M42 31h1M168 31h1M39 32h1M43 32h1M157 32h1M162 32h1M168 32h1M174 32h1M54 33h1M159 33h1M168 33h1M46 34h1M30 35h1M163 35h1M49 37h1M27 38h1M31 39h1M35 40h1M177 41h1M21 42h2M181 42h1M194 42h1M14 43h1M24 44h1M15 45h1M60 49h1M67 49h2M82 49h1M85 49h1M93 49h3M178 49h3M36 56h1M47 56h4M83 56h1M85 56h1"/><path stroke="#6c6c6c" d="M93 18h1M96 18h1M122 18h1M128 18h1M113 19h1M133 19h1M72 20h1M61 23h1M58 24h1M60 24h1M153 24h2M112 25h1M117 25h1M120 25h1M127 25h2M134 26h1M71 27h2M67 28h1M61 29h1M150 29h1M44 30h1M60 30h1M152 31h1M42 32h1M55 32h1M170 33h1M29 35h1M176 35h1M169 36h1M47 37h1M174 37h1M48 38h1M171 38h1M175 38h1M22 39h1M24 39h1M40 39h1M31 40h1M184 40h1M29 42h1M15 44h1M61 49h1M69 49h1M86 49h7M177 49h1M23 50h1M29 56h1M35 56h1M51 56h1M55 56h1M64 56h2M86 56h1"/><path stroke="#6d6d6d" d="M147 20h1M70 21h1M149 21h1M59 24h1M155 24h1M55 25h1M109 25h1M129 25h1M82 26h1M145 27h1M164 27h1M58 31h1M164 32h1M167 32h1M42 33h1M173 33h1M30 36h1M49 36h1M30 37h1M42 37h1M170 37h1M41 39h1M177 39h1M185 39h1M177 40h1M21 41h2M30 41h1M181 41h1M70 49h2M81 49h1M176 49h1M181 49h1M167 55h1M66 56h1M70 56h1M80 56h1M82 56h1M88 56h3M92 56h1"/><path stroke="#6e6e6e" d="M120 18h1M84 19h1M105 19h1M98 24h1M50 27h1M160 27h1M48 28h1M57 31h1M158 31h1M155 32h1M172 33h1M171 34h1M29 36h1M42 36h1M47 36h1M177 37h1M24 38h1M30 38h1M39 38h1M177 38h1M39 39h1M22 40h1M28 43h1M79 49h2M96 49h1M175 49h1M52 56h1M54 56h1M87 56h1M91 56h1"/><path stroke="#6f6f6f" d="M89 18h1M121 18h1M129 18h2M80 19h1M116 19h1M63 22h1M95 24h1M87 25h1M115 25h1M119 25h1M161 28h1M45 30h1M156 32h1M39 33h1M53 33h1M42 34h1M44 34h2M47 34h1M49 34h1M42 35h1M166 35h1M165 36h1M29 37h1M23 38h1M176 39h1M28 41h1M24 43h1M25 44h1M72 49h1M174 49h1M187 49h1M24 50h1M34 56h1M53 56h1M67 56h1M81 56h1"/><path stroke="#707070" d="M69 21h1M90 24h1M53 26h1M76 26h1M166 27h1M147 28h1M162 28h1M167 28h1M56 31h1M164 31h1M167 31h1M54 32h1M159 32h1M160 33h1M164 34h1M35 35h1M50 35h1M176 36h1M48 37h1M175 37h1M29 38h1M30 39h1M35 39h1M30 40h1M186 40h1M29 41h1M184 41h1M186 41h1M185 42h1M27 44h1M182 49h1M186 49h1M166 55h1M69 56h1"/><path stroke="#717171" d="M97 18h1M81 19h1M106 19h1M75 20h3M66 21h1M71 21h1M61 24h1M97 24h1M118 25h1M156 25h1M157 26h1M159 27h1M163 28h1M47 29h1M46 30h1M164 30h1M44 31h1M154 31h1M170 32h2M46 33h1M52 33h1M39 34h1M51 34h1M170 34h1M169 35h1M48 36h1M173 36h1M176 37h1M176 38h1M23 39h1M29 39h1M23 40h1M78 49h1M30 56h1M33 56h1M68 56h1"/><path stroke="#727272" d="M86 18h1M109 19h1M137 21h2M143 21h1M151 23h1M94 24h1M96 24h1M86 25h1M110 25h2M138 26h1M165 27h1M49 28h1M40 31h2M44 33h1M175 33h1M48 34h1M39 35h1M171 35h1M41 37h1M38 39h1M29 40h1M36 40h1M25 43h1M26 44h1M73 49h1M97 49h1M107 49h1M142 49h3M173 49h1M183 49h1M185 49h1M25 50h1M0 51h2M156 55h3M31 56h2"/><path stroke="#737373" d="M83 19h1M78 20h1M139 21h2M142 21h1M89 24h1M77 25h1M84 25h2M137 26h1M141 26h1M52 27h1M62 28h1M164 28h1M151 29h1M59 30h1M155 31h1M163 31h1M44 32h1M169 33h1M164 35h1M37 36h1M170 36h1M38 37h1M171 37h1M28 42h1M106 49h1M108 49h1M139 49h3M145 49h1M153 49h1M184 49h1M26 50h2M2 51h1M155 55h1M159 55h1M165 55h1"/><path stroke="#747474" d="M117 19h1M135 20h1M141 21h1M64 22h1M102 24h1M125 24h1M152 24h1M56 25h1M153 25h2M73 26h1M51 27h1M164 29h1M167 29h1M167 30h1M157 31h1M45 33h1M166 34h1M185 40h1M24 42h1M98 49h3M138 49h1M146 49h1M150 49h1M152 49h1M154 49h3M28 50h1M3 51h1M160 55h2"/><path stroke="#757575" d="M82 19h1M125 19h1M73 20h1M150 23h1M91 24h1M93 24h1M99 24h1M60 25h2M78 25h1M130 25h1M71 26h1M74 26h2M148 28h1M60 29h1M152 30h1M163 30h1M153 31h1M159 31h1M165 31h1M47 33h1M165 33h1M35 36h1M41 36h1M35 38h1M77 49h1M101 49h2M105 49h1M109 49h1M137 49h1M147 49h3M151 49h1M157 49h1M154 55h1"/><path stroke="#767676" d="M103 18h1M74 20h1M62 23h1M155 25h1M68 26h1M135 26h1M140 26h1M142 26h1M156 26h1M158 27h1M63 28h1M160 28h1M163 29h1M165 30h1M45 31h1M55 31h1M160 32h2M166 32h1M166 33h1M165 35h1M175 36h1M74 49h1M103 49h2M110 49h1M136 49h1M158 49h1M172 49h1M29 50h1M162 55h1M164 55h1"/><path stroke="#777777" d="M87 18h1M101 18h1M108 19h1M68 21h1M77 24h1M92 24h1M113 24h1M124 24h1M54 26h1M67 27h1M66 28h1M155 30h1M46 31h1M156 31h1M166 31h1M45 32h2M53 32h1M165 32h1M50 34h1M169 34h1M173 34h1M174 36h1M35 37h1M185 41h1M26 43h2M76 49h1M133 49h3M159 49h1M170 49h2M4 51h1M197 54h1M163 55h1"/><path stroke="#787878" d="M88 18h1M102 18h1M85 19h1M67 21h1M72 21h1M70 22h1M101 24h1M57 25h1M70 26h1M72 26h1M136 26h1M143 26h2M157 27h1M61 28h1M165 28h2M162 29h1M41 32h1M174 33h1M172 34h1M175 34h1M173 35h1M40 36h1M24 41h1M25 42h1M75 49h1M111 49h1M130 49h3M160 49h1M0 55h2"/><path stroke="#797979" d="M104 19h1M124 19h1M76 21h2M144 21h1M65 22h1M149 22h1M59 25h1M69 26h1M139 26h1M53 27h1M50 28h1M52 28h1M149 28h1M48 29h1M161 29h1M165 29h1M58 30h1M52 32h1M48 33h1M50 33h1M38 38h1M112 49h2M161 49h1M196 54h1M2 55h1M148 55h1M153 55h1"/><path stroke="#7a7a7a" d="M98 18h1M107 19h1M118 19h1M132 19h1M103 24h1M106 24h1M58 25h1M76 25h1M79 25h1M83 25h1M154 26h1M156 27h1M150 28h1M156 28h2M159 28h1M56 30h2M159 30h1M166 30h1M54 31h1M40 32h1M51 33h1M171 33h1M165 34h1M41 35h1M175 35h1M36 36h1M171 36h1M114 49h3M129 49h1M195 54h1M3 55h1M147 55h1M149 55h1"/><path stroke="#7b7b7b" d="M112 19h1M126 19h1M136 21h1M148 21h1M69 22h1M71 22h1M77 23h1M155 26h1M146 27h1M64 28h1M160 29h1M47 30h1M158 30h1M160 31h1M41 33h1M49 33h1M170 35h1M26 40h1M162 49h1M169 49h1M30 50h1M189 54h3M194 54h1M146 55h1M152 55h1"/><path stroke="#7c7c7c" d="M94 19h1M79 20h1M75 21h1M76 22h2M62 24h1M105 24h1M80 25h1M55 26h1M61 26h1M153 26h1M51 28h1M49 29h1M59 29h1M156 29h1M166 29h1M52 30h1M156 30h2M53 31h1M47 32h1M36 39h1M25 40h1M27 41h1M34 50h2M192 54h2M145 55h1M150 55h1"/><path stroke="#7d7d7d" d="M90 19h1M105 20h1M114 20h1M63 23h1M78 24h1M100 24h1M107 24h1M123 24h1M73 25h1M132 25h2M60 26h1M52 29h1M159 29h1M162 30h1M52 31h1M162 31h1M40 33h1M41 34h1M40 35h1M25 41h1M26 42h2M121 49h1M128 49h1M33 50h1M5 51h1M10 55h1M13 55h2M143 55h2M151 55h1"/><path stroke="#7e7e7e" d="M113 20h1M134 20h1M145 21h1M76 23h1M90 23h1M76 24h1M104 24h1M114 24h1M71 25h1M74 25h1M61 27h1M60 28h1M65 28h1M158 28h1M160 30h1M117 49h1M120 49h1M122 49h1M163 49h1M31 50h1M36 50h1M188 54h1M8 55h2M11 55h2M15 55h1M141 55h2"/><path stroke="#7f7f7f" d="M100 18h1M91 19h1M110 19h1M123 19h1M78 21h1M146 21h2M88 24h1M126 24h1M68 25h1M131 25h1M142 25h1M152 25h1M67 26h1M145 26h1M62 27h1M152 29h1M157 29h2M53 30h1M47 31h1M40 34h1M37 37h1M37 39h1M26 41h1M123 49h1M127 49h1M32 50h1M197 50h1M4 55h1M7 55h1M136 55h3"/><path stroke="#808080" d="M95 19h1M73 21h1M72 22h1M137 22h1M112 24h1M122 24h1M151 24h1M62 25h1M75 25h1M81 25h1M137 25h2M141 25h1M55 30h1M161 30h1M51 31h1M48 32h1M174 35h1M36 37h1M118 49h2M124 49h3M37 50h1M135 55h1M140 55h1"/><path stroke="#818181" d="M99 18h1M74 21h1M66 22h1M68 22h1M141 22h1M108 24h1M72 25h1M56 26h1M60 27h1M155 27h1M151 28h1M51 29h1M153 30h1M161 31h1M51 32h1M174 34h1M36 38h1M164 49h1M168 49h1M38 50h1M6 51h1M187 54h1M134 55h1M139 55h1"/><path stroke="#828282" d="M119 19h1M84 20h1M75 22h1M70 23h1M78 23h1M89 23h1M149 23h1M73 24h1M150 24h1M134 25h1M59 26h1M62 26h1M154 27h1M53 28h1M50 29h1M48 30h1M49 32h1M7 51h2M18 55h2M133 55h1"/><path stroke="#838383" d="M138 22h1M140 22h1M142 22h1M71 23h1M91 23h1M115 24h2M121 24h1M129 24h1M70 25h1M147 27h1M154 30h1M37 38h1M165 49h1M39 50h1M196 50h1M9 51h1M184 54h2M5 55h2M16 55h1M20 55h1"/><path stroke="#848484" d="M92 19h2M106 20h1M67 22h1M73 22h1M78 22h1M64 23h1M71 24h1M74 24h1M109 24h1M67 25h1M82 25h1M143 25h1M57 26h1M54 27h1M66 27h1M153 27h1M59 28h1M53 29h1M56 29h1M58 29h1M155 29h1M49 30h1M51 30h1M166 49h2M195 50h1M183 54h1M186 54h1"/><path stroke="#858585" d="M89 19h1M127 19h1M143 22h1M69 23h1M73 23h1M68 24h1M75 24h1M117 24h1M120 24h1M69 25h1M58 26h1M63 27h1M148 27h2M155 28h1M57 29h1M54 30h1M48 31h1M50 32h1M194 50h1M10 51h1M182 54h1M17 55h1"/><path stroke="#868686" d="M122 19h1M80 20h1M74 22h1M139 22h1M68 23h1M72 23h1M74 23h2M98 23h1M63 24h1M142 24h1M59 27h1M40 50h1M11 51h1M181 54h1"/><path stroke="#878787" d="M96 19h1M111 19h1M120 19h1M131 19h1M104 20h1M115 20h1M135 21h1M94 23h2M70 24h1M72 24h1M110 24h2M127 24h2M137 24h1M140 25h1M152 26h1M150 27h1M152 28h1M49 31h1M193 50h1M180 54h1M21 55h1M132 55h1"/><path stroke="#888888" d="M86 19h1M81 20h1M83 20h1M65 23h1M113 23h1M137 23h1M141 23h1M67 24h1M84 24h1M141 24h1M153 29h1M50 30h1M179 54h1"/><path stroke="#898989" d="M103 19h1M121 19h1M128 19h1M85 20h1M136 22h1M97 23h1M142 23h1M79 24h1M119 24h1M130 24h1M138 24h1M149 24h1M55 27h1M153 28h1M192 50h1M12 51h1M178 54h1M128 55h4"/><path stroke="#8a8a8a" d="M97 19h1M82 20h1M133 20h1M90 22h1M148 22h1M67 23h1M92 23h2M69 24h1M118 24h1M135 25h2M139 25h1M144 25h1M56 27h1M154 28h1M55 29h1M50 31h1M41 50h1M111 55h4M126 55h2"/><path stroke="#8b8b8b" d="M129 19h1M94 20h1M113 21h1M106 23h1M138 23h1M87 24h1M152 27h1M56 28h1M154 29h1M191 50h1M22 55h1M110 55h1M115 55h1M125 55h1"/><path stroke="#8c8c8c" d="M130 19h1M79 21h1M105 21h1M66 23h1M96 23h1M85 24h1M63 25h1M151 25h1M66 26h1M57 27h2M64 27h1M151 27h1M58 28h1M42 50h1M18 51h2M177 54h1M23 55h2M109 55h1M116 55h1M122 55h3"/><path stroke="#8d8d8d" d="M90 20h1M109 20h1M125 20h1M101 23h2M105 23h1M125 23h1M83 24h1M150 25h1M63 26h1M149 26h1M65 27h1M54 28h2M57 28h1M54 29h1M46 50h1M13 51h1M20 51h2M0 52h1M174 54h2M25 55h1M121 55h1"/><path stroke="#8e8e8e" d="M98 19h1M107 20h2M144 22h1M99 23h1M140 23h1M143 24h1M149 25h1M146 26h1M43 50h3M47 50h5M190 50h1M22 51h1M173 54h1M26 55h1M108 55h1M117 55h1"/><path stroke="#8f8f8f" d="M112 20h1M116 20h2M91 22h1M114 23h1M143 23h1M132 24h1M150 26h1M52 50h2M17 51h1M1 52h1M172 54h1M176 54h1M27 55h1M38 55h2M107 55h1M120 55h1"/><path stroke="#909090" d="M101 19h2M90 21h1M114 21h1M89 22h1M113 22h1M107 23h1M124 23h1M64 24h1M80 24h1M86 24h1M131 24h1M133 24h1M140 24h1M66 25h1M23 51h1M28 55h1M37 55h1M118 55h2"/><path stroke="#919191" d="M88 19h1M118 20h1M106 21h1M134 21h1M88 23h1M66 24h1M148 26h1M151 26h1M54 50h1M63 50h3M177 50h3M189 50h1M14 51h1M2 52h1M189 53h4M197 53h1M171 54h1M36 55h1M40 55h1"/><path stroke="#929292" d="M87 19h1M91 20h1M95 20h1M124 20h1M84 21h1M105 22h1M147 22h1M79 23h1M104 23h1M112 23h1M136 23h1M139 23h1M136 24h1M145 25h1M55 50h1M68 50h1M176 50h1M180 50h2M193 53h2M170 54h1M106 55h1"/><path stroke="#939393" d="M106 22h1M135 22h1M148 23h1M65 24h1M134 24h1M56 50h1M66 50h2M69 50h1M175 50h1M16 51h1M24 51h1M197 51h1M3 52h1M195 53h2M35 55h1M41 55h1"/><path stroke="#949494" d="M79 22h1M100 23h1M103 23h1M139 24h1M70 50h1M15 51h1M188 53h1M29 55h1M72 55h1M105 55h1"/><path stroke="#959595" d="M89 20h1M94 21h1M104 21h1M94 22h1M145 22h1M57 50h1M62 50h1M89 50h2M174 50h1M25 51h1M194 51h3M1 54h3M8 54h3M169 54h1M42 55h1M71 55h1M73 55h1"/><path stroke="#969696" d="M99 19h2M98 22h1M146 22h1M84 23h1M108 23h1M81 24h1M135 24h1M64 26h2M147 26h1M71 50h1M87 50h2M91 50h1M182 50h1M188 50h1M26 51h1M193 51h1M0 54h1M34 55h1"/><path stroke="#979797" d="M93 20h1M126 20h1M83 21h1M91 21h1M115 23h1M123 23h1M148 24h1M64 25h1M148 25h1M58 50h1M85 50h2M92 50h2M173 50h1M27 51h1M11 54h1M168 54h1M43 55h1M74 55h1M101 55h1M104 55h1"/><path stroke="#989898" d="M119 20h1M132 20h1M85 21h1M89 21h1M114 22h1M109 23h1M135 23h1M82 24h1M144 24h1M65 25h1M61 50h1M72 50h1M83 50h2M94 50h1M192 51h1M4 52h1M194 52h1M197 52h1M33 55h1M70 55h1M75 55h1M96 55h1M100 55h1"/><path stroke="#999999" d="M98 20h1M103 20h1M123 20h1M80 21h1M95 22h1M59 50h1M28 51h1M192 52h2M195 52h1M4 54h1M7 54h1M12 54h2M44 55h1M95 55h1M97 55h1M102 55h2"/><path stroke="#9a9a9a" d="M92 20h1M82 21h1M107 21h1M84 22h1M92 22h1M104 22h1M107 22h1M83 23h1M110 23h1M116 23h1M126 23h1M144 23h1M60 50h1M82 50h1M95 50h1M172 50h1M191 51h1M196 52h1M187 53h1M14 54h1M167 54h1M30 55h1M32 55h1M45 55h1M62 55h1M76 55h1M94 55h1M99 55h1"/><path stroke="#9b9b9b" d="M86 20h1M110 20h1M81 21h1M112 21h1M112 22h1M134 22h1M111 23h1M120 23h2M129 23h1M79 50h1M183 50h1M187 50h1M11 52h1M191 52h1M31 55h1M63 55h1M98 55h1"/><path stroke="#9c9c9c" d="M93 22h1M122 23h1M130 23h1M134 23h1M73 50h1M80 50h2M10 52h1M12 52h1M0 53h4M46 55h1M61 55h1M64 55h3M69 55h1"/><path stroke="#9d9d9d" d="M120 20h1M95 21h1M98 21h1M115 21h1M83 22h1M97 22h1M101 22h1M80 23h1M85 23h1M117 23h1M78 50h1M171 50h1M184 50h1M186 50h1M29 51h1M190 51h1M9 52h1M190 52h1M5 54h2M47 55h1M60 55h1M67 55h2M77 55h1"/><path stroke="#9e9e9e" d="M108 21h1M133 21h1M125 22h1M119 23h1M132 23h2M146 25h1M185 50h1M13 52h1M186 53h1M15 54h1M48 55h1M78 55h1M89 55h1M93 55h1"/><path stroke="#9f9f9f" d="M96 20h2M125 21h1M99 22h1M118 23h1M131 23h1M106 50h3M5 52h1M8 52h1M189 52h1M166 54h1M49 55h1M84 55h3M88 55h1M90 55h1"/><path stroke="#a0a0a0" d="M109 21h1M102 22h1M147 23h1M74 50h1M77 50h1M96 50h1M109 50h1M170 50h1M14 52h1M18 52h1M4 53h1M184 53h2M50 55h1M59 55h1M79 55h1M83 55h1M87 55h1"/><path stroke="#a1a1a1" d="M99 20h1M101 20h1M111 20h1M121 20h2M127 20h1M92 21h2M80 22h1M85 22h1M88 22h1M108 22h1M128 23h1M145 24h1M147 25h1M110 50h1M144 50h2M189 51h1M7 52h1M17 52h1M155 54h3M51 55h1M57 55h2M91 55h1"/><path stroke="#a2a2a2" d="M102 20h1M128 20h2M118 21h1M96 22h1M115 22h1M124 22h1M81 23h1M75 50h2M143 50h1M146 50h1M6 52h1M15 52h1M183 53h1M18 54h1M158 54h1M56 55h1M82 55h1M92 55h1"/><path stroke="#a3a3a3" d="M88 20h1M100 20h1M131 20h1M117 21h1M82 22h1M100 22h1M109 22h1M82 23h1M87 23h1M145 23h1M105 50h1M111 50h1M113 50h1M142 50h1M19 52h1M188 52h1M9 53h1M165 54h1M52 55h1M55 55h1M80 55h1"/><path stroke="#a4a4a4" d="M103 21h1M124 21h1M81 22h1M103 22h1M133 22h1M127 23h1M112 50h1M114 50h2M147 50h2M30 51h1M16 52h1M8 53h1M10 53h1M16 54h1M19 54h1M154 54h1M159 54h3M81 55h1"/><path stroke="#a5a5a5" d="M130 20h1M99 21h1M101 21h1M116 21h1M147 24h1M97 50h1M104 50h1M116 50h1M149 50h1M153 50h4M182 53h1M53 55h2"/><path stroke="#a6a6a6" d="M87 20h1M97 21h1M119 21h1M146 23h1M102 50h2M141 50h1M150 50h1M152 50h1M157 50h1M169 50h1M20 52h1M5 53h1M7 53h1M11 53h1M17 54h1"/><path stroke="#a7a7a7" d="M86 23h1M100 50h2M139 50h2M151 50h1M12 53h1M181 53h1M20 54h1M162 54h1M164 54h1"/><path stroke="#a8a8a8" d="M100 21h1M102 21h1M110 22h1M116 22h3M120 22h1M98 50h2M138 50h1M158 50h1M188 51h1M6 53h1M153 54h1"/><path stroke="#a9a9a9" d="M86 21h1M88 21h1M111 22h1M119 22h1M146 24h1M117 50h1M137 50h1M159 50h1M31 51h1M34 51h1M13 53h1M147 54h2M163 54h1"/><path stroke="#aaaaaa" d="M96 21h1M120 21h1M132 21h1M132 22h1M120 50h1M135 50h2M160 50h1M33 51h1M35 51h2M21 52h1M187 52h1M14 53h1M180 53h1M21 54h1M144 54h3M149 54h1"/><path stroke="#ababab" d="M110 21h1M126 21h1M121 22h1M123 22h1M118 50h2M134 50h1M161 50h1M32 51h1M179 53h1M142 54h2"/><path stroke="#acacac" d="M123 21h1M129 22h1M121 50h1M133 50h1M37 51h1M141 54h1M152 54h1"/><path stroke="#adadad" d="M126 22h1M130 22h1M132 50h1M168 50h1M178 53h1M150 54h1"/><path stroke="#aeaeae" d="M111 21h1M121 21h1M131 22h1M130 50h2M162 50h1M22 52h1M15 53h1M173 53h2M177 53h1M22 54h1M137 54h2M140 54h1M151 54h1"/><path stroke="#afafaf" d="M129 21h1M86 22h1M38 51h1M186 52h1M18 53h1M172 53h1M175 53h1"/><path stroke="#b0b0b0" d="M87 22h1M122 22h1M122 50h1M187 51h1M171 53h1M23 54h2M136 54h1M139 54h1"/><path stroke="#b1b1b1" d="M87 21h1M131 21h1M129 50h1M163 50h1M167 50h1M39 51h1M185 52h1M19 53h1M176 53h1M25 54h4"/><path stroke="#b2b2b2" d="M122 21h1M128 21h1M130 21h1M128 22h1M183 52h2M16 53h2M170 53h1M135 54h1"/><path stroke="#b3b3b3" d="M123 50h1M128 50h1M164 50h1M166 50h1M23 52h1M182 52h1M20 53h1"/><path stroke="#b4b4b4" d="M165 50h1M169 53h1M29 54h1M39 54h1M134 54h1"/><path stroke="#b5b5b5" d="M127 21h1M124 50h1M127 50h1M40 51h1M181 52h1M21 53h1M36 54h3M40 54h1"/><path stroke="#b6b6b6" d="M127 22h1M125 50h2M182 51h1M186 51h1M24 52h1M35 54h1M115 54h3M120 54h2"/><path stroke="#b7b7b7" d="M181 51h1M180 52h1M22 53h1M24 53h4M168 53h1M41 54h1M114 54h1M118 54h2M133 54h1"/><path stroke="#b8b8b8" d="M183 51h1M185 51h1M23 53h1M28 53h1M34 54h1M113 54h1M122 54h1"/><path stroke="#b9b9b9" d="M62 51h2M180 51h1M184 51h1M25 52h1M179 52h1M42 54h1M111 54h2M123 54h1"/><path stroke="#bababa" d="M41 51h1M56 51h1M64 51h1M178 52h1M30 54h4M110 54h1"/><path stroke="#bbbbbb" d="M52 51h2M55 51h1M57 51h1M61 51h1M84 51h2M179 51h1M26 52h1M177 52h1M167 53h1M43 54h1M124 54h1"/><path stroke="#bcbcbc" d="M45 51h2M50 51h2M54 51h1M58 51h3M83 51h1M86 51h1M178 51h1M27 52h1M109 54h1M132 54h1"/><path stroke="#bdbdbd" d="M42 51h1M47 51h3M65 51h1M28 52h1M174 52h2M29 53h1M44 54h1M108 54h1M125 54h1"/><path stroke="#bebebe" d="M43 51h2M87 51h1M177 51h1M176 52h1M126 54h1M131 54h1"/><path stroke="#bfbfbf" d="M82 51h1M173 52h1M45 54h1M107 54h1M127 54h1M129 54h2"/><path stroke="#c0c0c0" d="M66 51h1M88 51h1M176 51h1M46 54h1M128 54h1"/><path stroke="#c1c1c1" d="M67 51h1M175 51h1M29 52h1M172 52h1"/><path stroke="#c2c2c2" d="M68 51h1M89 51h1M173 51h2M166 53h1M47 54h1M106 54h1"/><path stroke="#c3c3c3" d="M69 51h1M81 51h1M170 51h3"/><path stroke="#c4c4c4" d="M90 51h1M169 51h1M171 52h1M48 54h1"/><path stroke="#c5c5c5" d="M70 51h1M80 51h1M30 53h1M49 54h1M72 54h1"/><path stroke="#c6c6c6" d="M71 51h1M79 51h1M148 53h1M71 54h1M75 54h1M94 54h2M105 54h1"/><path stroke="#c7c7c7" d="M147 53h1M149 53h1M155 53h1M50 54h1M73 54h2M76 54h1M96 54h1"/><path stroke="#c8c8c8" d="M72 51h1M78 51h1M91 51h1M168 51h1M30 52h1M35 52h3M170 52h1M31 53h1M145 53h2M154 53h1M165 53h1M77 54h1M89 54h1"/><path stroke="#c9c9c9" d="M93 51h2M34 52h1M38 52h1M153 53h1M156 53h1M90 54h1M93 54h1"/><path stroke="#cacaca" d="M92 51h1M51 54h1M70 54h1M78 54h1M88 54h1M104 54h1"/><path stroke="#cbcbcb" d="M95 51h1M156 51h2M161 51h1M167 51h1M31 52h1M33 52h1M39 52h1M32 53h1M144 53h1M150 53h1M152 53h1M79 54h1M91 54h1M97 54h1"/><path stroke="#cccccc" d="M73 51h1M77 51h1M155 51h1M160 51h1M32 52h1M157 53h1M62 54h2M65 54h2M69 54h1M87 54h1M92 54h1"/><path stroke="#cdcdcd" d="M144 51h2M154 51h1M158 51h2M169 52h1M33 53h1M143 53h1M151 53h1M161 53h1M52 54h1M64 54h1M67 54h2M85 54h2M100 54h4"/><path stroke="#cecece" d="M76 51h1M143 51h1M146 51h1M153 51h1M162 51h1M166 51h1M40 52h1M34 53h1M164 53h1M61 54h1M84 54h1M98 54h2"/><path stroke="#cfcfcf" d="M74 51h2M96 51h1M106 51h3M113 51h3M142 51h1M147 51h1M35 53h2M142 53h1M158 53h1M160 53h1M162 53h1M80 54h1M83 54h1"/><path stroke="#d0d0d0" d="M109 51h4M116 51h1M132 51h5M148 51h1M163 51h1M165 51h1M130 52h1M37 53h3M141 53h1M159 53h1M163 53h1M82 54h1"/><path stroke="#d1d1d1" d="M131 51h1M137 51h3M141 51h1M149 51h1M152 51h1M164 51h1M131 52h2M40 53h1M53 54h1M60 54h1M81 54h1"/><path stroke="#d2d2d2" d="M105 51h1M130 51h1M140 51h1M41 52h1M129 52h1M41 53h1M89 53h2M133 53h5M55 54h1"/><path stroke="#d3d3d3" d="M117 51h1M120 51h1M150 51h2M133 52h1M168 52h1M138 53h1M54 54h1"/><path stroke="#d4d4d4" d="M101 51h4M119 51h1M42 53h1M88 53h1M94 53h1M140 53h1M56 54h2M59 54h1"/><path stroke="#d5d5d5" d="M97 51h1M100 51h1M118 51h1M121 51h1M129 51h1M42 52h1M56 52h1M128 52h1M43 53h3M91 53h1M93 53h1M132 53h1M139 53h1"/><path stroke="#d6d6d6" d="M99 51h1M43 52h4M55 52h1M134 52h1M46 53h1M92 53h1M58 54h1"/><path stroke="#d7d7d7" d="M98 51h1M47 52h2M57 52h1M127 52h1M95 53h1M131 53h1"/><path stroke="#d8d8d8" d="M128 51h1M49 52h6M62 52h2M47 53h1M87 53h1M130 53h1"/><path stroke="#d9d9d9" d="M122 51h1M58 52h1M60 52h2M64 52h1M135 52h1"/><path stroke="#dadada" d="M59 52h1M65 52h1M126 52h1M167 52h1M48 53h1M115 53h2"/><path stroke="#dbdbdb" d="M127 51h1M66 52h1M86 53h1M114 53h1M117 53h1M129 53h1"/><path stroke="#dcdcdc" d="M123 51h1M126 51h1M67 52h1M121 52h1M125 52h1M136 52h1M49 53h1M96 53h1"/><path stroke="#dddddd" d="M124 51h2M68 52h1M114 52h2M120 52h1M113 53h1M118 53h3"/><path stroke="#dedede" d="M86 52h1M111 52h3M116 52h1M119 52h1M50 53h1M85 53h1M128 53h1"/><path stroke="#dfdfdf" d="M69 52h1M85 52h1M87 52h2M110 52h1M122 52h1M124 52h1M137 52h1M112 53h1M121 53h1"/><path stroke="#e0e0e0" d="M89 52h1M109 52h1M117 52h2M123 52h1M138 52h1M111 53h1"/><path stroke="#e1e1e1" d="M70 52h1M84 52h1M166 52h1M51 53h1M84 53h1M127 53h1"/><path stroke="#e2e2e2" d="M90 52h1M141 52h3M97 53h1"/><path stroke="#e3e3e3" d="M71 52h1M108 52h1M144 52h1M110 53h1M122 53h1M126 53h1"/><path stroke="#e4e4e4" d="M83 52h1M139 52h2M52 53h1"/><path stroke="#e5e5e5" d="M107 52h1M145 52h1M83 53h1M109 53h1M123 53h1M125 53h1"/><path stroke="#e6e6e6" d="M91 52h1M124 53h1"/><path stroke="#e7e7e7" d="M72 52h1M93 52h2M165 52h1M98 53h1M108 53h1"/><path stroke="#e8e8e8" d="M82 52h1M92 52h1M106 52h1M161 52h1M53 53h1"/><path stroke="#e9e9e9" d="M95 52h1M146 52h1M160 52h1M82 53h1M99 53h1M107 53h1"/><path stroke="#eaeaea" d="M162 52h1M54 53h1M100 53h1"/><path stroke="#ebebeb" d="M81 52h1M156 52h2M164 52h1M55 53h1M71 53h1M101 53h1M106 53h1"/><path stroke="#ececec" d="M147 52h1M155 52h1M158 52h2M163 52h1M62 53h2M72 53h1"/><path stroke="#ededed" d="M73 52h1M80 52h1M56 53h1M64 53h7M81 53h1"/><path stroke="#eeeeee" d="M79 52h1M96 52h1M105 52h1M148 52h1M154 52h1M61 53h1M79 53h2M102 53h1M105 53h1"/><path stroke="#efefef" d="M57 53h1M73 53h1M78 53h1"/><path stroke="#f0f0f0" d="M78 52h1M60 53h1M74 53h4M103 53h2"/><path stroke="#f1f1f1" d="M74 52h1M153 52h1"/><path stroke="#f2f2f2" d="M75 52h3M149 52h1M58 53h2"/><path stroke="#f3f3f3" d="M104 52h1"/><path stroke="#f4f4f4" d="M97 52h1"/><path stroke="#f5f5f5" d="M150 52h1M152 52h1"/><path stroke="#f6f6f6" d="M103 52h1"/><path stroke="#f7f7f7" d="M102 52h1M151 52h1"/><path stroke="#f8f8f8" d="M98 52h1M100 52h2"/><path stroke="#f9f9f9" d="M99 52h1"/></g></g>
</g></g>
<rect x="609.6" y="320.2" width="144" height="216.4" fill="#fff" fill-opacity=".38"/>
<rect x="610.2" y="320.8" width="142.8" height="215.2" fill="none" stroke="#fff" stroke-width="3.2" stroke-dasharray="12.4 4.1"/>
<rect x="128.8" y="514.3" width="143.6" height="8.5" fill="#fff"/>
<line x1="93.3" y1="318.5" x2="108.3" y2="318.5" stroke="#000" stroke-width="2.7"/>
<text font-size="25" text-anchor="end" x="82.4" y="327.8">0</text>
<line x1="93.3" y1="391.3" x2="108.3" y2="391.3" stroke="#000" stroke-width="2.7"/>
<text font-size="25" text-anchor="end" x="82.4" y="400.6">5</text>
<line x1="93.3" y1="464.1" x2="108.3" y2="464.1" stroke="#000" stroke-width="2.7"/>
<text font-size="25" text-anchor="end" x="82.4" y="473.4">10</text>
<line x1="93.3" y1="536.9" x2="108.3" y2="536.9" stroke="#000" stroke-width="2.7"/>
<text font-size="25" text-anchor="end" x="82.4" y="546.2">15</text>
<line x1="107.3" y1="318.5" x2="1256.3" y2="318.5" stroke="#000" stroke-width="2.9"/>
<line x1="107.3" y1="537.2" x2="1256.3" y2="537.2" stroke="#000" stroke-width="2.6"/>
<line x1="108.25" y1="317.05" x2="108.25" y2="538.5" stroke="#000" stroke-width="1.9"/>
<line x1="1255.3" y1="317.05" x2="1255.3" y2="538.5" stroke="#000" stroke-width="2.0"/>
<text font-size="25" text-anchor="middle" textLength="219" lengthAdjust="spacingAndGlyphs" transform="translate(40.6,432.5) rotate(-90)">Probe position (nm)</text>
<text transform="translate(-1.2,305.5) scale(1.06,0.885)" font-size="34.5" font-weight="bold" stroke="#000" stroke-width=".5">b</text>
<rect x="1275.35" y="316.85" width="26.600000000000044" height="217.39999999999995" fill="url(#gHot)" stroke="#000" stroke-width="2.1"/>
<line x1="1302.5" y1="347.9" x2="1317.2" y2="347.9" stroke="#000" stroke-width="2.2"/>
<text font-size="25" x="1321.3" y="357.1">0.25</text>
<line x1="1302.5" y1="421.8" x2="1317.2" y2="421.8" stroke="#000" stroke-width="2.2"/>
<text font-size="25" x="1321.3" y="431.0">0.15</text>
<line x1="1302.5" y1="495.7" x2="1317.2" y2="495.7" stroke="#000" stroke-width="2.2"/>
<text font-size="25" x="1321.3" y="504.9">0.05</text>
<text font-size="25" text-anchor="middle" textLength="143" lengthAdjust="spacingAndGlyphs" transform="translate(1400.5,433) rotate(-90)">Composition</text>
<text font-size="25" text-anchor="middle" textLength="168" lengthAdjust="spacingAndGlyphs" transform="translate(1430.5,433) rotate(-90)">gradient (x/nm)</text>
</g>
<g id="panelC">
<g clip-path="url(#cpC)"><g filter="url(#jet)">
<rect x="100" y="590" width="1165" height="152" fill="url(#gCtopV)"/>
<g filter="url(#blC)"><path d="M122.3 735.3H145.0V741H122.3ZM144.6 727.7H167.3V741H144.6ZM166.9 720.1H189.6V741H166.9ZM189.2 714.4H211.9V741H189.2ZM211.5 706.8H234.2V741H211.5ZM233.8 701.1H256.5V741H233.8ZM256.1 695.4H278.8V741H256.1ZM278.4 689.7H301.1V741H278.4ZM300.7 684.0H323.4V741H300.7ZM323.0 680.2H345.7V741H323.0ZM345.3 674.5H368.0V741H345.3ZM367.6 670.7H390.3V741H367.6ZM389.9 666.9H412.6V741H389.9ZM412.2 663.1H434.9V741H412.2ZM434.5 659.3H457.2V741H434.5ZM456.8 657.4H479.5V741H456.8ZM479.1 653.6H501.8V741H479.1ZM501.4 651.7H524.1V741H501.4ZM523.7 649.8H546.4V741H523.7ZM546.0 647.9H568.7V741H546.0ZM568.3 647.9H591.0V741H568.3ZM590.6 646.0H613.3V741H590.6ZM612.9 646.0H635.6V741H612.9ZM635.2 646.0H657.9V741H635.2ZM657.5 646.0H680.2V741H657.5ZM679.8 646.0H702.5V741H679.8ZM702.1 646.0H724.8V741H702.1ZM724.4 646.0H747.1V741H724.4ZM746.7 646.0H769.4V741H746.7ZM769.0 647.9H791.7V741H769.0ZM791.3 647.9H814.0V741H791.3ZM813.6 649.8H836.3V741H813.6ZM835.9 651.7H858.6V741H835.9ZM858.2 653.6H880.9V741H858.2ZM880.5 657.4H903.2V741H880.5ZM902.8 659.3H925.5V741H902.8ZM925.1 663.1H947.8V741H925.1ZM947.4 666.9H970.1V741H947.4ZM969.7 670.7H992.4V741H969.7ZM992.0 674.5H1014.7V741H992.0ZM1014.3 680.2H1037.0V741H1014.3ZM1036.6 684.0H1059.3V741H1036.6ZM1058.9 689.7H1081.6V741H1058.9ZM1081.2 695.4H1103.9V741H1081.2ZM1103.5 701.1H1126.2V741H1103.5ZM1125.8 706.8H1148.5V741H1125.8ZM1148.1 714.4H1170.8V741H1148.1ZM1170.4 720.1H1193.1V741H1170.4ZM1192.7 727.7H1215.4V741H1192.7ZM1215.0 735.3H1237.7V741H1215.0Z" fill="#000"/></g>
<rect x="100" y="739.7" width="1165" height="1.4" fill="#c4c4c4"/>
<rect x="100" y="740.6" width="1165" height="80" fill="url(#gCbotV)"/>
</g></g>
<rect x="130" y="785" width="143.2" height="8.6" fill="#fff"/>
<line x1="93.3" y1="593.8" x2="108.3" y2="593.8" stroke="#000" stroke-width="2.7"/>
<text font-size="25" text-anchor="end" x="82.4" y="603.1">0</text>
<line x1="93.3" y1="666.55" x2="108.3" y2="666.55" stroke="#000" stroke-width="2.7"/>
<text font-size="25" text-anchor="end" x="82.4" y="675.85">5</text>
<line x1="93.3" y1="739.3" x2="108.3" y2="739.3" stroke="#000" stroke-width="2.7"/>
<text font-size="25" text-anchor="end" x="82.4" y="748.6">10</text>
<line x1="93.3" y1="812.05" x2="108.3" y2="812.05" stroke="#000" stroke-width="2.7"/>
<text font-size="25" text-anchor="end" x="82.4" y="821.35">15</text>
<line x1="107.3" y1="594.0" x2="1255.6" y2="594.0" stroke="#000" stroke-width="2.5"/>
<line x1="107.3" y1="813.5" x2="1255.6" y2="813.5" stroke="#000" stroke-width="2.2"/>
<line x1="108.25" y1="592.75" x2="108.25" y2="814.6" stroke="#000" stroke-width="1.9"/>
<line x1="1254.6" y1="592.75" x2="1254.6" y2="814.6" stroke="#000" stroke-width="2.0"/>
<text font-size="25" text-anchor="middle" textLength="219" lengthAdjust="spacingAndGlyphs" transform="translate(40.6,707.2) rotate(-90)">Probe position (nm)</text>
<text transform="translate(0.2,585.0) scale(1.13,1.0)" font-size="34.5" font-weight="bold" stroke="#000" stroke-width=".5">c</text>
<rect x="1275.45" y="594.25" width="28.099999999999817" height="218.99999999999991" fill="url(#gJetC)" stroke="#000" stroke-width="2.1"/>
<line x1="1304.1" y1="626.7" x2="1318.5" y2="626.7" stroke="#000" stroke-width="2.2"/>
<text font-size="25" x="1321.2" y="635.9">15</text>
<line x1="1304.1" y1="675.9" x2="1318.5" y2="675.9" stroke="#000" stroke-width="2.2"/>
<text font-size="25" x="1321.2" y="685.1">10</text>
<line x1="1304.1" y1="727.3" x2="1318.5" y2="727.3" stroke="#000" stroke-width="2.2"/>
<text font-size="25" x="1321.2" y="736.5">5</text>
<line x1="1304.1" y1="779.3" x2="1318.5" y2="779.3" stroke="#000" stroke-width="2.2"/>
<text font-size="25" x="1321.2" y="788.5">0</text>
<text font-size="25" text-anchor="middle" textLength="270" lengthAdjust="spacingAndGlyphs" transform="translate(1401.2,725) rotate(-90)">Non-equilibrium phonon</text>
<text font-size="25" text-anchor="middle" textLength="197" lengthAdjust="spacingAndGlyphs" transform="translate(1431,724.2) rotate(-90)">enhancement (%)</text>
</g>
<g id="panelD">
<g clip-path="url(#cpD)">
<g stroke="#1a0000" stroke-width=".75"><rect x="1568.58" y="473.6" width="5.03" height="1.7" fill="#2c0000"/><rect x="1573.61" y="473.6" width="5.03" height="1.7" fill="#2c0000"/><rect x="1578.64" y="473.6" width="5.03" height="1.7" fill="#2c0000"/><rect x="1583.67" y="473.6" width="5.03" height="1.7" fill="#2c0000"/><rect x="1588.70" y="473.6" width="5.03" height="1.7" fill="#2c0000"/><rect x="1593.73" y="473.6" width="5.03" height="1.7" fill="#2c0000"/><rect x="1598.76" y="473.5" width="5.03" height="1.8" fill="#2c0000"/><rect x="1603.79" y="473.2" width="5.03" height="2.1" fill="#2e0000"/><rect x="1608.82" y="472.8" width="5.03" height="2.5" fill="#300000"/><rect x="1613.85" y="472.3" width="5.03" height="3.0" fill="#320000"/><rect x="1618.88" y="471.7" width="5.03" height="3.6" fill="#350000"/><rect x="1623.91" y="471.0" width="5.03" height="4.3" fill="#380000"/><rect x="1628.94" y="470.2" width="5.03" height="5.1" fill="#3c0000"/><rect x="1633.97" y="469.0" width="5.03" height="6.3" fill="#410000"/><rect x="1639.00" y="467.4" width="5.03" height="7.9" fill="#490000"/><rect x="1644.03" y="464.8" width="5.03" height="10.5" fill="#550000"/><rect x="1649.06" y="461.5" width="5.03" height="13.8" fill="#650000"/><rect x="1654.09" y="455.0" width="5.03" height="20.3" fill="#830000"/><rect x="1659.12" y="446.3" width="5.03" height="29.0" fill="#ac0000"/><rect x="1664.15" y="435.3" width="5.03" height="40.0" fill="#df0000"/><rect x="1669.18" y="421.0" width="5.03" height="54.3" fill="#ff0000"/><rect x="1674.21" y="405.4" width="5.03" height="69.9" fill="#ff0d00"/><rect x="1679.24" y="390.8" width="5.03" height="84.5" fill="#ff3c00"/><rect x="1684.27" y="376.9" width="5.03" height="98.4" fill="#ff6800"/><rect x="1689.30" y="366.3" width="5.03" height="109.0" fill="#ff8a00"/><rect x="1694.33" y="361.1" width="5.03" height="114.2" fill="#ff9a00"/><rect x="1699.36" y="361.1" width="5.03" height="114.2" fill="#ff9a00"/><rect x="1704.39" y="365.9" width="5.03" height="109.4" fill="#ff8b00"/><rect x="1709.42" y="374.0" width="5.03" height="101.3" fill="#ff7100"/><rect x="1714.45" y="383.4" width="5.03" height="91.9" fill="#ff5300"/><rect x="1719.48" y="393.5" width="5.03" height="81.8" fill="#ff3300"/><rect x="1724.51" y="402.3" width="5.03" height="73.0" fill="#ff1700"/><rect x="1729.54" y="410.0" width="5.03" height="65.3" fill="#ff0000"/><rect x="1734.57" y="416.3" width="5.03" height="59.0" fill="#ff0000"/><rect x="1739.60" y="421.9" width="5.03" height="53.4" fill="#ff0000"/><rect x="1744.63" y="425.6" width="5.03" height="49.7" fill="#ff0000"/><rect x="1749.66" y="427.4" width="5.03" height="47.9" fill="#ff0000"/><rect x="1754.69" y="429.4" width="5.03" height="45.9" fill="#fb0000"/><rect x="1759.72" y="431.5" width="5.03" height="43.8" fill="#f10000"/><rect x="1764.75" y="436.2" width="5.03" height="39.1" fill="#db0000"/><rect x="1769.78" y="442.6" width="5.03" height="32.7" fill="#bd0000"/><rect x="1774.81" y="448.5" width="5.03" height="26.8" fill="#a10000"/><rect x="1779.84" y="453.4" width="5.03" height="21.9" fill="#8a0000"/><rect x="1784.87" y="456.0" width="5.03" height="19.3" fill="#7e0000"/><rect x="1789.90" y="457.6" width="5.03" height="17.7" fill="#770000"/><rect x="1794.93" y="458.4" width="5.03" height="16.9" fill="#730000"/><rect x="1799.96" y="460.1" width="5.03" height="15.2" fill="#6b0000"/><rect x="1804.99" y="464.5" width="5.03" height="10.8" fill="#560000"/><rect x="1810.02" y="466.5" width="5.03" height="8.8" fill="#4d0000"/><rect x="1815.05" y="466.2" width="5.03" height="9.1" fill="#4f0000"/><rect x="1820.08" y="466.9" width="5.03" height="8.4" fill="#4b0000"/><rect x="1825.11" y="468.6" width="5.03" height="6.7" fill="#430000"/><rect x="1830.14" y="464.5" width="5.03" height="10.8" fill="#560000"/><rect x="1835.17" y="458.5" width="5.03" height="16.8" fill="#730000"/><rect x="1840.20" y="453.6" width="5.03" height="21.7" fill="#8a0000"/><rect x="1845.23" y="444.2" width="5.03" height="31.1" fill="#b60000"/><rect x="1850.26" y="427.4" width="5.03" height="47.9" fill="#ff0000"/><rect x="1855.29" y="400.5" width="5.03" height="74.8" fill="#ff1d00"/><rect x="1860.32" y="368.0" width="5.03" height="107.3" fill="#ff8400"/><rect x="1865.35" y="332.5" width="5.03" height="142.8" fill="#fff600"/><rect x="1870.38" y="302.0" width="5.03" height="173.3" fill="#ffff58"/><rect x="1875.41" y="284.0" width="5.03" height="191.3" fill="#ffff92"/><rect x="1880.44" y="280.3" width="5.03" height="195.0" fill="#ffff9d"/><rect x="1885.47" y="293.9" width="5.03" height="181.4" fill="#ffff72"/><rect x="1890.50" y="321.0" width="5.03" height="154.3" fill="#ffff1b"/><rect x="1895.53" y="354.0" width="5.03" height="121.3" fill="#ffb100"/><rect x="1900.56" y="385.4" width="5.03" height="89.9" fill="#ff4d00"/><rect x="1905.59" y="410.3" width="5.03" height="65.0" fill="#ff0000"/><rect x="1910.62" y="429.4" width="5.03" height="45.9" fill="#fb0000"/><rect x="1915.65" y="442.5" width="5.03" height="32.8" fill="#be0000"/><rect x="1920.68" y="451.1" width="5.03" height="24.2" fill="#950000"/><rect x="1925.71" y="457.8" width="5.03" height="17.5" fill="#760000"/><rect x="1930.74" y="463.3" width="5.03" height="12.0" fill="#5c0000"/><rect x="1935.77" y="466.5" width="5.03" height="8.8" fill="#4d0000"/><rect x="1940.80" y="469.0" width="5.03" height="6.3" fill="#410000"/><rect x="1945.83" y="470.2" width="5.03" height="5.1" fill="#3c0000"/><rect x="1950.86" y="471.2" width="5.03" height="4.1" fill="#370000"/><rect x="1955.89" y="471.8" width="5.03" height="3.5" fill="#340000"/><rect x="1960.92" y="472.3" width="5.03" height="3.0" fill="#320000"/><rect x="1965.95" y="472.7" width="5.03" height="2.6" fill="#300000"/><rect x="1970.98" y="473.0" width="5.03" height="2.3" fill="#2f0000"/><rect x="1976.01" y="473.3" width="5.03" height="2.0" fill="#2d0000"/><rect x="1981.04" y="473.4" width="5.03" height="1.9" fill="#2d0000"/><rect x="1986.07" y="473.4" width="5.03" height="1.9" fill="#2d0000"/><rect x="1991.10" y="473.4" width="5.03" height="1.9" fill="#2d0000"/><rect x="1996.13" y="473.5" width="5.03" height="1.8" fill="#2c0000"/><rect x="2001.16" y="473.6" width="5.03" height="1.8" fill="#2c0000"/><rect x="2006.19" y="473.6" width="5.03" height="1.7" fill="#2c0000"/><rect x="2011.22" y="473.7" width="5.03" height="1.6" fill="#2c0000"/><rect x="2016.25" y="473.7" width="5.03" height="1.6" fill="#2b0000"/><rect x="2021.28" y="473.8" width="5.03" height="1.6" fill="#2b0000"/><rect x="2026.31" y="473.8" width="5.03" height="1.5" fill="#2b0000"/><rect x="2031.34" y="473.9" width="5.03" height="1.4" fill="#2b0000"/><rect x="2036.37" y="473.9" width="5.03" height="1.4" fill="#2a0000"/></g>
<path d="M1571.10 472.8V474.0M1568.70 472.8h4.8M1576.13 472.8V474.0M1573.73 472.8h4.8M1581.16 472.8V474.0M1578.76 472.8h4.8M1586.19 472.8V474.0M1583.79 472.8h4.8M1591.22 472.8V474.0M1588.82 472.8h4.8M1596.25 472.8V474.0M1593.85 472.8h4.8M1601.28 472.7V474.0M1598.88 472.7h4.8M1606.31 472.4V474.0M1603.91 472.4h4.8M1611.34 472.0V473.6M1608.94 472.0h4.8M1616.37 471.5V473.1M1613.97 471.5h4.8M1621.40 469.1V474.0M1619.00 469.1h4.8M1626.43 468.3V473.7M1624.03 468.3h4.8M1631.46 467.3V473.1M1629.06 467.3h4.8M1636.49 465.7V472.3M1634.09 465.7h4.8M1634.09 472.3h4.8M1641.52 463.6V471.2M1639.12 463.6h4.8M1639.12 471.2h4.8M1646.55 460.2V469.4M1644.15 460.2h4.8M1644.15 469.4h4.8M1651.58 455.4V467.6M1649.18 455.4h4.8M1649.18 467.6h4.8M1656.61 446.6V463.4M1654.21 446.6h4.8M1654.21 463.4h4.8M1661.64 435.9V456.7M1659.24 435.9h4.8M1659.24 456.7h4.8M1666.67 422.4V448.2M1664.27 422.4h4.8M1664.27 448.2h4.8M1671.70 405.9V436.1M1669.30 405.9h4.8M1669.30 436.1h4.8M1676.73 389.6V421.2M1674.33 389.6h4.8M1674.33 421.2h4.8M1681.76 375.2V406.4M1679.36 375.2h4.8M1679.36 406.4h4.8M1686.79 362.3V391.5M1684.39 362.3h4.8M1684.39 391.5h4.8M1691.82 354.6V378.0M1689.42 354.6h4.8M1689.42 378.0h4.8M1696.85 353.2V369.0M1694.45 353.2h4.8M1694.45 369.0h4.8M1701.88 353.3V368.9M1699.48 353.3h4.8M1699.48 368.9h4.8M1706.91 355.3V376.5M1704.51 355.3h4.8M1704.51 376.5h4.8M1711.94 361.9V386.1M1709.54 361.9h4.8M1709.54 386.1h4.8M1716.97 370.9V395.9M1714.57 370.9h4.8M1714.57 395.9h4.8M1722.00 381.6V405.4M1719.60 381.6h4.8M1719.60 405.4h4.8M1727.03 391.6V413.0M1724.63 391.6h4.8M1724.63 413.0h4.8M1732.06 400.5V419.5M1729.66 400.5h4.8M1729.66 419.5h4.8M1737.09 407.8V424.8M1734.69 407.8h4.8M1734.69 424.8h4.8M1742.12 414.6V429.2M1739.72 414.6h4.8M1739.72 429.2h4.8M1747.15 419.8V431.4M1744.75 419.8h4.8M1744.75 431.4h4.8M1752.18 422.3V432.5M1749.78 422.3h4.8M1749.78 432.5h4.8M1757.21 424.3V434.5M1754.81 424.3h4.8M1754.81 434.5h4.8M1762.24 425.4V437.6M1759.84 425.4h4.8M1759.84 437.6h4.8M1767.27 428.7V443.7M1764.87 428.7h4.8M1764.87 443.7h4.8M1772.30 434.9V450.3M1769.90 434.9h4.8M1769.90 450.3h4.8M1777.33 441.5V455.5M1774.93 441.5h4.8M1774.93 455.5h4.8M1782.36 447.8V459.0M1779.96 447.8h4.8M1779.96 459.0h4.8M1787.39 451.8V460.2M1784.99 451.8h4.8M1784.99 460.2h4.8M1792.42 454.1V461.1M1790.02 454.1h4.8M1790.02 461.1h4.8M1797.45 454.9V461.9M1795.05 454.9h4.8M1795.05 461.9h4.8M1802.48 455.3V464.9M1800.08 455.3h4.8M1800.08 464.9h4.8M1807.51 459.7V469.3M1805.11 459.7h4.8M1805.11 469.3h4.8M1812.54 463.6V469.4M1810.14 463.6h4.8M1810.14 469.4h4.8M1817.57 463.7V468.7M1815.17 463.7h4.8M1815.17 468.7h4.8M1822.60 464.7V469.1M1820.20 464.7h4.8M1820.20 469.1h4.8M1827.63 466.4V470.8M1825.23 466.4h4.8M1825.23 470.8h4.8M1832.66 460.4V468.6M1830.26 460.4h4.8M1830.26 468.6h4.8M1837.69 454.1V462.9M1835.29 454.1h4.8M1835.29 462.9h4.8M1842.72 448.3V458.9M1840.32 448.3h4.8M1840.32 458.9h4.8M1847.75 435.8V452.6M1845.35 435.8h4.8M1845.35 452.6h4.8M1852.78 414.4V440.4M1850.38 414.4h4.8M1850.38 440.4h4.8M1857.81 383.3V417.7M1855.41 383.3h4.8M1855.41 417.7h4.8M1862.84 348.5V387.5M1860.44 348.5h4.8M1860.44 387.5h4.8M1867.87 313.0V352.0M1865.47 313.0h4.8M1865.47 352.0h4.8M1872.90 286.3V317.7M1870.50 286.3h4.8M1870.50 317.7h4.8M1877.93 274.8V293.2M1875.53 274.8h4.8M1875.53 293.2h4.8M1882.96 274.0V286.6M1880.56 274.0h4.8M1880.56 286.6h4.8M1887.99 280.1V307.7M1885.59 280.1h4.8M1885.59 307.7h4.8M1893.02 302.6V339.4M1890.62 302.6h4.8M1890.62 339.4h4.8M1898.05 335.0V373.0M1895.65 335.0h4.8M1895.65 373.0h4.8M1903.08 368.8V402.0M1900.68 368.8h4.8M1900.68 402.0h4.8M1908.11 397.0V423.6M1905.71 397.0h4.8M1905.71 423.6h4.8M1913.14 419.3V439.5M1910.74 419.3h4.8M1910.74 439.5h4.8M1918.17 435.2V449.8M1915.77 435.2h4.8M1915.77 449.8h4.8M1923.20 445.5V456.7M1920.80 445.5h4.8M1920.80 456.7h4.8M1928.23 453.0V462.6M1925.83 453.0h4.8M1925.83 462.6h4.8M1933.26 459.5V467.1M1930.86 459.5h4.8M1930.86 467.1h4.8M1938.29 463.5V469.5M1935.89 463.5h4.8M1935.89 469.5h4.8M1943.32 466.5V471.5M1940.92 466.5h4.8M1940.92 471.5h4.8M1948.35 468.1V472.3M1945.95 468.1h4.8M1945.95 472.3h4.8M1953.38 469.3V473.1M1950.98 469.3h4.8M1958.41 470.0V473.6M1956.01 470.0h4.8M1963.44 471.5V473.1M1961.04 471.5h4.8M1968.47 471.9V473.5M1966.07 471.9h4.8M1973.50 472.2V473.8M1971.10 472.2h4.8M1978.53 472.5V474.0M1976.13 472.5h4.8M1983.56 472.6V474.0M1981.16 472.6h4.8M1988.59 472.6V474.0M1986.19 472.6h4.8M1993.62 472.6V474.0M1991.22 472.6h4.8M1998.65 472.7V474.0M1996.25 472.7h4.8M2003.68 472.8V474.0M2001.28 472.8h4.8M2008.71 472.8V474.0M2006.31 472.8h4.8M2013.74 472.9V474.0M2011.34 472.9h4.8M2018.77 472.9V474.0M2016.37 472.9h4.8M2023.80 472.9V474.0M2021.40 472.9h4.8M2028.83 473.0V474.0M2026.43 473.0h4.8M2033.86 473.1V474.0M2031.46 473.1h4.8M2038.89 473.1V474.0M2036.49 473.1h4.8" fill="none" stroke="#2a2a2a" stroke-width=".8"/>
</g>
<line x1="1570.6" y1="37.9" x2="1570.6" y2="476.1" stroke="#111" stroke-width="2.3"/>
<line x1="1569.5" y1="39.0" x2="2041.6" y2="39.0" stroke="#111" stroke-width="2.3"/>
<line x1="2040.5" y1="37.9" x2="2040.5" y2="256.5" stroke="#111" stroke-width="2.2"/>
<line x1="1562.5" y1="474.8" x2="2041.2" y2="474.8" stroke="#111" stroke-width="2.7"/>
<line x1="2040.2" y1="255.7" x2="2040.2" y2="476.1" stroke="#ff8c1a" stroke-width="1.7"/>
<text font-size="25" text-anchor="end" x="1556.6" y="47.6">3.5</text>
<text font-size="25" text-anchor="end" x="1556.6" y="96.02">3.0</text>
<text font-size="25" text-anchor="end" x="1556.6" y="144.44">2.5</text>
<text font-size="25" text-anchor="end" x="1556.6" y="192.86">2.0</text>
<text font-size="25" text-anchor="end" x="1556.6" y="241.28">1.5</text>
<text font-size="25" text-anchor="end" x="1556.6" y="289.7">1.0</text>
<text font-size="25" text-anchor="end" x="1556.6" y="338.12">0.5</text>
<text font-size="25" text-anchor="end" x="1556.6" y="386.54">0</text>
<text font-size="25" text-anchor="end" x="1556.6" y="434.96">−0.5</text>
<text font-size="25" text-anchor="end" x="1556.6" y="483.38">−1.0</text>
<text font-size="25" text-anchor="middle" x="1633.5" y="506.2">2</text>
<text font-size="25" text-anchor="middle" x="1696.2" y="506.2">4</text>
<text font-size="25" text-anchor="middle" x="1758.9" y="506.2">6</text>
<text font-size="25" text-anchor="middle" x="1821.6" y="506.2">8</text>
<text font-size="25" text-anchor="middle" x="1884.3" y="506.2">10</text>
<text font-size="25" text-anchor="middle" x="1947.0" y="506.2">12</text>
<text font-size="25" text-anchor="middle" x="2009.7" y="506.2">14</text>
<path d="M1562.4 39.0H1570.6M1566.8 63.21H1570.6M1562.4 87.42H1570.6M1566.8 111.63H1570.6M1562.4 135.84H1570.6M1566.8 160.05H1570.6M1562.4 184.26H1570.6M1566.8 208.47H1570.6M1562.4 232.68H1570.6M1566.8 256.89H1570.6M1562.4 281.1H1570.6M1566.8 305.31H1570.6M1562.4 329.52H1570.6M1566.8 353.73H1570.6M1562.4 377.94H1570.6M1566.8 402.15H1570.6M1562.4 426.36H1570.6M1566.8 450.57H1570.6M1562.4 474.78H1570.6M1602.15 39V41.4M1602.15 474.8V478M1633.5 39V43.8M1633.5 474.8V480.6M1664.85 39V41.4M1664.85 474.8V478M1696.2 39V43.8M1696.2 474.8V480.6M1727.55 39V41.4M1727.55 474.8V478M1758.9 39V43.8M1758.9 474.8V480.6M1790.25 39V41.4M1790.25 474.8V478M1821.6 39V43.8M1821.6 474.8V480.6M1852.95 39V41.4M1852.95 474.8V478M1884.3 39V43.8M1884.3 474.8V480.6M1915.65 39V41.4M1915.65 474.8V478M1947.0 39V43.8M1947.0 474.8V480.6M1978.35 39V41.4M1978.35 474.8V478M2009.7 39V43.8M2009.7 474.8V480.6M2040.5 73.2H2045.9M2040.5 118.8H2045.9M2040.5 164.4H2045.9M2040.5 210.0H2045.9M2040.5 255.6H2045.9M2040.5 49.6H2043.2M2040.5 96.0H2043.2M2040.5 141.6H2043.2M2040.5 187.2H2043.2M2040.5 232.8H2043.2" fill="none" stroke="#111" stroke-width="2"/>
<text font-size="25" x="2048.2" y="483.4">0</text>
<text font-size="25" x="2048.2" y="447.05">0.05</text>
<text font-size="25" x="2048.2" y="410.7">0.10</text>
<text font-size="25" x="2048.2" y="374.35">0.15</text>
<text font-size="25" x="2048.2" y="338.0">0.20</text>
<text font-size="25" x="2048.2" y="301.65">0.25</text>
<path d="M2040.2 474.4H2046.2M2040.2 456.23H2043.4M2040.2 438.05H2046.2M2040.2 419.88H2043.4M2040.2 401.7H2046.2M2040.2 383.53H2043.4M2040.2 365.35H2046.2M2040.2 347.18H2043.4M2040.2 329.0H2046.2M2040.2 310.83H2043.4M2040.2 292.65H2046.2M2040.2 274.48H2043.4" fill="none" stroke="#ff8c1a" stroke-width="1.7"/>
<polyline points="1586.5,140.8 1617.8,133.6 1649.2,150.2 1680.5,208.9 1711.9,245.4 1743.2,268.8 1774.6,273.1 1805.9,260.7 1837.3,256.1 1868.6,146.0 1900.0,96.4 1931.3,97.1 1962.7,101.7 1994.0,101.0 2025.4,85.5" fill="none" stroke="#808080" stroke-width="2.6" stroke-linejoin="round"/>
<path d="M1733 96.3H1913.8M1616.8 137.4H1825" fill="none" stroke="#000" stroke-width="4.6" stroke-dasharray="17.1 12.1"/>
<path d="M1586.5 124.5V157.1M1581.1 124.5h10.8M1581.1 157.1h10.8M1617.8 117.6V149.6M1612.4 117.6h10.8M1612.4 149.6h10.8M1649.2 134.6V165.8M1643.8 134.6h10.8M1643.8 165.8h10.8M1680.5 194.6V223.2M1675.1 194.6h10.8M1675.1 223.2h10.8M1711.9 235.1V255.7M1706.5 235.1h10.8M1706.5 255.7h10.8M1743.2 259.8V277.8M1737.8 259.8h10.8M1737.8 277.8h10.8M1774.6 269.1V277.1M1769.2 269.1h10.8M1769.2 277.1h10.8M1805.9 252.4V269.0M1800.5 252.4h10.8M1800.5 269.0h10.8M1837.3 247.6V264.6M1831.9 247.6h10.8M1831.9 264.6h10.8M1868.6 133.1V158.9M1863.2 133.1h10.8M1863.2 158.9h10.8M1900.0 78.2V114.6M1894.6 78.2h10.8M1894.6 114.6h10.8M1931.3 83.7V110.5M1925.9 83.7h10.8M1925.9 110.5h10.8M1962.7 90.1V113.3M1957.3 90.1h10.8M1957.3 113.3h10.8M1994.0 86.3V115.7M1988.6 86.3h10.8M1988.6 115.7h10.8M2025.4 77.7V93.3M2020.0 77.7h10.8M2020.0 93.3h10.8" fill="none" stroke="#000" stroke-width="3.1"/>
<circle cx="1586.5" cy="140.8" r="5.5" fill="url(#sphK)"/>
<circle cx="1617.8" cy="133.6" r="5.5" fill="url(#sphK)"/>
<circle cx="1649.2" cy="150.2" r="5.5" fill="url(#sphK)"/>
<circle cx="1680.5" cy="208.9" r="5.5" fill="url(#sphK)"/>
<circle cx="1711.9" cy="245.4" r="5.5" fill="url(#sphK)"/>
<circle cx="1743.2" cy="268.8" r="5.5" fill="url(#sphK)"/>
<circle cx="1774.6" cy="273.1" r="5.5" fill="url(#sphK)"/>
<circle cx="1805.9" cy="260.7" r="5.5" fill="url(#sphK)"/>
<circle cx="1837.3" cy="256.1" r="5.5" fill="url(#sphK)"/>
<circle cx="1868.6" cy="146.0" r="5.5" fill="url(#sphK)"/>
<circle cx="1900.0" cy="96.4" r="5.5" fill="url(#sphK)"/>
<circle cx="1931.3" cy="97.1" r="5.5" fill="url(#sphK)"/>
<circle cx="1962.7" cy="101.7" r="5.5" fill="url(#sphK)"/>
<circle cx="1994.0" cy="101.0" r="5.5" fill="url(#sphK)"/>
<circle cx="2025.4" cy="85.5" r="5.5" fill="url(#sphK)"/>
<text font-size="20" textLength="59.5" lengthAdjust="spacingAndGlyphs" x="1752.4" y="125.8">15.9%</text>
<text font-size="25" text-anchor="middle" textLength="220" lengthAdjust="spacingAndGlyphs" x="1803.2" y="538.4">Probe position (nm)</text>
<text font-size="25" text-anchor="middle" textLength="387" lengthAdjust="spacingAndGlyphs" transform="translate(1503.4,257.2) rotate(-90)">Normalized intensity (ZLP = 1,000)</text>
<text font-size="25" text-anchor="middle" textLength="175" lengthAdjust="spacingAndGlyphs" transform="translate(2128,368) rotate(-90)">Ge composition</text>
<text font-size="25" text-anchor="middle" textLength="166.5" lengthAdjust="spacingAndGlyphs" transform="translate(2155,367.5) rotate(-90)">gradient (<tspan font-style="italic">x</tspan>/nm)</text>
<text transform="translate(1470.2,24.1) scale(1.1,0.885)" font-size="34.5" font-weight="bold" stroke="#000" stroke-width=".5">d</text>
</g>
<g id="panelE">
<rect x="1570" y="552.4" width="468" height="268.3" fill="none" stroke="#111" stroke-width="2"/>
<text font-size="25" text-anchor="end" x="1556.8" y="828.3">0</text>
<text font-size="25" text-anchor="end" x="1556.8" y="774.64">5</text>
<text font-size="25" text-anchor="end" x="1556.8" y="720.98">10</text>
<text font-size="25" text-anchor="end" x="1556.8" y="667.32">15</text>
<text font-size="25" text-anchor="end" x="1556.8" y="613.66">20</text>
<text font-size="25" text-anchor="end" x="1556.8" y="560.0">25</text>
<text font-size="25" text-anchor="middle" x="1592.9" y="854.0">0.30</text>
<text font-size="25" text-anchor="middle" x="1710.0" y="854.0">0.35</text>
<text font-size="25" text-anchor="middle" x="1827.1" y="854.0">0.40</text>
<text font-size="25" text-anchor="middle" x="1944.2" y="854.0">0.45</text>
<path d="M1563.8 820.7H1570M1566.8 793.87H1570M1563.8 767.04H1570M1566.8 740.21H1570M1563.8 713.38H1570M1566.8 686.55H1570M1563.8 659.72H1570M1566.8 632.89H1570M1563.8 606.06H1570M1566.8 579.23H1570M1563.8 552.4H1570M1592.9 820.7V827M1651.45 820.7V824M1710.0 820.7V827M1768.55 820.7V824M1827.1 820.7V827M1885.65 820.7V824M1944.2 820.7V827M2002.75 820.7V824" fill="none" stroke="#111" stroke-width="2"/>
<path d="M1616.3 732.8H1710.0M1616.3 729.8v6M1710.0 729.8v6M1663.2 718.9V746.8M1660.2 718.9h6M1660.2 746.8h6M1639.7 650.1H1780.3M1639.7 647.1v6M1780.3 647.1v6M1710.0 617.9V682.3M1707.0 617.9h6M1707.0 682.3h6M1850.5 577.1H1991.0M1850.5 574.1v6M1991.0 574.1v6M1920.8 563.8V590.4M1917.8 563.8h6M1917.8 590.4h6" fill="none" stroke="#ff4040" stroke-width="1.5"/>
<circle cx="1663.2" cy="732.8" r="5.6" fill="url(#sphR)"/>
<circle cx="1710.0" cy="650.1" r="5.6" fill="url(#sphR)"/>
<circle cx="1920.8" cy="577.1" r="5.6" fill="url(#sphR)"/>
<text font-size="25" text-anchor="middle" textLength="209" lengthAdjust="spacingAndGlyphs" x="1796.8" y="885.3">Ge composition (<tspan font-style="italic">x</tspan>)</text>
<text font-size="25" text-anchor="middle" textLength="298" lengthAdjust="spacingAndGlyphs" transform="translate(1503.7,692.4) rotate(-90)">Intensity enhancement (%)</text>
<text transform="translate(1470.2,532.6) scale(1.17,1.0)" font-size="34.5" font-weight="bold" stroke="#000" stroke-width=".5">e</text>
</g>
</svg></body></html>
